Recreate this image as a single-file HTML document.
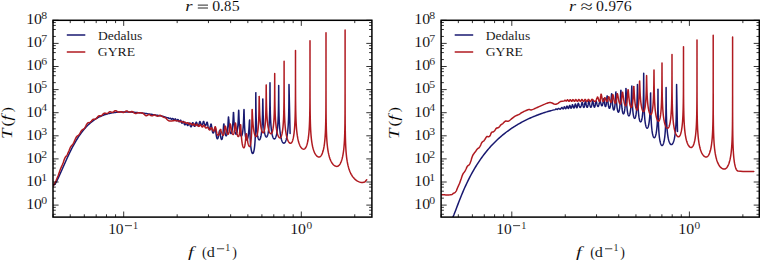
<!DOCTYPE html>
<html><head><meta charset="utf-8"><style>
html,body{margin:0;padding:0;background:#fff;width:760px;height:260px;overflow:hidden}
svg{display:block}
</style></head><body>
<svg width="760" height="260" viewBox="0 0 760 260">
<defs>
<clipPath id="cL"><rect x="53.0" y="20.3" width="318.90" height="196.80"/></clipPath>
<clipPath id="cR"><rect x="441.1" y="20.3" width="318.20" height="196.80"/></clipPath>
</defs>
<rect width="760" height="260" fill="#fff"/>
<g font-family="'Liberation Serif', serif" fill="#000" stroke="#fff" stroke-width="0.16" stroke-opacity="0.7">
<text transform="translate(27.60,208.90) scale(1.053,1)" x="-1.32" y="0" font-size="15.0">10</text>
<text transform="translate(41.15,203.80) scale(1.12,1)" x="0" y="0" font-size="10.5">0</text>
<text transform="translate(27.60,185.80) scale(1.053,1)" x="-1.32" y="0" font-size="15.0">10</text>
<text transform="translate(41.15,180.70) scale(1.12,1)" x="0" y="0" font-size="10.5">1</text>
<text transform="translate(27.60,162.70) scale(1.053,1)" x="-1.32" y="0" font-size="15.0">10</text>
<text transform="translate(41.15,157.60) scale(1.12,1)" x="0" y="0" font-size="10.5">2</text>
<text transform="translate(27.60,139.60) scale(1.053,1)" x="-1.32" y="0" font-size="15.0">10</text>
<text transform="translate(41.15,134.50) scale(1.12,1)" x="0" y="0" font-size="10.5">3</text>
<text transform="translate(27.60,116.50) scale(1.053,1)" x="-1.32" y="0" font-size="15.0">10</text>
<text transform="translate(41.15,111.40) scale(1.12,1)" x="0" y="0" font-size="10.5">4</text>
<text transform="translate(27.60,93.40) scale(1.053,1)" x="-1.32" y="0" font-size="15.0">10</text>
<text transform="translate(41.15,88.30) scale(1.12,1)" x="0" y="0" font-size="10.5">5</text>
<text transform="translate(27.60,70.30) scale(1.053,1)" x="-1.32" y="0" font-size="15.0">10</text>
<text transform="translate(41.15,65.20) scale(1.12,1)" x="0" y="0" font-size="10.5">6</text>
<text transform="translate(27.60,47.20) scale(1.053,1)" x="-1.32" y="0" font-size="15.0">10</text>
<text transform="translate(41.15,42.10) scale(1.12,1)" x="0" y="0" font-size="10.5">7</text>
<text transform="translate(27.60,24.10) scale(1.053,1)" x="-1.32" y="0" font-size="15.0">10</text>
<text transform="translate(41.15,19.00) scale(1.12,1)" x="0" y="0" font-size="10.5">8</text>
<text transform="translate(415.70,208.90) scale(1.053,1)" x="-1.32" y="0" font-size="15.0">10</text>
<text transform="translate(429.25,203.80) scale(1.12,1)" x="0" y="0" font-size="10.5">0</text>
<text transform="translate(415.70,185.80) scale(1.053,1)" x="-1.32" y="0" font-size="15.0">10</text>
<text transform="translate(429.25,180.70) scale(1.12,1)" x="0" y="0" font-size="10.5">1</text>
<text transform="translate(415.70,162.70) scale(1.053,1)" x="-1.32" y="0" font-size="15.0">10</text>
<text transform="translate(429.25,157.60) scale(1.12,1)" x="0" y="0" font-size="10.5">2</text>
<text transform="translate(415.70,139.60) scale(1.053,1)" x="-1.32" y="0" font-size="15.0">10</text>
<text transform="translate(429.25,134.50) scale(1.12,1)" x="0" y="0" font-size="10.5">3</text>
<text transform="translate(415.70,116.50) scale(1.053,1)" x="-1.32" y="0" font-size="15.0">10</text>
<text transform="translate(429.25,111.40) scale(1.12,1)" x="0" y="0" font-size="10.5">4</text>
<text transform="translate(415.70,93.40) scale(1.053,1)" x="-1.32" y="0" font-size="15.0">10</text>
<text transform="translate(429.25,88.30) scale(1.12,1)" x="0" y="0" font-size="10.5">5</text>
<text transform="translate(415.70,70.30) scale(1.053,1)" x="-1.32" y="0" font-size="15.0">10</text>
<text transform="translate(429.25,65.20) scale(1.12,1)" x="0" y="0" font-size="10.5">6</text>
<text transform="translate(415.70,47.20) scale(1.053,1)" x="-1.32" y="0" font-size="15.0">10</text>
<text transform="translate(429.25,42.10) scale(1.12,1)" x="0" y="0" font-size="10.5">7</text>
<text transform="translate(415.70,24.10) scale(1.053,1)" x="-1.32" y="0" font-size="15.0">10</text>
<text transform="translate(429.25,19.00) scale(1.12,1)" x="0" y="0" font-size="10.5">8</text>
<text transform="translate(109.50,233.80) scale(1.030,1)" x="-1.32" y="0" font-size="15.0">10</text>
<rect x="124.90" y="225.27" width="7.10" height="0.85"/>
<text transform="translate(134.00,228.60) scale(0.974,1)" x="-0.92" y="0" font-size="10.5">1</text>
<text transform="translate(291.60,233.90) scale(1.053,1)" x="-1.32" y="0" font-size="15.0">10</text>
<text transform="translate(306.90,228.50) scale(1.079,1)" x="-0.40" y="0" font-size="10.5">0</text>
<text transform="translate(497.60,233.80) scale(1.030,1)" x="-1.32" y="0" font-size="15.0">10</text>
<rect x="513.00" y="225.27" width="7.10" height="0.85"/>
<text transform="translate(522.10,228.60) scale(0.974,1)" x="-0.92" y="0" font-size="10.5">1</text>
<text transform="translate(679.70,233.90) scale(1.053,1)" x="-1.32" y="0" font-size="15.0">10</text>
<text transform="translate(695.00,228.50) scale(1.079,1)" x="-0.40" y="0" font-size="10.5">0</text>
<text transform="translate(188.10,256.50) scale(1.335,1)" x="-0.17" y="0" font-size="15.5" font-style="italic">f</text>
<text transform="translate(202.70,256.50) scale(0.904,1)" x="-0.68" y="0" font-size="15.5">(</text>
<text transform="translate(207.30,256.50) scale(1.043,1)" x="-0.56" y="0" font-size="15.5">d</text>
<rect x="216.90" y="248.38" width="7.30" height="0.85"/>
<text transform="translate(226.20,251.20) scale(0.947,1)" x="-0.92" y="0" font-size="10.5">1</text>
<text transform="translate(232.70,256.50) scale(0.904,1)" x="-0.50" y="0" font-size="15.5">)</text>
<text transform="translate(576.20,256.50) scale(1.335,1)" x="-0.17" y="0" font-size="15.5" font-style="italic">f</text>
<text transform="translate(590.80,256.50) scale(0.904,1)" x="-0.68" y="0" font-size="15.5">(</text>
<text transform="translate(595.40,256.50) scale(1.043,1)" x="-0.56" y="0" font-size="15.5">d</text>
<rect x="605.00" y="248.38" width="7.30" height="0.85"/>
<text transform="translate(614.30,251.20) scale(0.947,1)" x="-0.92" y="0" font-size="10.5">1</text>
<text transform="translate(620.80,256.50) scale(0.904,1)" x="-0.50" y="0" font-size="15.5">)</text>
<text transform="translate(11.60,137.70) rotate(-90) scale(1.220,1)" x="-1.01" y="0" font-size="15.5" font-style="italic">T</text>
<text transform="translate(11.60,125.80) rotate(-90) scale(1.130,1)" x="-0.68" y="0" font-size="15.5">(</text>
<text transform="translate(11.60,120.50) rotate(-90) scale(1.301,1)" x="-0.17" y="0" font-size="15.5" font-style="italic">f</text>
<text transform="translate(11.60,111.70) rotate(-90) scale(1.005,1)" x="-0.50" y="0" font-size="15.5">)</text>
<text transform="translate(399.10,137.70) rotate(-90) scale(1.220,1)" x="-1.01" y="0" font-size="15.5" font-style="italic">T</text>
<text transform="translate(399.10,125.80) rotate(-90) scale(1.130,1)" x="-0.68" y="0" font-size="15.5">(</text>
<text transform="translate(399.10,120.50) rotate(-90) scale(1.301,1)" x="-0.17" y="0" font-size="15.5" font-style="italic">f</text>
<text transform="translate(399.10,111.70) rotate(-90) scale(1.005,1)" x="-0.50" y="0" font-size="15.5">)</text>
<text transform="translate(186.00,10.50) scale(1.211,1)" x="-0.63" y="0" font-size="15.5" font-style="italic">r</text>
<rect x="197.80" y="4.62" width="10.20" height="0.95"/>
<rect x="197.80" y="7.53" width="10.20" height="0.95"/>
<text transform="translate(212.90,10.70) scale(1.020,1)" x="-0.59" y="0" font-size="15.5">0</text>
<text transform="translate(220.90,10.70) scale(1.147,1)" x="-1.02" y="0" font-size="15.5">.</text>
<text transform="translate(224.60,10.70) scale(0.944,1)" x="-0.59" y="0" font-size="15.5">8</text>
<text transform="translate(232.60,10.70) scale(1.025,1)" x="-0.90" y="0" font-size="15.5">5</text>
<text transform="translate(569.80,10.50) scale(1.174,1)" x="-0.63" y="0" font-size="15.5" font-style="italic">r</text>
<text transform="translate(581.10,11.60) scale(1.327,1)" x="-0.47" y="0" font-size="16.8">≈</text>
<text transform="translate(596.70,10.60) scale(1.020,1)" x="-0.59" y="0" font-size="15.5">0</text>
<text transform="translate(605.00,10.60) scale(1.201,1)" x="-1.02" y="0" font-size="15.5">.</text>
<text transform="translate(609.10,10.60) scale(0.968,1)" x="-0.50" y="0" font-size="15.5">9</text>
<text transform="translate(616.90,10.60) scale(1.019,1)" x="-1.02" y="0" font-size="15.5">7</text>
<text transform="translate(624.40,10.60) scale(1.027,1)" x="-0.67" y="0" font-size="15.5">6</text>
<path d="M66.80,35.0H85.30" stroke="#191970" stroke-width="1.5" stroke-opacity="1"/>
<path d="M66.80,52.0H85.30" stroke="#b01a20" stroke-width="1.5" stroke-opacity="1"/>
<text transform="translate(98.30,39.50) scale(1.101,1)" x="-0.35" y="0" font-size="12.3">Dedalus</text>
<text transform="translate(98.30,56.00) scale(1.115,1)" x="-0.50" y="0" font-size="12.3">GYRE</text>
<path d="M454.70,35.0H473.20" stroke="#191970" stroke-width="1.5" stroke-opacity="1"/>
<path d="M454.70,52.0H473.20" stroke="#b01a20" stroke-width="1.5" stroke-opacity="1"/>
<text transform="translate(486.20,39.50) scale(1.101,1)" x="-0.35" y="0" font-size="12.3">Dedalus</text>
<text transform="translate(486.20,56.00) scale(1.115,1)" x="-0.50" y="0" font-size="12.3">GYRE</text>
</g>
<path d="M54.30,184.80 L55.30,183.76 L56.30,181.93 L57.30,179.96 L58.30,177.88 L59.30,175.73 L60.30,173.51 L61.30,171.26 L62.30,168.99 L63.30,166.71 L64.30,164.43 L65.30,162.18 L66.30,159.95 L67.30,157.76 L68.30,155.61 L69.30,153.51 L70.30,151.46 L71.30,149.46 L72.30,147.52 L73.30,145.64 L74.30,143.82 L75.30,142.06 L76.30,140.37 L77.30,138.74 L78.30,137.17 L79.30,135.67 L80.30,134.22 L81.30,132.84 L82.30,131.52 L83.30,130.26 L84.30,129.05 L85.30,127.90 L86.30,126.81 L87.30,125.77 L88.30,124.79 L89.30,123.85 L90.30,122.96 L91.30,122.12 L92.30,121.33 L93.30,120.58 L94.30,119.87 L95.30,119.21 L96.30,118.58 L97.30,118.00 L98.30,117.44 L99.30,116.93 L100.30,116.45 L101.30,116.00 L102.30,115.58 L103.30,115.19 L104.30,114.83 L105.30,114.49 L106.30,114.19 L107.30,113.90 L108.30,113.64 L109.30,113.40 L110.30,113.19 L111.30,112.99 L112.30,112.81 L113.30,112.66 L114.30,112.52 L115.30,112.39 L116.30,112.28 L117.30,112.19 L118.30,112.11 L119.30,112.05 L120.30,111.99 L121.30,111.95 L122.30,111.92 L123.30,111.91 L124.30,111.90 L125.30,111.90 L126.30,111.92 L127.30,111.94 L128.30,111.97 L129.30,112.00 L130.30,112.05 L131.30,112.10 L132.30,112.16 L133.30,112.23 L134.30,112.30 L135.30,112.38 L136.30,112.47 L137.30,112.56 L138.30,112.65 L139.30,112.75 L140.30,112.86 L141.30,112.97 L142.30,113.08 L143.30,113.20 L144.30,113.33 L145.30,113.46 L146.30,113.59 L147.30,113.73 L148.30,113.87 L149.30,114.01 L150.30,114.16 L151.30,114.31 L152.30,114.47 L153.30,114.63 L154.30,114.80 L155.30,114.97 L156.30,115.14 L157.30,115.31 L158.30,115.50 L159.30,115.68 L160.00,115.81 L162.38,116.21 L162.41,116.21 L162.44,116.22 L162.47,116.22 L162.50,116.22 L162.53,116.23 L162.56,116.24 L162.59,116.24 L162.62,116.25 L162.65,116.26 L162.68,116.27 L162.71,116.28 L162.74,116.29 L162.77,116.31 L162.80,116.32 L162.83,116.33 L162.86,116.35 L162.89,116.36 L162.92,116.38 L162.95,116.39 L162.98,116.40 L163.01,116.42 L163.04,116.43 L163.07,116.44 L163.10,116.46 L163.13,116.47 L163.16,116.48 L163.19,116.49 L163.22,116.50 L163.25,116.51 L163.28,116.52 L163.31,116.52 L163.34,116.53 L163.37,116.53 L163.40,116.54 L163.43,116.54 L163.46,116.54 L163.49,116.54 L163.52,116.54 L163.55,116.54 L163.58,116.55 L163.62,116.55 L163.65,116.56 L163.68,116.57 L163.71,116.58 L163.74,116.59 L163.77,116.60 L163.80,116.61 L163.83,116.62 L163.86,116.64 L163.89,116.65 L163.93,116.66 L163.96,116.68 L163.99,116.69 L164.02,116.71 L164.05,116.72 L164.08,116.74 L164.11,116.75 L164.14,116.76 L164.17,116.78 L164.20,116.79 L164.23,116.80 L164.27,116.81 L164.30,116.82 L164.33,116.83 L164.36,116.84 L164.39,116.85 L164.42,116.86 L164.45,116.86 L164.48,116.87 L164.51,116.87 L164.54,116.87 L164.57,116.87 L164.61,116.87 L164.64,116.87 L164.67,116.88 L164.70,116.88 L164.73,116.89 L164.76,116.89 L164.79,116.90 L164.82,116.91 L164.85,116.91 L164.88,116.92 L164.92,116.93 L164.95,116.94 L164.98,116.96 L165.01,116.97 L165.04,116.98 L165.07,116.99 L165.10,117.00 L165.13,117.02 L165.16,117.03 L165.19,117.04 L165.22,117.05 L165.26,117.06 L165.29,117.08 L165.32,117.09 L165.35,117.10 L165.38,117.11 L165.41,117.12 L165.44,117.12 L165.47,117.13 L165.50,117.14 L165.53,117.14 L165.56,117.15 L165.60,117.15 L165.63,117.16 L165.66,117.16 L165.69,117.16 L165.72,117.16 L165.75,117.16 L165.78,117.17 L165.82,117.17 L165.85,117.18 L165.88,117.19 L165.91,117.21 L165.94,117.22 L165.98,117.24 L166.01,117.25 L166.04,117.27 L166.07,117.29 L166.10,117.31 L166.13,117.33 L166.17,117.36 L166.20,117.38 L166.23,117.40 L166.26,117.42 L166.29,117.45 L166.33,117.47 L166.36,117.49 L166.39,117.51 L166.42,117.53 L166.45,117.55 L166.49,117.57 L166.52,117.59 L166.55,117.61 L166.58,117.62 L166.61,117.63 L166.64,117.65 L166.68,117.66 L166.71,117.66 L166.74,117.67 L166.77,117.68 L166.80,117.68 L166.84,117.68 L166.87,117.68 L166.90,117.68 L166.93,117.68 L166.96,117.68 L166.99,117.68 L167.03,117.68 L167.06,117.68 L167.09,117.68 L167.12,117.68 L167.15,117.68 L167.19,117.68 L167.22,117.68 L167.25,117.68 L167.28,117.68 L167.31,117.68 L167.35,117.68 L167.38,117.68 L167.41,117.68 L167.44,117.68 L167.47,117.68 L167.50,117.68 L167.54,117.68 L167.57,117.68 L167.60,117.68 L167.63,117.68 L167.66,117.68 L167.70,117.68 L167.73,117.69 L167.76,117.69 L167.79,117.69 L167.82,117.69 L167.85,117.69 L167.89,117.69 L167.92,117.69 L167.95,117.69 L167.98,117.69 L168.02,117.69 L168.05,117.69 L168.08,117.70 L168.11,117.71 L168.15,117.73 L168.18,117.75 L168.21,117.77 L168.24,117.79 L168.28,117.82 L168.31,117.85 L168.34,117.88 L168.38,117.91 L168.41,117.94 L168.44,117.98 L168.47,118.02 L168.51,118.05 L168.54,118.09 L168.57,118.13 L168.61,118.17 L168.64,118.20 L168.67,118.24 L168.70,118.27 L168.74,118.31 L168.77,118.34 L168.80,118.37 L168.84,118.40 L168.87,118.42 L168.90,118.45 L168.93,118.47 L168.97,118.49 L169.00,118.50 L169.03,118.52 L169.07,118.53 L169.10,118.53 L169.13,118.54 L169.16,118.54 L169.20,118.54 L169.23,118.54 L169.26,118.54 L169.30,118.53 L169.33,118.53 L169.36,118.52 L169.39,118.51 L169.43,118.50 L169.46,118.49 L169.49,118.48 L169.53,118.47 L169.56,118.46 L169.59,118.44 L169.62,118.43 L169.66,118.41 L169.69,118.40 L169.72,118.39 L169.76,118.37 L169.79,118.36 L169.82,118.34 L169.85,118.33 L169.89,118.31 L169.92,118.30 L169.95,118.28 L169.99,118.27 L170.02,118.26 L170.05,118.25 L170.08,118.24 L170.12,118.23 L170.15,118.22 L170.18,118.21 L170.22,118.21 L170.25,118.20 L170.28,118.20 L170.31,118.20 L170.35,118.20 L170.38,118.20 L170.41,118.20 L170.45,118.22 L170.48,118.23 L170.52,118.25 L170.55,118.27 L170.58,118.30 L170.62,118.33 L170.65,118.36 L170.69,118.40 L170.72,118.44 L170.75,118.48 L170.79,118.53 L170.82,118.57 L170.85,118.62 L170.89,118.66 L170.92,118.71 L170.96,118.76 L170.99,118.80 L171.02,118.85 L171.06,118.89 L171.09,118.94 L171.13,118.98 L171.16,119.02 L171.19,119.06 L171.23,119.09 L171.26,119.13 L171.29,119.16 L171.33,119.18 L171.36,119.21 L171.40,119.23 L171.43,119.24 L171.46,119.26 L171.50,119.27 L171.53,119.27 L171.57,119.27 L171.60,119.27 L171.63,119.27 L171.67,119.26 L171.70,119.25 L171.74,119.24 L171.77,119.22 L171.80,119.21 L171.84,119.19 L171.87,119.17 L171.90,119.14 L171.94,119.12 L171.97,119.09 L172.01,119.06 L172.04,119.03 L172.07,119.00 L172.11,118.97 L172.14,118.94 L172.18,118.90 L172.21,118.87 L172.24,118.84 L172.28,118.80 L172.31,118.77 L172.34,118.74 L172.38,118.71 L172.41,118.68 L172.45,118.65 L172.48,118.63 L172.51,118.61 L172.55,118.58 L172.58,118.57 L172.62,118.55 L172.65,118.54 L172.68,118.53 L172.72,118.52 L172.75,118.51 L172.79,118.51 L172.82,118.52 L172.86,118.52 L172.89,118.54 L172.93,118.56 L172.96,118.59 L172.99,118.62 L173.03,118.66 L173.06,118.70 L173.10,118.74 L173.13,118.79 L173.17,118.85 L173.20,118.90 L173.24,118.96 L173.27,119.02 L173.31,119.08 L173.34,119.14 L173.38,119.21 L173.41,119.27 L173.45,119.33 L173.48,119.39 L173.52,119.45 L173.55,119.51 L173.59,119.56 L173.62,119.61 L173.66,119.66 L173.69,119.71 L173.73,119.75 L173.76,119.79 L173.80,119.83 L173.83,119.86 L173.87,119.88 L173.90,119.90 L173.94,119.92 L173.97,119.93 L174.01,119.94 L174.04,119.94 L174.08,119.94 L174.11,119.93 L174.15,119.93 L174.18,119.91 L174.22,119.90 L174.25,119.88 L174.29,119.85 L174.32,119.83 L174.36,119.80 L174.39,119.76 L174.43,119.73 L174.46,119.69 L174.50,119.65 L174.53,119.61 L174.57,119.57 L174.60,119.52 L174.64,119.47 L174.67,119.43 L174.71,119.38 L174.74,119.33 L174.78,119.29 L174.81,119.24 L174.85,119.20 L174.88,119.15 L174.92,119.11 L174.95,119.07 L174.99,119.04 L175.02,119.00 L175.06,118.97 L175.09,118.95 L175.13,118.92 L175.16,118.90 L175.20,118.89 L175.23,118.88 L175.27,118.87 L175.30,118.87 L175.34,118.87 L175.38,118.89 L175.41,118.91 L175.45,118.94 L175.48,118.97 L175.52,119.02 L175.56,119.07 L175.59,119.13 L175.63,119.19 L175.67,119.26 L175.70,119.33 L175.74,119.41 L175.77,119.49 L175.81,119.57 L175.85,119.65 L175.88,119.74 L175.92,119.82 L175.95,119.91 L175.99,119.99 L176.03,120.07 L176.06,120.15 L176.10,120.23 L176.14,120.30 L176.17,120.37 L176.21,120.43 L176.24,120.49 L176.28,120.55 L176.32,120.60 L176.35,120.65 L176.39,120.69 L176.42,120.72 L176.46,120.75 L176.50,120.77 L176.53,120.79 L176.57,120.80 L176.61,120.80 L176.64,120.80 L176.68,120.79 L176.71,120.78 L176.75,120.76 L176.79,120.74 L176.82,120.72 L176.86,120.69 L176.89,120.66 L176.93,120.62 L176.97,120.58 L177.00,120.54 L177.04,120.49 L177.08,120.44 L177.11,120.39 L177.15,120.34 L177.18,120.28 L177.22,120.22 L177.26,120.17 L177.29,120.11 L177.33,120.05 L177.36,119.99 L177.40,119.93 L177.44,119.88 L177.47,119.82 L177.51,119.77 L177.55,119.72 L177.58,119.68 L177.62,119.63 L177.65,119.59 L177.69,119.56 L177.73,119.53 L177.76,119.51 L177.80,119.49 L177.83,119.47 L177.87,119.46 L177.91,119.46 L177.94,119.47 L177.98,119.48 L178.02,119.51 L178.06,119.54 L178.09,119.59 L178.13,119.65 L178.17,119.71 L178.21,119.78 L178.24,119.86 L178.28,119.94 L178.32,120.03 L178.36,120.13 L178.39,120.22 L178.43,120.32 L178.47,120.43 L178.51,120.53 L178.54,120.63 L178.58,120.73 L178.62,120.83 L178.66,120.93 L178.69,121.02 L178.73,121.11 L178.77,121.20 L178.81,121.28 L178.84,121.36 L178.88,121.43 L178.92,121.49 L178.95,121.55 L178.99,121.61 L179.03,121.65 L179.07,121.69 L179.10,121.73 L179.14,121.75 L179.18,121.77 L179.22,121.78 L179.25,121.79 L179.29,121.78 L179.33,121.77 L179.37,121.76 L179.40,121.74 L179.44,121.72 L179.48,121.69 L179.52,121.66 L179.55,121.62 L179.59,121.58 L179.63,121.53 L179.67,121.48 L179.70,121.42 L179.74,121.37 L179.78,121.31 L179.82,121.24 L179.85,121.18 L179.89,121.11 L179.93,121.04 L179.97,120.97 L180.00,120.90 L180.04,120.83 L180.08,120.76 L180.11,120.70 L180.15,120.63 L180.19,120.57 L180.23,120.51 L180.26,120.45 L180.30,120.40 L180.34,120.36 L180.38,120.31 L180.41,120.28 L180.45,120.25 L180.49,120.22 L180.53,120.21 L180.56,120.20 L180.60,120.19 L180.64,120.20 L180.68,120.22 L180.72,120.26 L180.76,120.31 L180.80,120.37 L180.83,120.45 L180.87,120.53 L180.91,120.63 L180.95,120.74 L180.99,120.85 L181.03,120.97 L181.07,121.09 L181.11,121.22 L181.14,121.35 L181.18,121.48 L181.22,121.62 L181.26,121.75 L181.30,121.88 L181.34,122.01 L181.38,122.13 L181.42,122.25 L181.45,122.37 L181.49,122.48 L181.53,122.58 L181.57,122.68 L181.61,122.76 L181.65,122.85 L181.69,122.92 L181.73,122.99 L181.76,123.05 L181.80,123.09 L181.84,123.13 L181.88,123.17 L181.92,123.19 L181.96,123.20 L182.00,123.21 L182.04,123.20 L182.07,123.20 L182.11,123.18 L182.15,123.16 L182.19,123.13 L182.23,123.10 L182.27,123.06 L182.31,123.02 L182.35,122.97 L182.39,122.92 L182.42,122.86 L182.46,122.80 L182.50,122.73 L182.54,122.66 L182.58,122.59 L182.62,122.52 L182.66,122.44 L182.70,122.36 L182.73,122.28 L182.77,122.20 L182.81,122.12 L182.85,122.05 L182.89,121.97 L182.93,121.89 L182.97,121.82 L183.01,121.75 L183.04,121.69 L183.08,121.63 L183.12,121.57 L183.16,121.53 L183.20,121.48 L183.24,121.45 L183.28,121.42 L183.32,121.40 L183.35,121.39 L183.39,121.39 L183.43,121.39 L183.47,121.42 L183.51,121.46 L183.55,121.52 L183.60,121.60 L183.64,121.69 L183.68,121.79 L183.72,121.90 L183.76,122.03 L183.80,122.16 L183.84,122.30 L183.88,122.44 L183.92,122.59 L183.96,122.74 L184.00,122.90 L184.04,123.05 L184.08,123.20 L184.12,123.35 L184.16,123.49 L184.20,123.63 L184.24,123.77 L184.28,123.90 L184.32,124.02 L184.36,124.14 L184.40,124.25 L184.44,124.35 L184.48,124.44 L184.52,124.52 L184.56,124.59 L184.60,124.66 L184.64,124.71 L184.69,124.76 L184.73,124.79 L184.77,124.82 L184.81,124.83 L184.85,124.84 L184.89,124.84 L184.93,124.83 L184.97,124.81 L185.01,124.80 L185.05,124.77 L185.09,124.74 L185.13,124.71 L185.17,124.67 L185.21,124.62 L185.25,124.58 L185.29,124.52 L185.33,124.47 L185.37,124.41 L185.41,124.35 L185.45,124.28 L185.49,124.21 L185.53,124.14 L185.57,124.07 L185.61,124.00 L185.65,123.93 L185.69,123.86 L185.73,123.79 L185.78,123.72 L185.82,123.65 L185.86,123.59 L185.90,123.53 L185.94,123.47 L185.98,123.42 L186.02,123.37 L186.06,123.32 L186.10,123.29 L186.14,123.26 L186.18,123.23 L186.22,123.21 L186.26,123.20 L186.30,123.20 L186.34,123.21 L186.38,123.22 L186.42,123.25 L186.46,123.28 L186.50,123.33 L186.54,123.38 L186.58,123.45 L186.62,123.52 L186.66,123.59 L186.70,123.68 L186.74,123.77 L186.78,123.86 L186.82,123.95 L186.86,124.05 L186.90,124.15 L186.94,124.25 L186.98,124.35 L187.03,124.45 L187.07,124.55 L187.11,124.65 L187.15,124.74 L187.19,124.83 L187.23,124.92 L187.27,125.00 L187.31,125.08 L187.35,125.15 L187.39,125.21 L187.43,125.27 L187.47,125.32 L187.51,125.37 L187.55,125.41 L187.59,125.44 L187.63,125.47 L187.67,125.49 L187.71,125.50 L187.75,125.50 L187.79,125.50 L187.83,125.48 L187.87,125.46 L187.91,125.44 L187.95,125.40 L187.99,125.36 L188.03,125.31 L188.07,125.25 L188.11,125.19 L188.15,125.12 L188.19,125.04 L188.23,124.96 L188.27,124.87 L188.31,124.78 L188.35,124.69 L188.39,124.58 L188.43,124.48 L188.47,124.37 L188.52,124.27 L188.56,124.16 L188.60,124.05 L188.64,123.94 L188.68,123.83 L188.72,123.72 L188.76,123.62 L188.80,123.53 L188.84,123.43 L188.88,123.35 L188.92,123.27 L188.96,123.20 L189.00,123.14 L189.04,123.09 L189.08,123.05 L189.12,123.02 L189.16,123.01 L189.20,123.00 L189.25,123.01 L189.30,123.04 L189.35,123.09 L189.40,123.16 L189.45,123.24 L189.50,123.34 L189.55,123.46 L189.60,123.58 L189.65,123.72 L189.70,123.87 L189.75,124.03 L189.80,124.19 L189.85,124.35 L189.90,124.52 L189.95,124.69 L190.00,124.85 L190.05,125.02 L190.10,125.18 L190.15,125.34 L190.20,125.50 L190.25,125.64 L190.30,125.78 L190.35,125.92 L190.40,126.04 L190.45,126.16 L190.50,126.27 L190.55,126.37 L190.60,126.46 L190.65,126.54 L190.70,126.61 L190.75,126.67 L190.80,126.71 L190.85,126.75 L190.90,126.78 L190.95,126.79 L191.00,126.80 L191.05,126.79 L191.10,126.78 L191.15,126.75 L191.20,126.71 L191.25,126.66 L191.30,126.60 L191.35,126.52 L191.40,126.44 L191.45,126.34 L191.50,126.24 L191.55,126.12 L191.60,126.00 L191.65,125.86 L191.70,125.72 L191.75,125.57 L191.80,125.41 L191.85,125.25 L191.90,125.08 L191.95,124.90 L192.00,124.73 L192.05,124.54 L192.10,124.36 L192.15,124.18 L192.20,124.00 L192.25,123.83 L192.30,123.66 L192.35,123.49 L192.40,123.34 L192.45,123.20 L192.50,123.08 L192.55,122.97 L192.60,122.87 L192.65,122.80 L192.70,122.74 L192.75,122.71 L192.80,122.70 L192.85,122.71 L192.90,122.74 L192.95,122.78 L192.99,122.84 L193.04,122.92 L193.09,123.02 L193.14,123.13 L193.19,123.24 L193.24,123.37 L193.29,123.51 L193.33,123.66 L193.38,123.81 L193.43,123.97 L193.48,124.13 L193.53,124.28 L193.58,124.44 L193.63,124.60 L193.68,124.75 L193.72,124.91 L193.77,125.05 L193.82,125.19 L193.87,125.33 L193.92,125.45 L193.97,125.57 L194.02,125.69 L194.06,125.79 L194.11,125.89 L194.16,125.97 L194.21,126.05 L194.26,126.11 L194.31,126.17 L194.36,126.22 L194.40,126.25 L194.45,126.28 L194.50,126.29 L194.55,126.30 L194.60,126.29 L194.65,126.28 L194.70,126.25 L194.74,126.21 L194.79,126.16 L194.84,126.10 L194.89,126.02 L194.94,125.94 L194.99,125.84 L195.04,125.74 L195.08,125.62 L195.13,125.50 L195.18,125.36 L195.23,125.22 L195.28,125.07 L195.33,124.91 L195.38,124.75 L195.43,124.58 L195.47,124.40 L195.52,124.23 L195.57,124.04 L195.62,123.86 L195.67,123.68 L195.72,123.50 L195.77,123.33 L195.81,123.16 L195.86,122.99 L195.91,122.84 L195.96,122.70 L196.01,122.58 L196.06,122.47 L196.11,122.37 L196.15,122.30 L196.20,122.24 L196.25,122.21 L196.30,122.20 L196.35,122.21 L196.40,122.24 L196.45,122.29 L196.50,122.35 L196.55,122.43 L196.60,122.53 L196.65,122.64 L196.70,122.76 L196.75,122.90 L196.80,123.04 L196.85,123.19 L196.90,123.35 L196.95,123.51 L197.00,123.67 L197.05,123.84 L197.10,124.00 L197.15,124.16 L197.20,124.32 L197.25,124.47 L197.30,124.62 L197.35,124.77 L197.40,124.91 L197.45,125.04 L197.50,125.16 L197.55,125.27 L197.60,125.38 L197.65,125.48 L197.70,125.56 L197.75,125.64 L197.80,125.71 L197.85,125.77 L197.90,125.82 L197.95,125.85 L198.00,125.88 L198.05,125.89 L198.10,125.90 L198.15,125.89 L198.20,125.88 L198.25,125.85 L198.30,125.81 L198.35,125.75 L198.40,125.69 L198.45,125.61 L198.50,125.52 L198.55,125.43 L198.60,125.32 L198.65,125.20 L198.70,125.07 L198.75,124.93 L198.80,124.78 L198.85,124.63 L198.90,124.46 L198.95,124.29 L199.00,124.11 L199.05,123.93 L199.10,123.74 L199.15,123.55 L199.20,123.36 L199.25,123.17 L199.30,122.98 L199.35,122.80 L199.40,122.62 L199.45,122.45 L199.50,122.28 L199.55,122.14 L199.60,122.00 L199.65,121.88 L199.70,121.78 L199.75,121.70 L199.80,121.65 L199.85,121.61 L199.90,121.60 L199.95,121.61 L200.00,121.64 L200.05,121.68 L200.11,121.74 L200.16,121.82 L200.21,121.92 L200.26,122.03 L200.31,122.14 L200.36,122.27 L200.41,122.41 L200.47,122.56 L200.52,122.71 L200.57,122.87 L200.62,123.03 L200.67,123.18 L200.72,123.34 L200.77,123.50 L200.82,123.65 L200.88,123.81 L200.93,123.95 L200.98,124.09 L201.03,124.23 L201.08,124.35 L201.13,124.47 L201.18,124.59 L201.24,124.69 L201.29,124.79 L201.34,124.87 L201.39,124.95 L201.44,125.01 L201.49,125.07 L201.54,125.12 L201.60,125.15 L201.65,125.18 L201.70,125.19 L201.75,125.20 L201.80,125.19 L201.85,125.18 L201.90,125.15 L201.96,125.11 L202.01,125.07 L202.06,125.01 L202.11,124.94 L202.16,124.86 L202.21,124.77 L202.26,124.67 L202.32,124.56 L202.37,124.44 L202.42,124.32 L202.47,124.18 L202.52,124.04 L202.57,123.90 L202.62,123.74 L202.68,123.58 L202.73,123.42 L202.78,123.25 L202.83,123.09 L202.88,122.92 L202.93,122.75 L202.98,122.59 L203.03,122.43 L203.09,122.27 L203.14,122.12 L203.19,121.98 L203.24,121.86 L203.29,121.74 L203.34,121.64 L203.39,121.56 L203.45,121.49 L203.50,121.44 L203.55,121.41 L203.60,121.40 L203.65,121.41 L203.70,121.45 L203.75,121.51 L203.79,121.59 L203.84,121.69 L203.89,121.81 L203.94,121.95 L203.99,122.10 L204.04,122.27 L204.09,122.45 L204.13,122.63 L204.18,122.82 L204.23,123.01 L204.28,123.21 L204.33,123.41 L204.38,123.60 L204.43,123.79 L204.47,123.98 L204.52,124.16 L204.57,124.34 L204.62,124.50 L204.67,124.66 L204.72,124.81 L204.77,124.96 L204.82,125.09 L204.86,125.21 L204.91,125.32 L204.96,125.42 L205.01,125.51 L205.06,125.58 L205.11,125.65 L205.16,125.70 L205.20,125.75 L205.25,125.78 L205.30,125.79 L205.35,125.80 L205.40,125.79 L205.45,125.78 L205.50,125.75 L205.54,125.72 L205.59,125.67 L205.64,125.61 L205.69,125.55 L205.74,125.47 L205.79,125.39 L205.84,125.29 L205.88,125.19 L205.93,125.07 L205.98,124.95 L206.03,124.83 L206.08,124.69 L206.13,124.55 L206.18,124.41 L206.22,124.25 L206.27,124.10 L206.32,123.94 L206.37,123.78 L206.42,123.63 L206.47,123.47 L206.52,123.31 L206.57,123.16 L206.61,123.01 L206.66,122.87 L206.71,122.74 L206.76,122.63 L206.81,122.52 L206.86,122.42 L206.91,122.34 L206.95,122.28 L207.00,122.24 L207.05,122.21 L207.10,122.20 L207.16,122.22 L207.21,122.29 L207.27,122.41 L207.32,122.56 L207.38,122.75 L207.43,122.97 L207.49,123.22 L207.54,123.49 L207.60,123.78 L207.66,124.08 L207.71,124.39 L207.77,124.70 L207.82,125.01 L207.88,125.32 L207.93,125.62 L207.99,125.92 L208.04,126.20 L208.10,126.48 L208.16,126.74 L208.21,127.00 L208.27,127.24 L208.32,127.46 L208.38,127.67 L208.43,127.87 L208.49,128.05 L208.54,128.21 L208.60,128.36 L208.66,128.49 L208.71,128.61 L208.77,128.72 L208.82,128.80 L208.88,128.87 L208.93,128.93 L208.99,128.97 L209.04,128.99 L209.10,129.00 L209.16,128.99 L209.21,128.97 L209.27,128.94 L209.32,128.90 L209.38,128.84 L209.43,128.77 L209.49,128.68 L209.54,128.59 L209.60,128.48 L209.66,128.36 L209.71,128.23 L209.77,128.09 L209.82,127.93 L209.88,127.77 L209.93,127.59 L209.99,127.41 L210.04,127.22 L210.10,127.02 L210.16,126.81 L210.21,126.60 L210.27,126.38 L210.32,126.16 L210.38,125.94 L210.43,125.73 L210.49,125.51 L210.54,125.30 L210.60,125.10 L210.66,124.91 L210.71,124.74 L210.77,124.58 L210.82,124.44 L210.88,124.32 L210.93,124.23 L210.99,124.16 L211.04,124.11 L211.10,124.10 L211.16,124.14 L211.21,124.25 L211.27,124.43 L211.33,124.67 L211.38,124.96 L211.44,125.30 L211.50,125.66 L211.56,126.06 L211.61,126.47 L211.67,126.89 L211.73,127.31 L211.78,127.73 L211.84,128.14 L211.90,128.54 L211.95,128.93 L212.01,129.31 L212.07,129.67 L212.12,130.01 L212.18,130.34 L212.24,130.64 L212.30,130.93 L212.35,131.20 L212.41,131.45 L212.47,131.68 L212.52,131.89 L212.58,132.09 L212.64,132.26 L212.69,132.42 L212.75,132.55 L212.81,132.67 L212.87,132.77 L212.92,132.85 L212.98,132.92 L213.04,132.96 L213.09,132.99 L213.15,133.00 L213.21,132.99 L213.26,132.97 L213.32,132.94 L213.38,132.89 L213.43,132.83 L213.49,132.76 L213.55,132.67 L213.61,132.57 L213.66,132.45 L213.72,132.33 L213.78,132.19 L213.83,132.04 L213.89,131.87 L213.95,131.70 L214.00,131.51 L214.06,131.31 L214.12,131.11 L214.17,130.89 L214.23,130.67 L214.29,130.44 L214.35,130.21 L214.40,129.97 L214.46,129.74 L214.52,129.50 L214.57,129.26 L214.63,129.04 L214.69,128.81 L214.74,128.61 L214.80,128.41 L214.86,128.23 L214.92,128.08 L214.97,127.95 L215.03,127.84 L215.09,127.76 L215.14,127.72 L215.20,127.70 L215.26,127.76 L215.32,127.93 L215.38,128.20 L215.44,128.56 L215.51,128.99 L215.57,129.47 L215.63,129.99 L215.69,130.53 L215.75,131.08 L215.81,131.63 L215.87,132.17 L215.93,132.70 L215.99,133.21 L216.06,133.70 L216.12,134.17 L216.18,134.62 L216.24,135.04 L216.30,135.44 L216.36,135.82 L216.42,136.17 L216.48,136.50 L216.54,136.80 L216.61,137.08 L216.67,137.34 L216.73,137.58 L216.79,137.79 L216.85,137.99 L216.91,138.16 L216.97,138.31 L217.03,138.44 L217.09,138.55 L217.16,138.64 L217.22,138.71 L217.28,138.76 L217.34,138.79 L217.40,138.80 L217.46,138.79 L217.52,138.77 L217.58,138.72 L217.64,138.66 L217.71,138.58 L217.77,138.49 L217.83,138.37 L217.89,138.24 L217.95,138.10 L218.01,137.93 L218.07,137.75 L218.13,137.55 L218.19,137.33 L218.26,137.09 L218.32,136.84 L218.38,136.57 L218.44,136.28 L218.50,135.98 L218.56,135.66 L218.62,135.32 L218.68,134.98 L218.74,134.62 L218.81,134.25 L218.87,133.88 L218.93,133.50 L218.99,133.12 L219.05,132.75 L219.11,132.39 L219.17,132.04 L219.23,131.72 L219.29,131.43 L219.36,131.18 L219.42,130.98 L219.48,130.82 L219.54,130.73 L219.60,130.70 L219.66,130.74 L219.72,130.84 L219.78,131.02 L219.83,131.26 L219.89,131.54 L219.95,131.87 L220.01,132.24 L220.07,132.62 L220.12,133.03 L220.18,133.44 L220.24,133.86 L220.30,134.27 L220.36,134.68 L220.42,135.08 L220.47,135.46 L220.53,135.84 L220.59,136.19 L220.65,136.53 L220.71,136.85 L220.77,137.16 L220.82,137.44 L220.88,137.71 L220.94,137.96 L221.00,138.19 L221.06,138.40 L221.12,138.59 L221.17,138.77 L221.23,138.92 L221.29,139.06 L221.35,139.17 L221.41,139.27 L221.47,139.36 L221.52,139.42 L221.58,139.46 L221.64,139.49 L221.70,139.50 L221.85,139.43 L221.99,139.23 L222.13,138.91 L222.25,138.49 L222.38,137.98 L222.49,137.38 L222.60,136.72 L222.71,135.98 L222.81,135.19 L222.90,134.36 L222.99,133.48 L223.07,132.58 L223.14,131.66 L223.22,130.73 L223.28,129.82 L223.34,128.94 L223.40,128.10 L223.45,127.32 L223.50,126.61 L223.54,125.99 L223.58,125.47 L223.62,125.04 L223.65,124.70 L223.68,124.44 L223.70,124.25 L223.72,124.11 L223.74,124.03 L223.76,123.97 L223.77,123.93 L223.78,123.92 L223.79,123.91 L223.79,123.90 L223.80,123.90 L223.80,123.90 L223.80,123.90 L223.80,123.90 L223.80,123.90 L223.80,123.90 L223.80,123.90 L223.81,123.90 L223.81,123.90 L223.82,123.91 L223.83,123.92 L223.85,123.94 L223.86,123.96 L223.88,124.01 L223.91,124.08 L223.94,124.18 L223.97,124.32 L224.00,124.51 L224.04,124.76 L224.09,125.06 L224.13,125.44 L224.19,125.88 L224.25,126.40 L224.31,126.98 L224.38,127.61 L224.45,128.29 L224.53,129.00 L224.62,129.74 L224.71,130.48 L224.81,131.21 L224.91,131.93 L225.02,132.62 L225.14,133.27 L225.26,133.87 L225.39,134.40 L225.53,134.87 L225.67,135.26 L225.83,135.55 L225.98,135.73 L226.15,135.80 L226.32,135.73 L226.47,135.52 L226.63,135.19 L226.77,134.75 L226.91,134.22 L227.04,133.59 L227.16,132.89 L227.28,132.11 L227.39,131.27 L227.49,130.37 L227.59,129.41 L227.68,128.41 L227.77,127.38 L227.85,126.32 L227.92,125.25 L227.99,124.18 L228.05,123.13 L228.11,122.13 L228.17,121.19 L228.21,120.33 L228.26,119.57 L228.30,118.93 L228.33,118.40 L228.36,117.99 L228.39,117.68 L228.42,117.46 L228.44,117.31 L228.45,117.22 L228.47,117.16 L228.48,117.13 L228.49,117.11 L228.49,117.10 L228.50,117.10 L228.50,117.10 L228.50,117.10 L228.50,117.10 L228.50,117.10 L228.50,117.10 L228.50,117.10 L228.51,117.10 L228.51,117.11 L228.52,117.12 L228.54,117.14 L228.55,117.18 L228.57,117.24 L228.59,117.35 L228.61,117.50 L228.64,117.71 L228.68,118.01 L228.71,118.39 L228.76,118.87 L228.80,119.45 L228.86,120.13 L228.91,120.90 L228.97,121.73 L229.04,122.63 L229.12,123.56 L229.19,124.52 L229.28,125.48 L229.37,126.44 L229.47,127.37 L229.57,128.27 L229.68,129.13 L229.80,129.93 L229.92,130.68 L230.06,131.36 L230.19,131.96 L230.34,132.48 L230.49,132.90 L230.65,133.22 L230.82,133.43 L231.00,133.50 L231.18,133.43 L231.35,133.21 L231.51,132.88 L231.66,132.43 L231.81,131.89 L231.94,131.25 L232.08,130.53 L232.20,129.73 L232.32,128.86 L232.43,127.93 L232.53,126.93 L232.63,125.89 L232.72,124.79 L232.81,123.66 L232.88,122.50 L232.96,121.32 L233.03,120.15 L233.09,119.00 L233.14,117.89 L233.20,116.86 L233.24,115.92 L233.29,115.09 L233.32,114.40 L233.36,113.85 L233.39,113.42 L233.41,113.11 L233.43,112.90 L233.45,112.77 L233.46,112.68 L233.48,112.64 L233.49,112.61 L233.49,112.60 L233.50,112.60 L233.50,112.60 L233.50,112.60 L233.50,112.60 L233.50,112.60 L233.50,112.60 L233.50,112.60 L233.51,112.61 L233.52,112.62 L233.52,112.64 L233.54,112.69 L233.55,112.79 L233.57,112.94 L233.59,113.17 L233.62,113.51 L233.65,113.98 L233.68,114.59 L233.72,115.34 L233.77,116.22 L233.82,117.22 L233.87,118.31 L233.93,119.47 L233.99,120.66 L234.06,121.87 L234.14,123.08 L234.22,124.26 L234.31,125.42 L234.41,126.53 L234.51,127.59 L234.62,128.59 L234.73,129.54 L234.85,130.41 L234.98,131.22 L235.12,131.94 L235.26,132.58 L235.41,133.13 L235.57,133.58 L235.74,133.91 L235.92,134.13 L236.10,134.20 L236.28,134.12 L236.46,133.91 L236.63,133.57 L236.79,133.12 L236.94,132.56 L237.08,131.91 L237.22,131.18 L237.35,130.36 L237.47,129.47 L237.58,128.50 L237.69,127.47 L237.79,126.37 L237.89,125.22 L237.98,124.01 L238.06,122.76 L238.14,121.47 L238.21,120.16 L238.27,118.84 L238.33,117.53 L238.38,116.27 L238.43,115.07 L238.48,113.98 L238.52,113.03 L238.55,112.23 L238.58,111.59 L238.61,111.12 L238.63,110.79 L238.65,110.57 L238.66,110.44 L238.68,110.36 L238.68,110.32 L238.69,110.31 L238.70,110.30 L238.70,110.30 L238.70,110.30 L238.70,110.30 L238.70,110.30 L238.70,110.30 L238.70,110.30 L238.71,110.31 L238.72,110.33 L238.73,110.38 L238.74,110.48 L238.75,110.66 L238.77,110.95 L238.79,111.39 L238.82,112.00 L238.85,112.80 L238.89,113.78 L238.93,114.92 L238.97,116.18 L239.02,117.52 L239.08,118.92 L239.14,120.33 L239.20,121.74 L239.27,123.12 L239.35,124.46 L239.44,125.76 L239.53,127.00 L239.62,128.18 L239.73,129.30 L239.84,130.35 L239.95,131.33 L240.08,132.23 L240.21,133.06 L240.35,133.80 L240.50,134.45 L240.65,135.01 L240.81,135.47 L240.98,135.81 L241.16,136.02 L241.35,136.10 L241.54,136.02 L241.72,135.81 L241.89,135.46 L242.05,135.01 L242.20,134.45 L242.35,133.79 L242.49,133.05 L242.62,132.22 L242.75,131.31 L242.86,130.33 L242.97,129.27 L243.08,128.15 L243.17,126.96 L243.26,125.71 L243.35,124.40 L243.43,123.03 L243.50,121.63 L243.56,120.19 L243.62,118.74 L243.68,117.29 L243.73,115.88 L243.77,114.55 L243.81,113.34 L243.85,112.28 L243.88,111.40 L243.91,110.73 L243.93,110.24 L243.95,109.91 L243.96,109.71 L243.97,109.59 L243.98,109.54 L243.99,109.51 L244.00,109.50 L244.00,109.50 L244.00,109.50 L244.00,109.50 L244.00,109.50 L244.00,109.50 L244.00,109.50 L244.01,109.52 L244.02,109.57 L244.03,109.68 L244.04,109.89 L244.06,110.25 L244.08,110.82 L244.10,111.64 L244.13,112.70 L244.16,113.99 L244.20,115.45 L244.24,117.03 L244.29,118.67 L244.34,120.33 L244.40,121.97 L244.46,123.58 L244.53,125.13 L244.61,126.63 L244.69,128.06 L244.78,129.42 L244.87,130.72 L244.98,131.94 L245.08,133.09 L245.20,134.16 L245.33,135.16 L245.46,136.08 L245.60,136.92 L245.74,137.67 L245.90,138.34 L246.06,138.90 L246.23,139.36 L246.41,139.70 L246.60,139.92 L246.80,140.00 L247.00,139.93 L247.19,139.72 L247.37,139.38 L247.54,138.94 L247.70,138.40 L247.86,137.77 L248.00,137.06 L248.14,136.27 L248.27,135.41 L248.40,134.49 L248.52,133.51 L248.62,132.48 L248.73,131.41 L248.82,130.31 L248.91,129.19 L248.99,128.06 L249.07,126.94 L249.14,125.85 L249.20,124.82 L249.26,123.87 L249.31,123.01 L249.36,122.27 L249.40,121.66 L249.44,121.17 L249.47,120.80 L249.50,120.54 L249.52,120.36 L249.54,120.24 L249.56,120.17 L249.57,120.13 L249.58,120.11 L249.59,120.10 L249.60,120.10 L249.60,120.10 L249.60,120.10 L249.60,120.10 L249.60,120.10 L249.60,120.10 L249.60,120.11 L249.61,120.13 L249.62,120.21 L249.63,120.38 L249.64,120.70 L249.66,121.26 L249.68,122.09 L249.71,123.23 L249.74,124.63 L249.78,126.25 L249.82,127.99 L249.87,129.80 L249.92,131.62 L249.98,133.41 L250.04,135.16 L250.11,136.84 L250.19,138.45 L250.27,139.99 L250.36,141.46 L250.46,142.84 L250.57,144.16 L250.68,145.39 L250.80,146.55 L250.93,147.64 L251.07,148.64 L251.21,149.57 L251.37,150.41 L251.53,151.17 L251.70,151.83 L251.88,152.40 L252.07,152.86 L252.27,153.20 L252.48,153.42 L252.70,153.50 L252.92,153.42 L253.13,153.20 L253.33,152.85 L253.52,152.39 L253.70,151.82 L253.87,151.15 L254.03,150.39 L254.19,149.54 L254.33,148.61 L254.47,147.59 L254.60,146.49 L254.72,145.31 L254.83,144.05 L254.94,142.71 L255.04,141.28 L255.13,139.76 L255.21,138.14 L255.29,136.43 L255.36,134.60 L255.42,132.66 L255.48,130.58 L255.53,128.35 L255.58,125.96 L255.62,123.37 L255.66,120.57 L255.69,117.51 L255.72,114.17 L255.74,110.50 L255.76,106.50 L255.77,102.28 L255.78,98.18 L255.79,94.98 L255.80,93.29 L255.80,92.77 L255.80,92.70 L255.80,92.70 L255.80,92.70 L255.80,92.71 L255.81,92.77 L255.81,93.01 L255.82,93.63 L255.83,94.86 L255.85,96.78 L255.87,99.24 L255.90,101.98 L255.93,104.78 L255.96,107.51 L256.00,110.12 L256.05,112.59 L256.10,114.91 L256.16,117.09 L256.23,119.14 L256.30,121.06 L256.38,122.87 L256.46,124.58 L256.56,126.18 L256.66,127.70 L256.77,129.12 L256.89,130.46 L257.02,131.72 L257.16,132.90 L257.30,133.99 L257.46,135.01 L257.62,135.94 L257.79,136.79 L257.98,137.55 L258.17,138.22 L258.38,138.79 L258.59,139.26 L258.82,139.60 L259.05,139.82 L259.30,139.90 L259.55,139.82 L259.78,139.60 L260.01,139.26 L260.22,138.79 L260.43,138.22 L260.62,137.56 L260.81,136.80 L260.98,135.95 L261.14,135.02 L261.30,134.00 L261.44,132.91 L261.58,131.73 L261.71,130.48 L261.83,129.15 L261.94,127.73 L262.04,126.23 L262.14,124.63 L262.22,122.95 L262.30,121.17 L262.37,119.29 L262.44,117.30 L262.50,115.21 L262.55,113.02 L262.60,110.74 L262.64,108.43 L262.67,106.15 L262.70,104.01 L262.73,102.17 L262.75,100.74 L262.77,99.79 L262.78,99.26 L262.79,99.02 L262.79,98.93 L262.80,98.90 L262.80,98.90 L262.80,98.90 L262.80,98.90 L262.80,98.90 L262.81,98.92 L262.81,98.97 L262.82,99.13 L262.83,99.48 L262.85,100.12 L262.87,101.14 L262.90,102.56 L262.93,104.31 L262.97,106.29 L263.01,108.37 L263.05,110.49 L263.11,112.57 L263.17,114.59 L263.24,116.52 L263.31,118.37 L263.39,120.12 L263.48,121.79 L263.58,123.37 L263.69,124.86 L263.80,126.27 L263.92,127.60 L264.05,128.85 L264.19,130.02 L264.34,131.11 L264.50,132.12 L264.67,133.05 L264.85,133.90 L265.04,134.66 L265.24,135.33 L265.45,135.89 L265.67,136.36 L265.90,136.70 L266.15,136.92 L266.40,137.00 L266.65,136.92 L266.90,136.70 L267.13,136.35 L267.35,135.89 L267.56,135.32 L267.76,134.65 L267.95,133.89 L268.13,133.04 L268.30,132.11 L268.46,131.09 L268.61,129.99 L268.75,128.81 L268.88,127.55 L269.00,126.21 L269.11,124.78 L269.22,123.26 L269.32,121.65 L269.41,119.94 L269.49,118.12 L269.56,116.18 L269.63,114.11 L269.69,111.89 L269.75,109.52 L269.79,106.96 L269.83,104.20 L269.87,101.23 L269.90,98.04 L269.93,94.65 L269.95,91.18 L269.97,87.91 L269.98,85.29 L269.99,83.69 L269.99,83.01 L270.00,82.83 L270.00,82.80 L270.00,82.80 L270.00,82.80 L270.00,82.84 L270.01,83.08 L270.01,83.98 L270.03,85.98 L270.04,89.04 L270.06,92.63 L270.09,96.29 L270.12,99.79 L270.16,103.04 L270.20,106.05 L270.25,108.82 L270.31,111.39 L270.37,113.78 L270.45,115.99 L270.53,118.07 L270.62,120.01 L270.72,121.83 L270.83,123.55 L270.94,125.16 L271.07,126.68 L271.21,128.11 L271.36,129.45 L271.52,130.71 L271.69,131.89 L271.87,132.99 L272.06,134.01 L272.26,134.94 L272.48,135.79 L272.71,136.55 L272.95,137.22 L273.20,137.79 L273.47,138.25 L273.75,138.60 L274.04,138.82 L274.35,138.90 L274.66,138.82 L274.95,138.60 L275.23,138.25 L275.50,137.79 L275.75,137.22 L275.99,136.55 L276.22,135.79 L276.44,134.94 L276.64,134.01 L276.83,132.99 L277.01,131.89 L277.18,130.71 L277.34,129.45 L277.49,128.11 L277.63,126.68 L277.76,125.16 L277.87,123.55 L277.98,121.84 L278.08,120.02 L278.17,118.08 L278.25,116.01 L278.33,113.80 L278.39,111.43 L278.45,108.87 L278.50,106.13 L278.54,103.17 L278.58,100.00 L278.61,96.66 L278.64,93.27 L278.66,90.13 L278.67,87.67 L278.69,86.20 L278.69,85.59 L278.70,85.42 L278.70,85.40 L278.70,85.40 L278.70,85.40 L278.70,85.45 L278.71,85.77 L278.72,86.91 L278.73,89.31 L278.75,92.76 L278.77,96.61 L278.80,100.42 L278.84,103.99 L278.88,107.29 L278.94,110.31 L279.00,113.10 L279.06,115.68 L279.14,118.06 L279.23,120.29 L279.33,122.36 L279.43,124.31 L279.55,126.13 L279.68,127.85 L279.82,129.46 L279.97,130.98 L280.13,132.41 L280.31,133.75 L280.49,135.01 L280.70,136.19 L280.91,137.29 L281.14,138.31 L281.38,139.24 L281.64,140.09 L281.91,140.85 L282.19,141.52 L282.49,142.09 L282.81,142.55 L283.14,142.90 L283.49,143.12 L283.85,143.20 L284.21,143.12 L284.56,142.90 L284.89,142.55 L285.21,142.09 L285.51,141.52 L285.79,140.85 L286.06,140.09 L286.32,139.24 L286.56,138.31 L286.79,137.29 L287.00,136.19 L287.21,135.01 L287.39,133.75 L287.57,132.41 L287.73,130.98 L287.88,129.46 L288.02,127.85 L288.15,126.13 L288.27,124.31 L288.37,122.36 L288.47,120.28 L288.56,118.06 L288.64,115.67 L288.70,113.09 L288.76,110.30 L288.82,107.26 L288.86,103.95 L288.90,100.34 L288.93,96.47 L288.95,92.50 L288.97,88.85 L288.98,86.21 L288.99,84.93 L289.00,84.55 L289.00,84.50 L289.00,84.50 L290.10,133.60" stroke="#191970" stroke-width="1.5" fill="none" stroke-linejoin="round" stroke-linecap="round" clip-path="url(#cL)"/>
<path d="M52.00,187.50 L52.05,187.42 L52.11,187.34 L52.18,187.24 L52.26,187.13 L52.35,187.01 L52.45,186.86 L52.57,186.69 L52.69,186.49 L52.84,186.26 L53.00,186.00 L53.18,185.70 L53.39,185.36 L53.62,184.99 L53.87,184.59 L54.12,184.16 L54.39,183.72 L54.65,183.27 L54.91,182.81 L55.16,182.35 L55.40,181.90 L55.63,181.44 L55.86,180.97 L56.08,180.49 L56.31,180.00 L56.53,179.51 L56.75,179.01 L56.97,178.50 L57.18,178.00 L57.39,177.50 L57.60,177.00 L57.80,176.50 L58.01,175.99 L58.21,175.47 L58.41,174.93 L58.60,174.39 L58.79,173.86 L58.98,173.32 L59.16,172.81 L59.33,172.30 L59.50,171.83 L59.66,171.38 L59.80,170.96 L59.93,170.58 L60.05,170.21 L60.17,169.84 L60.30,169.49 L60.43,169.13 L60.57,168.76 L60.73,168.40 L60.90,168.04 L61.10,167.60 L61.31,167.13 L61.54,166.62 L61.77,166.09 L62.02,165.54 L62.27,164.98 L62.51,164.40 L62.75,163.83 L62.98,163.26 L63.20,162.70 L63.41,162.15 L63.61,161.52 L63.81,160.85 L64.01,160.26 L64.20,159.72 L64.39,159.22 L64.57,158.77 L64.75,158.34 L64.93,157.95 L65.10,157.60 L65.26,157.30 L65.42,157.04 L65.57,156.82 L65.71,156.63 L65.85,156.46 L65.99,156.31 L66.13,156.16 L66.28,156.03 L66.44,155.96 L66.60,155.75 L66.77,155.48 L66.94,155.19 L67.11,154.87 L67.28,154.53 L67.46,154.17 L67.64,153.78 L67.84,153.36 L68.04,152.92 L68.26,152.44 L68.50,151.93 L68.75,151.37 L69.02,150.76 L69.30,149.95 L69.60,149.19 L69.90,148.49 L70.21,147.83 L70.53,147.22 L70.85,146.67 L71.17,146.18 L71.50,145.75 L71.83,145.39 L72.17,145.12 L72.52,144.64 L72.87,144.09 L73.23,143.49 L73.59,142.85 L73.95,142.16 L74.30,141.44 L74.66,140.69 L75.00,139.76 L75.33,138.98 L75.65,138.32 L75.96,137.74 L76.27,137.23 L76.58,136.79 L76.90,136.41 L77.22,136.11 L77.56,135.92 L77.92,135.71 L78.30,135.33 L78.70,134.89 L79.13,134.40 L79.56,133.83 L80.01,133.19 L80.47,132.32 L80.95,131.44 L81.43,130.73 L81.91,130.15 L82.41,129.69 L82.90,129.38 L83.40,129.23 L83.92,128.76 L84.44,128.15 L84.97,127.43 L85.51,126.59 L86.05,125.53 L86.60,124.45 L87.14,123.64 L87.67,123.05 L88.20,122.70 L88.72,122.62 L89.24,122.59 L89.76,122.36 L90.28,122.07 L90.80,121.70 L91.32,121.25 L91.84,120.52 L92.36,119.94 L92.88,119.52 L93.40,119.25 L93.93,119.13 L94.46,119.29 L94.99,119.19 L95.52,118.95 L96.05,118.61 L96.58,118.18 L97.11,117.62 L97.64,116.80 L98.17,116.26 L98.70,115.90 L99.22,115.73 L99.74,115.73 L100.26,115.91 L100.78,115.80 L101.30,115.60 L101.82,115.31 L102.34,114.93 L102.86,114.33 L103.38,113.72 L103.90,113.33 L104.42,113.13 L104.92,113.10 L105.42,113.26 L105.92,113.55 L106.42,113.58 L106.94,113.51 L107.47,113.35 L108.02,113.08 L108.59,112.49 L109.20,112.01 L109.85,111.76 L110.56,111.77 L111.30,112.22 L112.07,112.33 L112.84,112.20 L113.62,111.87 L114.37,111.14 L115.10,110.73 L115.78,110.68 L116.40,110.91 L116.96,111.45 L117.48,111.72 L117.95,111.92 L118.39,112.07 L118.82,112.17 L119.23,112.20 L119.65,112.04 L120.08,111.83 L120.52,111.73 L121.00,111.70 L121.50,111.77 L121.99,111.94 L122.50,112.34 L123.01,112.44 L123.53,112.42 L124.05,112.30 L124.59,112.09 L125.15,111.75 L125.71,111.17 L126.30,110.93 L126.92,110.94 L127.57,111.24 L128.25,111.88 L128.94,112.17 L129.64,112.28 L130.34,112.23 L131.03,111.81 L131.69,111.57 L132.32,111.60 L132.90,111.85 L133.45,112.31 L133.97,112.87 L134.47,113.17 L134.95,113.39 L135.41,113.51 L135.85,113.56 L136.28,113.51 L136.70,113.19 L137.10,113.03 L137.50,112.93 L137.88,112.86 L138.23,112.81 L138.57,112.78 L138.88,112.78 L139.19,112.89 L139.50,112.91 L139.81,112.86 L140.12,112.81 L140.45,112.79 L140.80,112.81 L141.16,112.88 L141.52,112.98 L141.88,113.08 L142.25,112.99 L142.63,113.09 L143.01,113.29 L143.41,113.57 L143.82,113.92 L144.25,114.34 L144.70,114.85 L145.15,115.34 L145.60,115.55 L146.04,115.66 L146.49,115.67 L146.97,115.58 L147.47,115.37 L148.02,114.85 L148.62,114.60 L149.27,114.59 L150.00,114.91 L150.84,115.60 L151.81,115.84 L152.88,115.69 L154.00,114.97 L155.14,115.03 L156.28,115.90 L157.37,116.21 L158.37,116.11 L159.26,115.51 L160.00,115.31 L160.58,115.39 L161.03,115.59 L161.38,115.83 L161.66,116.15 L161.88,116.29 L162.06,116.39 L162.25,116.49 L162.45,116.61 L162.69,116.75 L163.00,116.92 L163.36,117.10 L163.75,117.28 L164.16,117.43 L164.58,117.39 L165.00,117.52 L165.42,117.79 L165.84,118.15 L166.25,118.56 L166.64,118.98 L167.00,119.38 L167.33,119.77 L167.63,120.03 L167.91,120.24 L168.18,120.42 L168.44,120.58 L168.70,120.71 L168.98,120.81 L169.29,120.89 L169.62,120.95 L170.00,121.00 L170.44,121.03 L170.95,121.02 L171.51,120.98 L172.10,120.92 L172.69,120.84 L173.26,120.76 L173.80,120.68 L174.29,120.60 L174.69,120.54 L175.00,120.50 L178.29,121.13 L178.32,121.13 L178.35,121.13 L178.39,121.13 L178.42,121.13 L178.45,121.13 L178.48,121.12 L178.51,121.12 L178.54,121.12 L178.57,121.12 L178.60,121.12 L178.63,121.11 L178.66,121.11 L178.69,121.11 L178.72,121.10 L178.75,121.10 L178.79,121.10 L178.82,121.09 L178.85,121.09 L178.88,121.09 L178.91,121.08 L178.94,121.08 L178.97,121.08 L179.00,121.07 L179.03,121.07 L179.06,121.07 L179.09,121.07 L179.12,121.06 L179.15,121.06 L179.19,121.06 L179.22,121.06 L179.25,121.06 L179.28,121.06 L179.31,121.05 L179.34,121.05 L179.37,121.05 L179.40,121.05 L179.44,121.05 L179.49,121.06 L179.53,121.07 L179.57,121.07 L179.61,121.09 L179.65,121.10 L179.70,121.12 L179.74,121.14 L179.78,121.16 L179.82,121.18 L179.87,121.21 L179.91,121.23 L179.95,121.26 L179.99,121.29 L180.03,121.32 L180.08,121.35 L180.12,121.38 L180.16,121.41 L180.20,121.44 L180.25,121.46 L180.29,121.49 L180.33,121.52 L180.37,121.55 L180.41,121.57 L180.46,121.60 L180.50,121.62 L180.54,121.64 L180.58,121.66 L180.63,121.68 L180.67,121.70 L180.71,121.71 L180.75,121.72 L180.79,121.73 L180.84,121.73 L180.88,121.74 L180.92,121.74 L180.95,121.74 L180.98,121.74 L181.02,121.74 L181.05,121.73 L181.08,121.73 L181.11,121.73 L181.14,121.72 L181.18,121.72 L181.21,121.71 L181.24,121.70 L181.27,121.69 L181.30,121.69 L181.33,121.68 L181.37,121.67 L181.40,121.66 L181.43,121.65 L181.46,121.64 L181.49,121.63 L181.53,121.62 L181.56,121.62 L181.59,121.61 L181.62,121.60 L181.65,121.59 L181.68,121.58 L181.72,121.57 L181.75,121.57 L181.78,121.56 L181.81,121.55 L181.84,121.55 L181.88,121.54 L181.91,121.54 L181.94,121.53 L181.97,121.53 L182.00,121.53 L182.03,121.53 L182.07,121.53 L182.11,121.53 L182.15,121.53 L182.20,121.54 L182.24,121.56 L182.29,121.58 L182.33,121.60 L182.37,121.62 L182.42,121.65 L182.46,121.68 L182.50,121.71 L182.55,121.75 L182.59,121.79 L182.64,121.83 L182.68,121.87 L182.72,121.91 L182.77,121.95 L182.81,122.00 L182.85,122.04 L182.90,122.08 L182.94,122.12 L182.98,122.17 L183.03,122.21 L183.07,122.24 L183.12,122.28 L183.16,122.32 L183.20,122.35 L183.25,122.38 L183.29,122.41 L183.33,122.43 L183.38,122.45 L183.42,122.47 L183.47,122.49 L183.51,122.50 L183.55,122.51 L183.60,122.51 L183.64,122.51 L183.67,122.51 L183.71,122.51 L183.74,122.51 L183.77,122.50 L183.81,122.49 L183.84,122.48 L183.87,122.47 L183.90,122.46 L183.94,122.45 L183.97,122.44 L184.00,122.42 L184.04,122.40 L184.07,122.39 L184.10,122.37 L184.14,122.35 L184.17,122.33 L184.20,122.31 L184.23,122.29 L184.27,122.27 L184.30,122.25 L184.33,122.24 L184.37,122.22 L184.40,122.20 L184.43,122.18 L184.47,122.16 L184.50,122.15 L184.53,122.13 L184.56,122.12 L184.60,122.11 L184.63,122.10 L184.66,122.09 L184.70,122.08 L184.73,122.07 L184.76,122.07 L184.80,122.07 L184.83,122.07 L184.87,122.07 L184.92,122.08 L184.96,122.09 L185.01,122.11 L185.05,122.13 L185.10,122.16 L185.15,122.19 L185.19,122.23 L185.24,122.27 L185.28,122.31 L185.33,122.36 L185.37,122.41 L185.42,122.46 L185.46,122.51 L185.51,122.57 L185.55,122.62 L185.60,122.68 L185.64,122.73 L185.69,122.79 L185.73,122.84 L185.78,122.90 L185.83,122.95 L185.87,123.00 L185.92,123.04 L185.96,123.09 L186.01,123.13 L186.05,123.17 L186.10,123.20 L186.14,123.23 L186.19,123.26 L186.23,123.28 L186.28,123.30 L186.32,123.32 L186.37,123.33 L186.42,123.34 L186.46,123.34 L186.49,123.34 L186.53,123.33 L186.56,123.33 L186.60,123.32 L186.63,123.31 L186.67,123.30 L186.70,123.28 L186.73,123.27 L186.77,123.25 L186.80,123.23 L186.84,123.21 L186.87,123.18 L186.91,123.16 L186.94,123.13 L186.97,123.11 L187.01,123.08 L187.04,123.05 L187.08,123.02 L187.11,123.00 L187.14,122.97 L187.18,122.94 L187.21,122.91 L187.25,122.89 L187.28,122.86 L187.32,122.84 L187.35,122.81 L187.38,122.79 L187.42,122.77 L187.45,122.75 L187.49,122.74 L187.52,122.72 L187.56,122.71 L187.59,122.70 L187.62,122.70 L187.66,122.69 L187.69,122.69 L187.74,122.70 L187.79,122.71 L187.83,122.72 L187.88,122.74 L187.93,122.77 L187.97,122.81 L188.02,122.85 L188.07,122.89 L188.12,122.94 L188.16,122.99 L188.21,123.05 L188.26,123.11 L188.30,123.17 L188.35,123.24 L188.40,123.30 L188.45,123.37 L188.49,123.43 L188.54,123.50 L188.59,123.57 L188.63,123.63 L188.68,123.69 L188.73,123.75 L188.77,123.81 L188.82,123.87 L188.87,123.92 L188.92,123.97 L188.96,124.01 L189.01,124.06 L189.06,124.09 L189.10,124.12 L189.15,124.15 L189.20,124.18 L189.25,124.19 L189.29,124.21 L189.34,124.21 L189.39,124.22 L189.42,124.21 L189.46,124.21 L189.49,124.20 L189.53,124.19 L189.56,124.18 L189.60,124.16 L189.64,124.14 L189.67,124.12 L189.71,124.09 L189.74,124.06 L189.78,124.03 L189.81,124.00 L189.85,123.97 L189.88,123.93 L189.92,123.89 L189.96,123.86 L189.99,123.82 L190.03,123.78 L190.06,123.74 L190.10,123.70 L190.13,123.66 L190.17,123.62 L190.20,123.58 L190.24,123.55 L190.28,123.51 L190.31,123.48 L190.35,123.45 L190.38,123.42 L190.42,123.39 L190.45,123.37 L190.49,123.35 L190.52,123.34 L190.56,123.32 L190.59,123.31 L190.63,123.31 L190.67,123.31 L190.72,123.31 L190.76,123.32 L190.81,123.34 L190.86,123.36 L190.91,123.40 L190.96,123.43 L191.01,123.48 L191.06,123.53 L191.11,123.58 L191.16,123.64 L191.20,123.70 L191.25,123.77 L191.30,123.84 L191.35,123.91 L191.40,123.98 L191.45,124.05 L191.50,124.13 L191.55,124.20 L191.60,124.27 L191.65,124.34 L191.69,124.41 L191.74,124.48 L191.79,124.54 L191.84,124.60 L191.89,124.66 L191.94,124.71 L191.99,124.76 L192.04,124.81 L192.09,124.85 L192.14,124.88 L192.18,124.91 L192.23,124.94 L192.28,124.96 L192.33,124.97 L192.38,124.98 L192.43,124.98 L192.47,124.98 L192.50,124.97 L192.54,124.96 L192.58,124.95 L192.61,124.93 L192.65,124.91 L192.69,124.88 L192.72,124.86 L192.76,124.82 L192.80,124.79 L192.84,124.75 L192.87,124.71 L192.91,124.66 L192.95,124.62 L192.98,124.57 L193.02,124.52 L193.06,124.47 L193.09,124.42 L193.13,124.37 L193.17,124.32 L193.21,124.27 L193.24,124.22 L193.28,124.17 L193.32,124.12 L193.35,124.07 L193.39,124.03 L193.43,123.99 L193.46,123.95 L193.50,123.92 L193.54,123.89 L193.57,123.86 L193.61,123.84 L193.65,123.82 L193.69,123.81 L193.72,123.80 L193.76,123.80 L193.81,123.81 L193.86,123.82 L193.91,123.84 L193.96,123.87 L194.01,123.91 L194.07,123.95 L194.12,124.00 L194.17,124.06 L194.22,124.12 L194.27,124.19 L194.32,124.26 L194.37,124.34 L194.42,124.42 L194.47,124.50 L194.52,124.58 L194.58,124.67 L194.63,124.75 L194.68,124.83 L194.73,124.92 L194.78,125.00 L194.83,125.08 L194.88,125.15 L194.93,125.22 L194.98,125.29 L195.04,125.36 L195.09,125.42 L195.14,125.47 L195.19,125.52 L195.24,125.57 L195.29,125.61 L195.34,125.64 L195.39,125.67 L195.44,125.69 L195.49,125.71 L195.55,125.72 L195.60,125.72 L195.64,125.72 L195.67,125.71 L195.71,125.70 L195.75,125.68 L195.79,125.66 L195.83,125.63 L195.87,125.60 L195.90,125.56 L195.94,125.52 L195.98,125.48 L196.02,125.43 L196.06,125.38 L196.10,125.33 L196.14,125.27 L196.17,125.21 L196.21,125.15 L196.25,125.09 L196.29,125.02 L196.33,124.96 L196.37,124.89 L196.40,124.83 L196.44,124.76 L196.48,124.70 L196.52,124.64 L196.56,124.58 L196.60,124.53 L196.64,124.48 L196.67,124.43 L196.71,124.39 L196.75,124.35 L196.79,124.32 L196.83,124.29 L196.87,124.27 L196.91,124.25 L196.94,124.24 L196.98,124.24 L197.04,124.24 L197.09,124.26 L197.14,124.28 L197.20,124.31 L197.25,124.36 L197.30,124.41 L197.36,124.46 L197.41,124.53 L197.46,124.60 L197.51,124.68 L197.57,124.76 L197.62,124.85 L197.67,124.93 L197.73,125.03 L197.78,125.12 L197.83,125.21 L197.89,125.31 L197.94,125.40 L197.99,125.49 L198.05,125.58 L198.10,125.67 L198.15,125.75 L198.21,125.83 L198.26,125.91 L198.31,125.98 L198.37,126.05 L198.42,126.11 L198.47,126.16 L198.53,126.21 L198.58,126.26 L198.63,126.29 L198.69,126.32 L198.74,126.35 L198.79,126.37 L198.85,126.38 L198.90,126.38 L198.94,126.38 L198.98,126.37 L199.02,126.35 L199.06,126.33 L199.10,126.31 L199.14,126.28 L199.18,126.24 L199.22,126.20 L199.26,126.15 L199.30,126.10 L199.34,126.04 L199.38,125.98 L199.42,125.92 L199.46,125.85 L199.50,125.78 L199.54,125.71 L199.58,125.64 L199.62,125.56 L199.66,125.48 L199.70,125.41 L199.74,125.33 L199.78,125.25 L199.82,125.18 L199.86,125.11 L199.90,125.04 L199.94,124.97 L199.98,124.91 L200.02,124.85 L200.06,124.80 L200.10,124.75 L200.14,124.71 L200.18,124.68 L200.23,124.65 L200.27,124.63 L200.31,124.62 L200.35,124.62 L200.40,124.62 L200.46,124.64 L200.51,124.67 L200.57,124.70 L200.62,124.75 L200.68,124.81 L200.74,124.87 L200.79,124.95 L200.85,125.03 L200.90,125.11 L200.96,125.21 L201.01,125.30 L201.07,125.40 L201.13,125.51 L201.18,125.61 L201.24,125.71 L201.29,125.82 L201.35,125.92 L201.40,126.02 L201.46,126.12 L201.52,126.22 L201.57,126.31 L201.63,126.40 L201.68,126.48 L201.74,126.56 L201.79,126.64 L201.85,126.70 L201.90,126.76 L201.96,126.82 L202.02,126.87 L202.07,126.91 L202.13,126.94 L202.18,126.97 L202.24,126.98 L202.29,127.00 L202.35,127.00 L202.39,127.00 L202.43,126.99 L202.48,126.97 L202.52,126.95 L202.56,126.93 L202.60,126.89 L202.64,126.86 L202.69,126.81 L202.73,126.77 L202.77,126.71 L202.81,126.66 L202.85,126.60 L202.90,126.53 L202.94,126.46 L202.98,126.39 L203.02,126.32 L203.06,126.24 L203.11,126.16 L203.15,126.09 L203.19,126.01 L203.23,125.93 L203.27,125.85 L203.32,125.77 L203.36,125.70 L203.40,125.63 L203.44,125.56 L203.48,125.50 L203.53,125.44 L203.57,125.39 L203.61,125.34 L203.65,125.30 L203.69,125.26 L203.74,125.24 L203.78,125.22 L203.82,125.20 L203.86,125.20 L203.92,125.21 L203.98,125.23 L204.04,125.26 L204.10,125.31 L204.15,125.36 L204.21,125.43 L204.27,125.51 L204.33,125.60 L204.39,125.70 L204.45,125.80 L204.50,125.91 L204.56,126.03 L204.62,126.14 L204.68,126.27 L204.74,126.39 L204.80,126.51 L204.85,126.63 L204.91,126.76 L204.97,126.87 L205.03,126.99 L205.09,127.10 L205.15,127.21 L205.20,127.31 L205.26,127.41 L205.32,127.50 L205.38,127.58 L205.44,127.66 L205.50,127.73 L205.55,127.79 L205.61,127.85 L205.67,127.89 L205.73,127.93 L205.79,127.96 L205.85,127.98 L205.90,128.00 L205.96,128.00 L206.01,128.00 L206.05,127.99 L206.09,127.99 L206.14,127.98 L206.18,127.96 L206.23,127.95 L206.27,127.93 L206.31,127.91 L206.36,127.89 L206.40,127.86 L206.45,127.84 L206.49,127.81 L206.53,127.78 L206.58,127.75 L206.62,127.72 L206.67,127.68 L206.71,127.65 L206.75,127.61 L206.80,127.58 L206.84,127.54 L206.89,127.51 L206.93,127.47 L206.98,127.44 L207.02,127.41 L207.06,127.38 L207.11,127.35 L207.15,127.32 L207.20,127.30 L207.24,127.28 L207.28,127.26 L207.33,127.24 L207.37,127.23 L207.42,127.21 L207.46,127.21 L207.50,127.20 L207.55,127.20 L207.61,127.21 L207.67,127.23 L207.73,127.26 L207.79,127.31 L207.85,127.36 L207.91,127.43 L207.98,127.51 L208.04,127.60 L208.10,127.70 L208.16,127.80 L208.22,127.91 L208.28,128.03 L208.34,128.14 L208.40,128.27 L208.47,128.39 L208.53,128.51 L208.59,128.63 L208.65,128.76 L208.71,128.87 L208.77,128.99 L208.83,129.10 L208.90,129.21 L208.96,129.31 L209.02,129.41 L209.08,129.50 L209.14,129.58 L209.20,129.66 L209.26,129.73 L209.32,129.79 L209.39,129.85 L209.45,129.89 L209.51,129.93 L209.57,129.96 L209.63,129.98 L209.69,130.00 L209.75,130.00 L209.80,130.00 L209.85,129.99 L209.89,129.97 L209.94,129.94 L209.98,129.91 L210.03,129.87 L210.08,129.82 L210.12,129.77 L210.17,129.71 L210.22,129.65 L210.26,129.58 L210.31,129.50 L210.35,129.42 L210.40,129.33 L210.45,129.24 L210.49,129.15 L210.54,129.05 L210.58,128.95 L210.63,128.85 L210.68,128.75 L210.72,128.65 L210.77,128.55 L210.82,128.45 L210.86,128.36 L210.91,128.27 L210.95,128.18 L211.00,128.09 L211.05,128.02 L211.09,127.95 L211.14,127.88 L211.19,127.83 L211.23,127.78 L211.28,127.75 L211.32,127.72 L211.37,127.71 L211.42,127.70 L211.48,127.71 L211.54,127.73 L211.60,127.77 L211.66,127.83 L211.72,127.90 L211.78,127.98 L211.84,128.08 L211.90,128.19 L211.96,128.31 L212.02,128.43 L212.08,128.56 L212.14,128.70 L212.20,128.84 L212.26,128.99 L212.32,129.13 L212.38,129.28 L212.44,129.42 L212.50,129.56 L212.55,129.70 L212.61,129.84 L212.67,129.97 L212.73,130.09 L212.79,130.21 L212.85,130.32 L212.91,130.43 L212.97,130.52 L213.03,130.61 L213.09,130.69 L213.15,130.76 L213.21,130.83 L213.27,130.88 L213.33,130.92 L213.39,130.96 L213.45,130.98 L213.51,131.00 L213.57,131.00 L213.62,130.99 L213.66,130.98 L213.71,130.95 L213.75,130.91 L213.80,130.85 L213.84,130.79 L213.89,130.71 L213.93,130.62 L213.98,130.53 L214.03,130.42 L214.07,130.30 L214.12,130.17 L214.16,130.03 L214.21,129.88 L214.25,129.73 L214.30,129.56 L214.34,129.39 L214.39,129.21 L214.43,129.03 L214.48,128.84 L214.52,128.65 L214.57,128.46 L214.61,128.27 L214.66,128.08 L214.70,127.90 L214.75,127.72 L214.79,127.55 L214.84,127.38 L214.88,127.24 L214.93,127.10 L214.97,126.98 L215.02,126.88 L215.06,126.80 L215.11,126.75 L215.15,126.71 L215.20,126.70 L215.28,126.73 L215.37,126.84 L215.45,127.01 L215.54,127.23 L215.62,127.51 L215.70,127.83 L215.79,128.18 L215.87,128.55 L215.96,128.95 L216.04,129.35 L216.12,129.75 L216.21,130.16 L216.29,130.55 L216.37,130.94 L216.46,131.32 L216.54,131.69 L216.63,132.04 L216.71,132.37 L216.79,132.69 L216.88,132.99 L216.96,133.27 L217.05,133.53 L217.13,133.78 L217.21,134.01 L217.30,134.21 L217.38,134.40 L217.47,134.57 L217.55,134.73 L217.63,134.86 L217.72,134.98 L217.80,135.08 L217.89,135.16 L217.97,135.22 L218.05,135.26 L218.14,135.29 L218.22,135.30 L218.28,135.29 L218.35,135.27 L218.41,135.23 L218.47,135.18 L218.54,135.12 L218.60,135.04 L218.66,134.94 L218.73,134.84 L218.79,134.71 L218.85,134.58 L218.92,134.43 L218.98,134.26 L219.04,134.09 L219.11,133.90 L219.17,133.69 L219.23,133.48 L219.30,133.25 L219.36,133.02 L219.42,132.78 L219.49,132.52 L219.55,132.26 L219.61,132.00 L219.68,131.73 L219.74,131.47 L219.80,131.20 L219.87,130.94 L219.93,130.69 L219.99,130.45 L220.06,130.23 L220.12,130.02 L220.18,129.84 L220.25,129.69 L220.31,129.56 L220.37,129.47 L220.44,129.42 L220.50,129.40 L220.57,129.42 L220.65,129.47 L220.72,129.56 L220.80,129.69 L220.87,129.84 L220.95,130.02 L221.02,130.23 L221.10,130.45 L221.17,130.69 L221.24,130.94 L221.32,131.20 L221.39,131.47 L221.47,131.73 L221.54,132.00 L221.62,132.26 L221.69,132.52 L221.77,132.78 L221.84,133.02 L221.91,133.25 L221.99,133.48 L222.06,133.69 L222.14,133.90 L222.21,134.09 L222.29,134.26 L222.36,134.43 L222.43,134.58 L222.51,134.71 L222.58,134.84 L222.66,134.94 L222.73,135.04 L222.81,135.12 L222.88,135.18 L222.96,135.23 L223.03,135.27 L223.10,135.29 L223.18,135.30 L223.24,135.29 L223.29,135.26 L223.35,135.22 L223.40,135.15 L223.46,135.07 L223.52,134.97 L223.57,134.85 L223.63,134.71 L223.68,134.55 L223.74,134.37 L223.80,134.18 L223.85,133.96 L223.91,133.72 L223.96,133.47 L224.02,133.20 L224.08,132.90 L224.13,132.59 L224.19,132.25 L224.25,131.90 L224.30,131.53 L224.36,131.15 L224.41,130.75 L224.47,130.33 L224.53,129.90 L224.58,129.47 L224.64,129.03 L224.69,128.60 L224.75,128.17 L224.81,127.75 L224.86,127.37 L224.92,127.01 L224.98,126.70 L225.03,126.45 L225.09,126.26 L225.14,126.14 L225.20,126.10 L225.28,126.13 L225.36,126.23 L225.44,126.38 L225.52,126.59 L225.60,126.85 L225.67,127.14 L225.75,127.47 L225.83,127.82 L225.91,128.19 L225.99,128.57 L226.07,128.95 L226.15,129.33 L226.23,129.71 L226.31,130.08 L226.39,130.45 L226.47,130.80 L226.55,131.13 L226.62,131.45 L226.70,131.76 L226.78,132.05 L226.86,132.32 L226.94,132.58 L227.02,132.82 L227.10,133.04 L227.18,133.24 L227.26,133.42 L227.34,133.59 L227.42,133.74 L227.50,133.87 L227.57,133.99 L227.65,134.08 L227.73,134.16 L227.81,134.22 L227.89,134.27 L227.97,134.29 L228.05,134.30 L228.11,134.29 L228.17,134.26 L228.23,134.21 L228.29,134.15 L228.35,134.06 L228.41,133.95 L228.47,133.82 L228.53,133.68 L228.59,133.51 L228.65,133.32 L228.71,133.11 L228.77,132.88 L228.83,132.63 L228.89,132.36 L228.95,132.06 L229.01,131.75 L229.07,131.41 L229.12,131.05 L229.18,130.66 L229.24,130.26 L229.30,129.83 L229.36,129.39 L229.42,128.92 L229.48,128.44 L229.54,127.95 L229.60,127.44 L229.66,126.94 L229.72,126.43 L229.78,125.94 L229.84,125.47 L229.90,125.04 L229.96,124.66 L230.02,124.34 L230.08,124.10 L230.14,123.95 L230.20,123.90 L230.28,123.95 L230.36,124.11 L230.45,124.36 L230.53,124.68 L230.61,125.08 L230.69,125.53 L230.78,126.01 L230.86,126.51 L230.94,127.03 L231.02,127.55 L231.11,128.06 L231.19,128.57 L231.27,129.06 L231.35,129.53 L231.44,129.98 L231.52,130.42 L231.60,130.83 L231.68,131.22 L231.76,131.58 L231.85,131.92 L231.93,132.24 L232.01,132.54 L232.09,132.82 L232.18,133.07 L232.26,133.30 L232.34,133.51 L232.42,133.70 L232.51,133.87 L232.59,134.02 L232.67,134.15 L232.75,134.26 L232.83,134.34 L232.92,134.41 L233.00,134.46 L233.08,134.49 L233.16,134.50 L233.23,134.49 L233.29,134.46 L233.35,134.41 L233.41,134.34 L233.47,134.25 L233.54,134.14 L233.60,134.01 L233.66,133.85 L233.72,133.68 L233.79,133.48 L233.85,133.27 L233.91,133.03 L233.97,132.76 L234.03,132.48 L234.10,132.17 L234.16,131.84 L234.22,131.48 L234.28,131.10 L234.34,130.69 L234.41,130.26 L234.47,129.80 L234.53,129.32 L234.59,128.82 L234.65,128.30 L234.72,127.75 L234.78,127.20 L234.84,126.63 L234.90,126.06 L234.97,125.50 L235.03,124.96 L235.09,124.46 L235.15,124.01 L235.21,123.63 L235.28,123.34 L235.34,123.16 L235.40,123.10 L235.40,123.10 L235.40,123.10 L235.40,123.10 L235.41,123.10 L235.42,123.10 L235.43,123.11 L235.44,123.12 L235.46,123.15 L235.48,123.19 L235.51,123.25 L235.54,123.34 L235.57,123.48 L235.61,123.66 L235.65,123.91 L235.70,124.22 L235.76,124.62 L235.82,125.09 L235.89,125.64 L235.96,126.27 L236.04,126.96 L236.13,127.70 L236.22,128.49 L236.32,129.30 L236.43,130.12 L236.55,130.93 L236.67,131.74 L236.80,132.51 L236.94,133.25 L237.09,133.94 L237.25,134.57 L237.41,135.14 L237.58,135.63 L237.76,136.03 L237.95,136.34 L238.15,136.53 L238.36,136.60 L238.52,136.53 L238.67,136.35 L238.82,136.06 L238.95,135.67 L239.08,135.20 L239.21,134.67 L239.33,134.07 L239.44,133.42 L239.54,132.73 L239.64,132.01 L239.73,131.28 L239.82,130.54 L239.90,129.80 L239.98,129.09 L240.05,128.41 L240.11,127.78 L240.18,127.20 L240.23,126.68 L240.28,126.24 L240.33,125.86 L240.37,125.56 L240.41,125.31 L240.44,125.12 L240.47,124.98 L240.50,124.88 L240.52,124.81 L240.54,124.76 L240.56,124.74 L240.57,124.72 L240.58,124.71 L240.59,124.70 L240.59,124.70 L240.60,124.70 L240.60,124.70 L240.60,124.70 L240.60,124.70 L240.60,124.70 L240.60,124.70 L240.61,124.70 L240.61,124.71 L240.62,124.72 L240.63,124.75 L240.65,124.82 L240.67,124.94 L240.69,125.13 L240.72,125.42 L240.75,125.85 L240.79,126.42 L240.83,127.15 L240.88,128.03 L240.93,129.05 L240.99,130.18 L241.06,131.38 L241.14,132.64 L241.22,133.92 L241.30,135.20 L241.40,136.46 L241.50,137.69 L241.61,138.88 L241.73,140.02 L241.86,141.11 L241.99,142.13 L242.14,143.09 L242.29,143.98 L242.45,144.79 L242.62,145.52 L242.80,146.17 L242.99,146.72 L243.19,147.17 L243.40,147.51 L243.62,147.72 L243.85,147.80 L244.02,147.73 L244.19,147.53 L244.35,147.23 L244.50,146.82 L244.64,146.32 L244.77,145.75 L244.90,145.10 L245.02,144.40 L245.14,143.64 L245.25,142.85 L245.35,142.02 L245.45,141.18 L245.54,140.33 L245.62,139.48 L245.70,138.66 L245.77,137.88 L245.83,137.14 L245.90,136.47 L245.95,135.88 L246.00,135.37 L246.05,134.94 L246.09,134.59 L246.13,134.32 L246.16,134.12 L246.19,133.97 L246.21,133.87 L246.23,133.80 L246.25,133.75 L246.27,133.73 L246.28,133.71 L246.29,133.70 L246.29,133.70 L246.30,133.70 L246.30,133.70 L246.30,133.70 L246.30,133.70 L246.30,133.70 L246.30,133.70 L246.31,133.70 L246.31,133.70 L246.32,133.70 L246.33,133.71 L246.35,133.72 L246.37,133.74 L246.39,133.78 L246.42,133.83 L246.45,133.91 L246.49,134.03 L246.53,134.20 L246.58,134.42 L246.64,134.70 L246.70,135.05 L246.77,135.48 L246.85,135.99 L246.93,136.56 L247.02,137.20 L247.11,137.90 L247.22,138.64 L247.33,139.41 L247.45,140.19 L247.58,140.98 L247.72,141.75 L247.86,142.50 L248.02,143.22 L248.18,143.89 L248.36,144.51 L248.54,145.07 L248.73,145.55 L248.94,145.94 L249.15,146.24 L249.37,146.43 L249.61,146.50 L249.78,146.42 L249.95,146.20 L250.11,145.86 L250.26,145.39 L250.41,144.83 L250.55,144.16 L250.68,143.40 L250.80,142.56 L250.92,141.63 L251.03,140.62 L251.13,139.53 L251.23,138.36 L251.32,137.11 L251.41,135.78 L251.49,134.38 L251.56,132.89 L251.63,131.32 L251.69,129.67 L251.75,127.92 L251.80,126.10 L251.84,124.19 L251.89,122.21 L251.92,120.19 L251.96,118.16 L251.99,116.18 L252.01,114.35 L252.03,112.76 L252.05,111.50 L252.06,110.62 L252.08,110.08 L252.09,109.79 L252.09,109.66 L252.10,109.61 L252.10,109.60 L252.10,109.60 L252.10,109.60 L252.10,109.60 L252.10,109.60 L252.11,109.60 L252.11,109.61 L252.12,109.64 L252.14,109.70 L252.16,109.82 L252.18,110.04 L252.21,110.39 L252.24,110.90 L252.29,111.61 L252.33,112.53 L252.39,113.63 L252.45,114.88 L252.52,116.25 L252.59,117.68 L252.68,119.15 L252.77,120.62 L252.87,122.08 L252.98,123.49 L253.10,124.86 L253.22,126.18 L253.36,127.44 L253.51,128.63 L253.67,129.76 L253.84,130.82 L254.02,131.80 L254.21,132.71 L254.41,133.54 L254.62,134.29 L254.84,134.95 L255.08,135.51 L255.33,135.96 L255.59,136.31 L255.86,136.52 L256.15,136.60 L256.36,136.52 L256.57,136.30 L256.77,135.96 L256.95,135.49 L257.13,134.92 L257.30,134.26 L257.46,133.50 L257.61,132.65 L257.75,131.72 L257.89,130.70 L258.02,129.61 L258.14,128.44 L258.25,127.19 L258.35,125.85 L258.45,124.44 L258.54,122.94 L258.62,121.35 L258.70,119.67 L258.77,117.89 L258.83,116.02 L258.89,114.04 L258.94,111.97 L258.98,109.80 L259.02,107.57 L259.06,105.32 L259.09,103.11 L259.12,101.08 L259.14,99.35 L259.16,98.05 L259.17,97.19 L259.18,96.72 L259.19,96.50 L259.20,96.42 L259.20,96.40 L259.20,96.40 L259.20,96.40 L259.20,96.40 L259.20,96.40 L259.21,96.41 L259.21,96.46 L259.22,96.58 L259.24,96.84 L259.26,97.35 L259.28,98.18 L259.31,99.36 L259.34,100.88 L259.38,102.66 L259.43,104.59 L259.48,106.58 L259.54,108.58 L259.61,110.54 L259.68,112.43 L259.77,114.25 L259.86,115.99 L259.96,117.64 L260.07,119.20 L260.18,120.69 L260.31,122.09 L260.44,123.42 L260.59,124.66 L260.75,125.83 L260.91,126.92 L261.09,127.93 L261.28,128.86 L261.47,129.70 L261.68,130.46 L261.90,131.13 L262.14,131.69 L262.38,132.16 L262.64,132.50 L262.91,132.72 L263.19,132.80 L263.40,132.72 L263.61,132.50 L263.80,132.16 L263.98,131.69 L264.16,131.12 L264.33,130.45 L264.48,129.69 L264.63,128.84 L264.78,127.91 L264.91,126.89 L265.03,125.80 L265.15,124.62 L265.26,123.36 L265.36,122.02 L265.46,120.59 L265.55,119.08 L265.63,117.47 L265.70,115.77 L265.77,113.95 L265.83,112.03 L265.89,109.98 L265.94,107.79 L265.99,105.46 L266.03,102.98 L266.06,100.35 L266.09,97.58 L266.12,94.72 L266.14,91.90 L266.16,89.33 L266.17,87.28 L266.18,85.93 L266.19,85.24 L266.20,84.98 L266.20,84.91 L266.20,84.90 L266.20,84.90 L266.20,84.90 L266.20,84.91 L266.21,84.99 L266.22,85.30 L266.23,86.09 L266.25,87.61 L266.27,89.86 L266.30,92.59 L266.33,95.53 L266.37,98.46 L266.42,101.27 L266.48,103.93 L266.54,106.43 L266.62,108.77 L266.70,110.96 L266.79,113.02 L266.89,114.94 L267.00,116.76 L267.12,118.47 L267.25,120.08 L267.39,121.59 L267.55,123.02 L267.71,124.36 L267.89,125.62 L268.08,126.80 L268.28,127.89 L268.49,128.91 L268.72,129.84 L268.96,130.69 L269.22,131.45 L269.48,132.12 L269.77,132.69 L270.06,133.16 L270.38,133.50 L270.70,133.72 L271.05,133.80 L271.30,133.72 L271.55,133.50 L271.79,133.15 L272.01,132.69 L272.22,132.12 L272.42,131.45 L272.62,130.69 L272.80,129.84 L272.97,128.91 L273.13,127.89 L273.28,126.79 L273.43,125.61 L273.56,124.35 L273.68,123.01 L273.80,121.58 L273.91,120.06 L274.01,118.44 L274.10,116.73 L274.18,114.90 L274.26,112.96 L274.32,110.88 L274.39,108.65 L274.44,106.26 L274.49,103.68 L274.53,100.88 L274.57,97.82 L274.60,94.48 L274.63,90.83 L274.65,86.86 L274.67,82.69 L274.68,78.70 L274.69,75.63 L274.69,74.04 L274.70,73.57 L274.70,73.50 L274.70,73.50 L274.70,73.50 L274.70,73.63 L274.71,74.51 L274.72,77.11 L274.73,81.32 L274.75,86.05 L274.78,90.59 L274.81,94.74 L274.85,98.48 L274.89,101.86 L274.95,104.94 L275.01,107.75 L275.08,110.34 L275.16,112.74 L275.25,114.97 L275.35,117.05 L275.46,119.00 L275.58,120.83 L275.72,122.54 L275.86,124.16 L276.02,125.68 L276.19,127.11 L276.37,128.45 L276.57,129.71 L276.78,130.89 L277.00,131.99 L277.24,133.01 L277.49,133.94 L277.75,134.79 L278.04,135.55 L278.33,136.22 L278.64,136.79 L278.97,137.25 L279.32,137.60 L279.68,137.82 L280.06,137.90 L280.34,137.82 L280.62,137.60 L280.88,137.25 L281.12,136.79 L281.36,136.22 L281.58,135.55 L281.80,134.79 L282.00,133.94 L282.19,133.01 L282.37,131.99 L282.53,130.89 L282.69,129.71 L282.84,128.45 L282.98,127.11 L283.10,125.68 L283.22,124.16 L283.33,122.54 L283.43,120.82 L283.53,119.00 L283.61,117.05 L283.69,114.97 L283.75,112.73 L283.81,110.33 L283.87,107.73 L283.91,104.90 L283.96,101.80 L283.99,98.38 L284.02,94.55 L284.04,90.23 L284.06,85.28 L284.08,79.55 L284.09,72.98 L284.09,66.30 L284.10,62.17 L284.10,61.33 L284.10,61.30 L284.10,61.36 L284.10,63.18 L284.11,69.81 L284.12,77.79 L284.14,84.75 L284.16,90.60 L284.19,95.59 L284.23,99.93 L284.28,103.77 L284.33,107.20 L284.40,110.30 L284.47,113.13 L284.56,115.73 L284.66,118.13 L284.77,120.36 L284.89,122.45 L285.02,124.40 L285.17,126.22 L285.33,127.94 L285.51,129.55 L285.70,131.07 L285.91,132.51 L286.13,133.85 L286.36,135.11 L286.62,136.29 L286.89,137.39 L287.18,138.41 L287.48,139.34 L287.80,140.19 L288.14,140.95 L288.50,141.62 L288.88,142.19 L289.28,142.65 L289.70,143.00 L290.14,143.22 L290.60,143.30 L290.94,143.22 L291.27,143.00 L291.59,142.65 L291.89,142.19 L292.18,141.62 L292.45,140.95 L292.71,140.19 L292.95,139.34 L293.18,138.41 L293.40,137.39 L293.60,136.29 L293.79,135.11 L293.97,133.85 L294.14,132.51 L294.29,131.07 L294.44,129.55 L294.57,127.94 L294.69,126.22 L294.80,124.40 L294.90,122.45 L295.00,120.36 L295.08,118.13 L295.15,115.73 L295.22,113.13 L295.28,110.30 L295.32,107.19 L295.37,103.76 L295.40,99.92 L295.43,95.57 L295.45,90.55 L295.47,84.63 L295.48,77.41 L295.49,68.32 L295.50,57.31 L295.50,50.83 L295.50,50.50 L295.50,51.30 L295.50,61.76 L295.51,73.99 L295.53,83.26 L295.55,90.51 L295.58,96.45 L295.62,101.47 L295.67,105.82 L295.72,109.66 L295.80,113.09 L295.88,116.20 L295.98,119.03 L296.08,121.63 L296.21,124.03 L296.35,126.26 L296.50,128.35 L296.67,130.30 L296.86,132.12 L297.07,133.84 L297.29,135.45 L297.54,136.97 L297.80,138.41 L298.08,139.75 L298.38,141.01 L298.70,142.19 L299.05,143.29 L299.41,144.31 L299.80,145.24 L300.21,146.09 L300.64,146.85 L301.10,147.52 L301.58,148.09 L302.09,148.55 L302.62,148.90 L303.18,149.12 L303.76,149.20 L304.21,149.12 L304.63,148.90 L305.03,148.55 L305.41,148.09 L305.77,147.52 L306.12,146.85 L306.45,146.09 L306.76,145.24 L307.05,144.31 L307.32,143.29 L307.58,142.19 L307.83,141.01 L308.05,139.75 L308.27,138.41 L308.46,136.97 L308.65,135.45 L308.82,133.84 L308.97,132.12 L309.11,130.30 L309.24,128.35 L309.36,126.26 L309.46,124.03 L309.56,121.63 L309.64,119.03 L309.71,116.20 L309.78,113.09 L309.83,109.66 L309.88,105.82 L309.91,101.47 L309.94,96.44 L309.96,90.50 L309.98,83.23 L309.99,73.88 L310.00,60.88 L310.00,43.91 L310.00,40.80 L310.00,48.15 L310.00,68.50 L310.01,81.65 L310.03,91.03 L310.05,98.30 L310.09,104.24 L310.13,109.27 L310.18,113.62 L310.25,117.46 L310.33,120.89 L310.42,124.00 L310.52,126.83 L310.65,129.43 L310.78,131.83 L310.94,134.06 L311.11,136.15 L311.30,138.10 L311.50,139.92 L311.73,141.64 L311.98,143.25 L312.25,144.77 L312.53,146.21 L312.85,147.55 L313.18,148.81 L313.53,149.99 L313.91,151.09 L314.32,152.11 L314.74,153.04 L315.20,153.89 L315.68,154.65 L316.18,155.32 L316.71,155.89 L317.27,156.35 L317.86,156.70 L318.48,156.92 L319.12,157.00 L319.61,156.92 L320.07,156.70 L320.51,156.35 L320.93,155.89 L321.34,155.32 L321.72,154.65 L322.08,153.89 L322.42,153.04 L322.74,152.11 L323.05,151.09 L323.33,149.99 L323.60,148.81 L323.85,147.55 L324.09,146.21 L324.31,144.77 L324.51,143.25 L324.69,141.64 L324.87,139.92 L325.02,138.10 L325.16,136.15 L325.29,134.06 L325.41,131.83 L325.51,129.43 L325.60,126.83 L325.68,124.00 L325.75,120.89 L325.81,117.46 L325.86,113.62 L325.90,109.27 L325.93,104.24 L325.96,98.30 L325.98,91.02 L325.99,81.65 L326.00,68.44 L326.00,46.56 L326.00,32.80 L326.00,55.40 L326.01,77.83 L326.02,91.04 L326.04,100.42 L326.06,107.70 L326.10,113.64 L326.15,118.67 L326.22,123.02 L326.30,126.86 L326.39,130.29 L326.50,133.40 L326.63,136.23 L326.77,138.83 L326.93,141.23 L327.12,143.46 L327.32,145.55 L327.55,147.50 L327.80,149.32 L328.07,151.04 L328.36,152.65 L328.68,154.17 L329.03,155.61 L329.40,156.95 L329.79,158.21 L330.22,159.39 L330.67,160.49 L331.15,161.51 L331.66,162.44 L332.21,163.29 L332.78,164.05 L333.38,164.72 L334.02,165.29 L334.68,165.75 L335.38,166.10 L336.12,166.32 L336.89,166.40 L337.47,166.32 L338.02,166.10 L338.55,165.75 L339.05,165.29 L339.53,164.72 L339.99,164.05 L340.42,163.29 L340.83,162.44 L341.21,161.51 L341.58,160.49 L341.92,159.39 L342.24,158.21 L342.54,156.95 L342.82,155.61 L343.08,154.17 L343.32,152.65 L343.54,151.04 L343.75,149.32 L343.93,147.50 L344.10,145.55 L344.26,143.46 L344.40,141.23 L344.52,138.83 L344.63,136.23 L344.72,133.40 L344.81,130.29 L344.88,126.86 L344.94,123.02 L344.98,118.67 L345.02,113.64 L345.05,107.70 L345.07,100.42 L345.09,91.04 L345.10,77.83 L345.10,55.34 L345.10,30.10 L345.10,71.33 L345.11,93.92 L345.13,107.14 L345.16,116.52 L345.20,123.80 L345.27,129.74 L345.35,134.77 L345.45,139.12 L345.58,142.96 L345.73,146.39 L345.91,149.50 L346.11,152.33 L346.35,154.93 L346.61,157.33 L346.91,159.56 L347.24,161.65 L347.60,163.60 L348.00,165.42 L348.44,167.14 L348.92,168.75 L349.43,170.27 L349.99,171.71 L350.59,173.05 L351.23,174.31 L351.92,175.49 L352.65,176.59 L353.43,177.61 L354.26,178.54 L355.13,179.39 L356.06,180.15 L357.03,180.82 L358.06,181.39 L359.14,181.85 L360.27,182.20 L361.46,182.42 L362.70,182.50 L364.80,182.00 L366.70,179.80" stroke="#b01a20" stroke-width="1.5" fill="none" stroke-linejoin="round" stroke-linecap="round" clip-path="url(#cL)"/>
<path d="M451.80,220.00 L452.80,217.37 L453.80,215.02 L454.80,212.50 L455.80,209.90 L456.80,207.26 L457.80,204.63 L458.80,202.03 L459.80,199.47 L460.80,196.97 L461.80,194.52 L462.80,192.13 L463.80,189.80 L464.80,187.54 L465.80,185.34 L466.80,183.20 L467.80,181.12 L468.80,179.11 L469.80,177.14 L470.80,175.24 L471.80,173.39 L472.80,171.59 L473.80,169.84 L474.80,168.14 L475.80,166.49 L476.80,164.88 L477.80,163.32 L478.80,161.80 L479.80,160.32 L480.80,158.88 L481.80,157.47 L482.80,156.11 L483.80,154.78 L484.80,153.48 L485.80,152.22 L486.80,150.99 L487.80,149.79 L488.80,148.62 L489.80,147.48 L490.80,146.37 L491.80,145.28 L492.80,144.22 L493.80,143.19 L494.80,142.18 L495.80,141.20 L496.80,140.23 L497.80,139.30 L498.80,138.38 L499.80,137.48 L500.80,136.61 L501.80,135.76 L502.80,134.92 L503.80,134.11 L504.80,133.31 L505.80,132.53 L506.80,131.77 L507.80,131.03 L508.80,130.30 L509.80,129.59 L510.80,128.89 L511.80,128.21 L512.80,127.55 L513.80,126.90 L514.80,126.26 L515.80,125.64 L516.80,125.03 L517.80,124.44 L518.80,123.86 L519.80,123.29 L520.80,122.73 L521.80,122.19 L522.80,121.65 L523.80,121.13 L524.80,120.62 L525.80,120.13 L526.80,119.64 L527.80,119.16 L528.80,118.69 L529.80,118.24 L530.80,117.79 L531.80,117.35 L532.80,116.93 L533.80,116.51 L534.80,116.10 L535.80,115.70 L536.80,115.31 L537.80,114.93 L538.80,114.55 L539.80,114.19 L540.80,113.83 L541.80,113.48 L542.80,113.14 L543.80,112.81 L544.80,112.48 L545.80,112.16 L546.80,111.85 L547.80,111.55 L548.80,111.25 L549.80,110.96 L550.80,110.67 L551.80,110.40 L551.90,110.37 L554.94,109.64 L554.97,109.64 L555.00,109.64 L555.03,109.63 L555.06,109.62 L555.09,109.61 L555.13,109.60 L555.16,109.59 L555.19,109.57 L555.22,109.55 L555.25,109.53 L555.29,109.51 L555.32,109.49 L555.35,109.47 L555.38,109.44 L555.41,109.42 L555.45,109.39 L555.48,109.36 L555.51,109.33 L555.54,109.31 L555.57,109.28 L555.60,109.25 L555.64,109.23 L555.67,109.20 L555.70,109.18 L555.73,109.15 L555.76,109.13 L555.80,109.11 L555.83,109.09 L555.86,109.07 L555.89,109.06 L555.92,109.04 L555.95,109.03 L555.99,109.02 L556.02,109.02 L556.05,109.01 L556.08,109.01 L556.12,109.01 L556.15,109.02 L556.18,109.02 L556.21,109.03 L556.25,109.03 L556.28,109.04 L556.31,109.05 L556.34,109.06 L556.38,109.08 L556.41,109.09 L556.44,109.11 L556.48,109.12 L556.51,109.14 L556.54,109.16 L556.57,109.17 L556.61,109.19 L556.64,109.21 L556.67,109.23 L556.71,109.25 L556.74,109.27 L556.77,109.28 L556.80,109.30 L556.84,109.32 L556.87,109.33 L556.90,109.35 L556.94,109.36 L556.97,109.38 L557.00,109.39 L557.03,109.40 L557.07,109.41 L557.10,109.42 L557.13,109.43 L557.17,109.43 L557.20,109.44 L557.23,109.44 L557.26,109.44 L557.30,109.44 L557.33,109.43 L557.36,109.42 L557.40,109.41 L557.43,109.39 L557.46,109.37 L557.49,109.35 L557.53,109.33 L557.56,109.30 L557.59,109.27 L557.63,109.23 L557.66,109.19 L557.69,109.16 L557.72,109.12 L557.76,109.07 L557.79,109.03 L557.82,108.99 L557.86,108.94 L557.89,108.90 L557.92,108.85 L557.95,108.81 L557.99,108.76 L558.02,108.72 L558.05,108.68 L558.09,108.64 L558.12,108.60 L558.15,108.56 L558.18,108.53 L558.22,108.50 L558.25,108.48 L558.28,108.45 L558.32,108.44 L558.35,108.42 L558.38,108.41 L558.41,108.40 L558.45,108.40 L558.49,108.40 L558.54,108.41 L558.59,108.42 L558.64,108.43 L558.69,108.44 L558.73,108.46 L558.78,108.48 L558.83,108.50 L558.88,108.52 L558.92,108.55 L558.97,108.58 L559.02,108.61 L559.07,108.64 L559.11,108.67 L559.16,108.70 L559.21,108.74 L559.26,108.77 L559.31,108.81 L559.35,108.84 L559.40,108.87 L559.45,108.91 L559.50,108.94 L559.54,108.97 L559.59,109.00 L559.64,109.03 L559.69,109.05 L559.74,109.08 L559.78,109.10 L559.83,109.12 L559.88,109.14 L559.93,109.15 L559.97,109.16 L560.02,109.17 L560.07,109.18 L560.12,109.18 L560.17,109.19 L560.21,109.18 L560.26,109.17 L560.31,109.16 L560.36,109.14 L560.40,109.12 L560.45,109.08 L560.50,109.05 L560.55,109.01 L560.60,108.96 L560.64,108.91 L560.69,108.86 L560.74,108.80 L560.79,108.74 L560.83,108.68 L560.88,108.61 L560.93,108.54 L560.98,108.47 L561.03,108.40 L561.07,108.32 L561.12,108.25 L561.17,108.17 L561.22,108.10 L561.26,108.03 L561.31,107.96 L561.36,107.89 L561.41,107.83 L561.46,107.77 L561.50,107.71 L561.55,107.66 L561.60,107.62 L561.65,107.58 L561.69,107.55 L561.74,107.52 L561.79,107.51 L561.84,107.49 L561.89,107.49 L561.92,107.49 L561.96,107.50 L561.99,107.52 L562.03,107.54 L562.06,107.57 L562.09,107.60 L562.13,107.63 L562.16,107.68 L562.20,107.72 L562.23,107.77 L562.27,107.82 L562.30,107.88 L562.34,107.94 L562.37,108.00 L562.41,108.06 L562.44,108.12 L562.48,108.18 L562.51,108.24 L562.55,108.31 L562.58,108.37 L562.62,108.43 L562.65,108.48 L562.69,108.54 L562.72,108.59 L562.76,108.64 L562.79,108.68 L562.83,108.73 L562.86,108.77 L562.90,108.80 L562.93,108.83 L562.97,108.86 L563.00,108.88 L563.04,108.90 L563.07,108.91 L563.11,108.91 L563.14,108.92 L563.18,108.91 L563.21,108.90 L563.25,108.89 L563.28,108.86 L563.32,108.83 L563.35,108.80 L563.39,108.75 L563.42,108.70 L563.46,108.65 L563.49,108.59 L563.53,108.52 L563.56,108.45 L563.60,108.38 L563.63,108.30 L563.67,108.22 L563.70,108.13 L563.74,108.04 L563.77,107.95 L563.81,107.86 L563.84,107.77 L563.88,107.68 L563.91,107.58 L563.95,107.49 L563.98,107.41 L564.02,107.32 L564.05,107.24 L564.09,107.17 L564.12,107.10 L564.16,107.03 L564.19,106.98 L564.23,106.93 L564.26,106.89 L564.30,106.85 L564.33,106.83 L564.37,106.82 L564.40,106.81 L564.44,106.82 L564.48,106.83 L564.51,106.85 L564.55,106.88 L564.58,106.91 L564.62,106.96 L564.66,107.01 L564.69,107.06 L564.73,107.12 L564.77,107.19 L564.80,107.26 L564.84,107.34 L564.87,107.41 L564.91,107.49 L564.95,107.57 L564.98,107.65 L565.02,107.74 L565.05,107.82 L565.09,107.90 L565.13,107.98 L565.16,108.06 L565.20,108.13 L565.24,108.20 L565.27,108.27 L565.31,108.33 L565.34,108.39 L565.38,108.44 L565.42,108.49 L565.45,108.54 L565.49,108.58 L565.52,108.61 L565.56,108.64 L565.60,108.66 L565.63,108.67 L565.67,108.68 L565.71,108.69 L565.74,108.68 L565.78,108.67 L565.81,108.65 L565.85,108.62 L565.89,108.59 L565.92,108.54 L565.96,108.49 L565.99,108.43 L566.03,108.37 L566.07,108.30 L566.10,108.22 L566.14,108.13 L566.18,108.04 L566.21,107.95 L566.25,107.85 L566.28,107.75 L566.32,107.64 L566.36,107.53 L566.39,107.42 L566.43,107.30 L566.46,107.19 L566.50,107.08 L566.54,106.97 L566.57,106.86 L566.61,106.75 L566.65,106.65 L566.68,106.56 L566.72,106.47 L566.75,106.39 L566.79,106.32 L566.83,106.26 L566.86,106.20 L566.90,106.16 L566.93,106.13 L566.97,106.11 L567.01,106.11 L567.04,106.11 L567.08,106.13 L567.12,106.16 L567.16,106.19 L567.19,106.24 L567.23,106.30 L567.27,106.36 L567.31,106.43 L567.34,106.51 L567.38,106.60 L567.42,106.69 L567.46,106.78 L567.49,106.88 L567.53,106.98 L567.57,107.08 L567.61,107.18 L567.64,107.29 L567.68,107.39 L567.72,107.49 L567.76,107.58 L567.79,107.68 L567.83,107.77 L567.87,107.86 L567.91,107.94 L567.94,108.02 L567.98,108.09 L568.02,108.16 L568.05,108.22 L568.09,108.27 L568.13,108.32 L568.17,108.36 L568.20,108.39 L568.24,108.41 L568.28,108.43 L568.32,108.44 L568.35,108.45 L568.39,108.44 L568.43,108.43 L568.47,108.41 L568.50,108.37 L568.54,108.33 L568.58,108.28 L568.62,108.22 L568.65,108.16 L568.69,108.08 L568.73,108.00 L568.77,107.91 L568.80,107.81 L568.84,107.71 L568.88,107.59 L568.92,107.48 L568.95,107.36 L568.99,107.23 L569.03,107.10 L569.07,106.97 L569.10,106.83 L569.14,106.70 L569.18,106.56 L569.21,106.43 L569.25,106.30 L569.29,106.17 L569.33,106.05 L569.36,105.93 L569.40,105.83 L569.44,105.73 L569.48,105.64 L569.51,105.56 L569.55,105.50 L569.59,105.45 L569.63,105.41 L569.66,105.39 L569.70,105.38 L569.74,105.39 L569.78,105.41 L569.82,105.44 L569.86,105.49 L569.90,105.55 L569.93,105.62 L569.97,105.70 L570.01,105.79 L570.05,105.88 L570.09,105.99 L570.13,106.10 L570.17,106.22 L570.21,106.34 L570.24,106.46 L570.28,106.58 L570.32,106.71 L570.36,106.83 L570.40,106.95 L570.44,107.08 L570.48,107.19 L570.52,107.31 L570.55,107.41 L570.59,107.52 L570.63,107.62 L570.67,107.71 L570.71,107.79 L570.75,107.87 L570.79,107.94 L570.83,108.00 L570.86,108.06 L570.90,108.10 L570.94,108.14 L570.98,108.17 L571.02,108.19 L571.06,108.21 L571.10,108.21 L571.14,108.21 L571.17,108.19 L571.21,108.17 L571.25,108.13 L571.29,108.09 L571.33,108.03 L571.37,107.96 L571.41,107.89 L571.45,107.81 L571.49,107.71 L571.52,107.61 L571.56,107.50 L571.60,107.38 L571.64,107.26 L571.68,107.13 L571.72,106.99 L571.76,106.85 L571.80,106.70 L571.83,106.55 L571.87,106.40 L571.91,106.24 L571.95,106.09 L571.99,105.93 L572.03,105.78 L572.07,105.63 L572.11,105.49 L572.14,105.36 L572.18,105.23 L572.22,105.11 L572.26,105.01 L572.30,104.92 L572.34,104.84 L572.38,104.78 L572.42,104.74 L572.45,104.71 L572.49,104.70 L572.53,104.71 L572.57,104.73 L572.61,104.77 L572.65,104.83 L572.69,104.90 L572.73,104.98 L572.77,105.08 L572.82,105.19 L572.86,105.30 L572.90,105.43 L572.94,105.56 L572.98,105.70 L573.02,105.84 L573.06,105.98 L573.10,106.13 L573.14,106.27 L573.18,106.41 L573.22,106.56 L573.26,106.69 L573.30,106.83 L573.34,106.96 L573.38,107.08 L573.42,107.20 L573.46,107.31 L573.50,107.41 L573.54,107.51 L573.58,107.60 L573.62,107.68 L573.66,107.75 L573.70,107.81 L573.74,107.86 L573.78,107.91 L573.82,107.94 L573.86,107.97 L573.90,107.98 L573.94,107.98 L573.98,107.98 L574.02,107.96 L574.06,107.93 L574.10,107.90 L574.14,107.85 L574.18,107.78 L574.22,107.71 L574.26,107.63 L574.30,107.54 L574.34,107.44 L574.38,107.32 L574.42,107.20 L574.46,107.07 L574.50,106.93 L574.55,106.79 L574.59,106.63 L574.63,106.47 L574.67,106.31 L574.71,106.14 L574.75,105.96 L574.79,105.79 L574.83,105.61 L574.87,105.43 L574.91,105.26 L574.95,105.09 L574.99,104.93 L575.03,104.77 L575.07,104.62 L575.11,104.49 L575.15,104.37 L575.19,104.26 L575.23,104.17 L575.27,104.10 L575.31,104.05 L575.35,104.02 L575.39,104.01 L575.43,104.02 L575.47,104.05 L575.51,104.09 L575.55,104.16 L575.59,104.24 L575.63,104.34 L575.67,104.45 L575.71,104.58 L575.75,104.72 L575.79,104.86 L575.83,105.01 L575.87,105.17 L575.91,105.34 L575.95,105.50 L575.99,105.67 L576.03,105.83 L576.08,105.99 L576.12,106.16 L576.16,106.31 L576.20,106.46 L576.24,106.61 L576.28,106.75 L576.32,106.88 L576.36,107.00 L576.40,107.12 L576.44,107.23 L576.48,107.33 L576.52,107.41 L576.56,107.49 L576.60,107.56 L576.64,107.62 L576.68,107.67 L576.72,107.70 L576.76,107.73 L576.80,107.75 L576.84,107.75 L576.88,107.75 L576.92,107.73 L576.96,107.70 L577.00,107.66 L577.04,107.60 L577.08,107.54 L577.12,107.46 L577.16,107.37 L577.20,107.27 L577.24,107.16 L577.28,107.03 L577.32,106.90 L577.36,106.76 L577.41,106.61 L577.45,106.45 L577.49,106.28 L577.53,106.10 L577.57,105.92 L577.61,105.73 L577.65,105.54 L577.69,105.34 L577.73,105.14 L577.77,104.94 L577.81,104.75 L577.85,104.56 L577.89,104.37 L577.93,104.19 L577.97,104.02 L578.01,103.87 L578.05,103.73 L578.09,103.61 L578.13,103.50 L578.17,103.42 L578.21,103.36 L578.25,103.32 L578.29,103.31 L578.35,103.32 L578.40,103.36 L578.45,103.41 L578.51,103.49 L578.56,103.58 L578.62,103.70 L578.67,103.83 L578.73,103.97 L578.78,104.13 L578.83,104.29 L578.89,104.47 L578.94,104.65 L579.00,104.83 L579.05,105.01 L579.10,105.20 L579.16,105.39 L579.21,105.57 L579.27,105.75 L579.32,105.92 L579.38,106.09 L579.43,106.25 L579.48,106.40 L579.54,106.55 L579.59,106.68 L579.65,106.81 L579.70,106.92 L579.75,107.03 L579.81,107.13 L579.86,107.21 L579.92,107.29 L579.97,107.35 L580.03,107.40 L580.08,107.44 L580.13,107.47 L580.19,107.49 L580.24,107.50 L580.30,107.49 L580.35,107.47 L580.40,107.44 L580.46,107.39 L580.51,107.33 L580.57,107.26 L580.62,107.17 L580.68,107.08 L580.73,106.97 L580.78,106.84 L580.84,106.71 L580.89,106.56 L580.95,106.41 L581.00,106.24 L581.06,106.06 L581.11,105.87 L581.16,105.68 L581.22,105.47 L581.27,105.26 L581.33,105.04 L581.38,104.82 L581.43,104.59 L581.49,104.37 L581.54,104.14 L581.60,103.92 L581.65,103.71 L581.71,103.50 L581.76,103.31 L581.81,103.12 L581.87,102.96 L581.92,102.81 L581.98,102.69 L582.03,102.59 L582.08,102.52 L582.14,102.48 L582.19,102.46 L582.24,102.48 L582.28,102.52 L582.33,102.59 L582.38,102.69 L582.42,102.81 L582.47,102.95 L582.52,103.11 L582.56,103.29 L582.61,103.48 L582.65,103.69 L582.70,103.90 L582.75,104.12 L582.79,104.34 L582.84,104.56 L582.88,104.78 L582.93,105.00 L582.98,105.22 L583.02,105.43 L583.07,105.63 L583.11,105.82 L583.16,106.01 L583.21,106.19 L583.25,106.35 L583.30,106.51 L583.34,106.65 L583.39,106.79 L583.44,106.91 L583.48,107.02 L583.53,107.11 L583.57,107.20 L583.62,107.27 L583.67,107.33 L583.71,107.37 L583.76,107.40 L583.80,107.42 L583.85,107.43 L583.90,107.42 L583.94,107.40 L583.99,107.37 L584.03,107.32 L584.08,107.25 L584.13,107.18 L584.17,107.08 L584.22,106.98 L584.26,106.86 L584.31,106.73 L584.36,106.58 L584.40,106.42 L584.45,106.25 L584.49,106.07 L584.54,105.88 L584.59,105.67 L584.63,105.45 L584.68,105.23 L584.72,104.99 L584.77,104.75 L584.82,104.50 L584.86,104.25 L584.91,104.00 L584.95,103.74 L585.00,103.49 L585.05,103.25 L585.09,103.01 L585.14,102.78 L585.18,102.57 L585.23,102.38 L585.28,102.21 L585.32,102.07 L585.37,101.95 L585.41,101.87 L585.46,101.82 L585.51,101.80 L585.55,101.82 L585.60,101.87 L585.65,101.95 L585.69,102.06 L585.74,102.21 L585.79,102.37 L585.84,102.56 L585.88,102.77 L585.93,102.99 L585.98,103.23 L586.03,103.47 L586.07,103.72 L586.12,103.97 L586.17,104.22 L586.21,104.47 L586.26,104.71 L586.31,104.95 L586.36,105.18 L586.40,105.41 L586.45,105.62 L586.50,105.83 L586.54,106.02 L586.59,106.20 L586.64,106.37 L586.69,106.53 L586.73,106.67 L586.78,106.80 L586.83,106.92 L586.88,107.03 L586.92,107.12 L586.97,107.19 L587.02,107.26 L587.06,107.31 L587.11,107.34 L587.16,107.36 L587.21,107.37 L587.25,107.36 L587.30,107.34 L587.35,107.30 L587.39,107.25 L587.44,107.18 L587.49,107.10 L587.54,107.00 L587.58,106.89 L587.63,106.76 L587.68,106.62 L587.73,106.46 L587.77,106.29 L587.82,106.11 L587.87,105.91 L587.91,105.70 L587.96,105.48 L588.01,105.24 L588.06,104.99 L588.10,104.74 L588.15,104.47 L588.20,104.20 L588.24,103.92 L588.29,103.63 L588.34,103.35 L588.39,103.07 L588.43,102.79 L588.48,102.52 L588.53,102.26 L588.58,102.02 L588.62,101.80 L588.67,101.60 L588.72,101.43 L588.76,101.30 L588.81,101.20 L588.86,101.14 L588.91,101.12 L588.96,101.14 L589.01,101.20 L589.07,101.30 L589.12,101.43 L589.18,101.59 L589.23,101.79 L589.29,102.01 L589.34,102.24 L589.39,102.50 L589.45,102.77 L589.50,103.04 L589.56,103.32 L589.61,103.60 L589.66,103.88 L589.72,104.16 L589.77,104.43 L589.83,104.69 L589.88,104.94 L589.94,105.19 L589.99,105.42 L590.04,105.64 L590.10,105.85 L590.15,106.05 L590.21,106.23 L590.26,106.40 L590.32,106.56 L590.37,106.70 L590.42,106.82 L590.48,106.94 L590.53,107.03 L590.59,107.12 L590.64,107.18 L590.70,107.24 L590.75,107.27 L590.80,107.30 L590.86,107.30 L590.91,107.29 L590.97,107.27 L591.02,107.23 L591.07,107.18 L591.13,107.11 L591.18,107.02 L591.24,106.92 L591.29,106.81 L591.35,106.67 L591.40,106.53 L591.45,106.37 L591.51,106.19 L591.56,106.00 L591.62,105.79 L591.67,105.57 L591.73,105.34 L591.78,105.09 L591.83,104.83 L591.89,104.56 L591.94,104.28 L592.00,104.00 L592.05,103.70 L592.11,103.40 L592.16,103.10 L592.21,102.80 L592.27,102.50 L592.32,102.22 L592.38,101.94 L592.43,101.68 L592.48,101.44 L592.54,101.23 L592.59,101.04 L592.65,100.90 L592.70,100.79 L592.76,100.72 L592.81,100.70 L592.86,100.72 L592.90,100.79 L592.95,100.89 L592.99,101.03 L593.04,101.21 L593.08,101.42 L593.13,101.66 L593.18,101.91 L593.22,102.18 L593.27,102.46 L593.31,102.76 L593.36,103.05 L593.40,103.35 L593.45,103.64 L593.50,103.93 L593.54,104.22 L593.59,104.49 L593.63,104.76 L593.68,105.01 L593.72,105.26 L593.77,105.49 L593.82,105.70 L593.86,105.91 L593.91,106.10 L593.95,106.27 L594.00,106.43 L594.04,106.58 L594.09,106.71 L594.14,106.82 L594.18,106.92 L594.23,107.01 L594.27,107.08 L594.32,107.13 L594.36,107.17 L594.41,107.19 L594.46,107.20 L594.50,107.19 L594.55,107.17 L594.59,107.13 L594.64,107.08 L594.68,107.02 L594.73,106.94 L594.77,106.84 L594.82,106.73 L594.87,106.61 L594.91,106.47 L594.96,106.32 L595.00,106.15 L595.05,105.97 L595.09,105.78 L595.14,105.58 L595.19,105.36 L595.23,105.13 L595.28,104.89 L595.32,104.64 L595.37,104.39 L595.41,104.12 L595.46,103.86 L595.51,103.59 L595.55,103.31 L595.60,103.04 L595.64,102.78 L595.69,102.52 L595.73,102.28 L595.78,102.05 L595.83,101.84 L595.87,101.65 L595.92,101.50 L595.96,101.37 L596.01,101.28 L596.05,101.22 L596.10,101.20 L596.15,101.22 L596.21,101.26 L596.26,101.34 L596.32,101.45 L596.37,101.58 L596.43,101.73 L596.48,101.91 L596.53,102.11 L596.59,102.31 L596.64,102.54 L596.70,102.76 L596.75,103.00 L596.81,103.24 L596.86,103.47 L596.92,103.71 L596.97,103.94 L597.02,104.17 L597.08,104.39 L597.13,104.61 L597.19,104.81 L597.24,105.01 L597.30,105.20 L597.35,105.37 L597.40,105.54 L597.46,105.69 L597.51,105.83 L597.57,105.95 L597.62,106.07 L597.68,106.17 L597.73,106.26 L597.79,106.33 L597.84,106.39 L597.89,106.44 L597.95,106.47 L598.00,106.49 L598.06,106.50 L598.11,106.49 L598.17,106.47 L598.22,106.43 L598.27,106.38 L598.33,106.31 L598.38,106.23 L598.44,106.13 L598.49,106.02 L598.55,105.89 L598.60,105.75 L598.65,105.59 L598.71,105.42 L598.76,105.23 L598.82,105.03 L598.87,104.82 L598.93,104.60 L598.98,104.36 L599.04,104.11 L599.09,103.85 L599.14,103.58 L599.20,103.31 L599.25,103.03 L599.31,102.74 L599.36,102.45 L599.42,102.17 L599.47,101.89 L599.52,101.62 L599.58,101.36 L599.63,101.11 L599.69,100.89 L599.74,100.69 L599.80,100.52 L599.85,100.38 L599.90,100.28 L599.96,100.22 L600.01,100.20 L600.07,100.22 L600.12,100.27 L600.17,100.35 L600.22,100.47 L600.28,100.61 L600.33,100.78 L600.38,100.97 L600.44,101.18 L600.49,101.40 L600.54,101.64 L600.59,101.88 L600.65,102.13 L600.70,102.38 L600.75,102.64 L600.80,102.89 L600.86,103.13 L600.91,103.37 L600.96,103.61 L601.01,103.83 L601.07,104.05 L601.12,104.25 L601.17,104.45 L601.23,104.63 L601.28,104.80 L601.33,104.96 L601.38,105.10 L601.44,105.23 L601.49,105.35 L601.54,105.46 L601.59,105.55 L601.65,105.62 L601.70,105.69 L601.75,105.74 L601.81,105.77 L601.86,105.79 L601.91,105.80 L601.96,105.79 L602.02,105.77 L602.07,105.73 L602.12,105.67 L602.17,105.60 L602.23,105.51 L602.28,105.41 L602.33,105.29 L602.39,105.15 L602.44,105.00 L602.49,104.83 L602.54,104.65 L602.60,104.45 L602.65,104.23 L602.70,104.00 L602.75,103.76 L602.81,103.50 L602.86,103.23 L602.91,102.95 L602.97,102.65 L603.02,102.35 L603.07,102.04 L603.12,101.72 L603.18,101.40 L603.23,101.08 L603.28,100.76 L603.33,100.45 L603.39,100.15 L603.44,99.87 L603.49,99.61 L603.55,99.38 L603.60,99.18 L603.65,99.02 L603.70,98.90 L603.76,98.82 L603.81,98.80 L603.86,98.83 L603.90,98.92 L603.95,99.06 L604.00,99.25 L604.04,99.49 L604.09,99.76 L604.14,100.06 L604.19,100.39 L604.23,100.74 L604.28,101.09 L604.33,101.45 L604.37,101.81 L604.42,102.17 L604.47,102.53 L604.52,102.87 L604.56,103.21 L604.61,103.53 L604.66,103.84 L604.70,104.14 L604.75,104.42 L604.80,104.68 L604.85,104.93 L604.89,105.16 L604.94,105.37 L604.99,105.57 L605.03,105.75 L605.08,105.91 L605.13,106.05 L605.17,106.18 L605.22,106.29 L605.27,106.39 L605.32,106.46 L605.36,106.52 L605.41,106.57 L605.46,106.59 L605.50,106.60 L605.55,106.59 L605.60,106.56 L605.65,106.51 L605.69,106.44 L605.74,106.35 L605.79,106.25 L605.83,106.12 L605.88,105.97 L605.93,105.80 L605.98,105.61 L606.02,105.40 L606.07,105.16 L606.12,104.91 L606.16,104.63 L606.21,104.33 L606.26,104.01 L606.31,103.67 L606.35,103.30 L606.40,102.91 L606.45,102.50 L606.49,102.06 L606.54,101.60 L606.59,101.13 L606.63,100.63 L606.68,100.12 L606.73,99.60 L606.78,99.08 L606.82,98.56 L606.87,98.04 L606.92,97.56 L606.96,97.10 L607.01,96.70 L607.06,96.36 L607.11,96.11 L607.15,95.95 L607.20,95.90 L607.20,95.90 L607.20,95.90 L607.20,95.90 L607.21,95.90 L607.21,95.90 L607.22,95.91 L607.23,95.92 L607.25,95.94 L607.26,95.97 L607.28,96.02 L607.30,96.10 L607.33,96.21 L607.36,96.36 L607.39,96.57 L607.43,96.83 L607.47,97.17 L607.52,97.57 L607.57,98.05 L607.63,98.60 L607.69,99.21 L607.75,99.88 L607.83,100.59 L607.90,101.33 L607.98,102.10 L608.07,102.86 L608.17,103.62 L608.26,104.36 L608.37,105.06 L608.48,105.72 L608.60,106.33 L608.73,106.88 L608.86,107.36 L608.99,107.75 L609.14,108.04 L609.29,108.23 L609.45,108.30 L609.61,108.23 L609.76,108.03 L609.91,107.72 L610.04,107.31 L610.17,106.81 L610.30,106.22 L610.42,105.57 L610.53,104.86 L610.64,104.09 L610.73,103.28 L610.83,102.44 L610.92,101.57 L611.00,100.70 L611.07,99.82 L611.15,98.97 L611.21,98.15 L611.27,97.38 L611.33,96.68 L611.38,96.05 L611.43,95.50 L611.47,95.04 L611.51,94.67 L611.54,94.38 L611.57,94.16 L611.60,93.99 L611.62,93.88 L611.64,93.81 L611.65,93.76 L611.67,93.73 L611.68,93.71 L611.69,93.70 L611.69,93.70 L611.70,93.70 L611.70,93.70 L611.70,93.70 L611.70,93.70 L611.70,93.70 L611.70,93.70 L611.70,93.70 L611.71,93.70 L611.71,93.71 L611.72,93.72 L611.73,93.74 L611.74,93.78 L611.76,93.84 L611.78,93.94 L611.80,94.09 L611.82,94.30 L611.85,94.59 L611.88,94.97 L611.92,95.45 L611.96,96.02 L612.00,96.69 L612.05,97.45 L612.10,98.28 L612.16,99.17 L612.22,100.10 L612.28,101.05 L612.36,102.00 L612.43,102.95 L612.51,103.88 L612.60,104.78 L612.69,105.63 L612.79,106.44 L612.90,107.18 L613.01,107.86 L613.12,108.46 L613.25,108.98 L613.37,109.41 L613.51,109.73 L613.65,109.93 L613.80,110.00 L613.95,109.93 L614.09,109.72 L614.23,109.39 L614.35,108.96 L614.48,108.43 L614.59,107.81 L614.70,107.11 L614.81,106.35 L614.91,105.51 L615.00,104.62 L615.09,103.68 L615.17,102.70 L615.24,101.69 L615.32,100.66 L615.38,99.62 L615.44,98.59 L615.50,97.59 L615.55,96.63 L615.60,95.74 L615.64,94.94 L615.68,94.24 L615.72,93.65 L615.75,93.17 L615.78,92.80 L615.80,92.52 L615.82,92.32 L615.84,92.19 L615.86,92.10 L615.87,92.05 L615.88,92.02 L615.89,92.01 L615.89,92.00 L615.90,92.00 L615.90,92.00 L615.90,92.00 L615.90,92.00 L615.90,92.00 L615.90,92.00 L615.90,92.00 L615.91,92.00 L615.91,92.01 L615.92,92.03 L615.94,92.07 L615.95,92.15 L615.97,92.27 L615.99,92.46 L616.01,92.74 L616.04,93.12 L616.08,93.63 L616.11,94.26 L616.16,95.03 L616.20,95.91 L616.26,96.89 L616.31,97.94 L616.37,99.05 L616.44,100.18 L616.52,101.33 L616.59,102.46 L616.68,103.57 L616.77,104.65 L616.87,105.68 L616.97,106.67 L617.08,107.59 L617.20,108.46 L617.32,109.25 L617.46,109.96 L617.59,110.60 L617.74,111.14 L617.89,111.58 L618.05,111.91 L618.22,112.13 L618.40,112.20 L618.58,112.13 L618.75,111.91 L618.91,111.58 L619.06,111.13 L619.21,110.58 L619.34,109.94 L619.48,109.21 L619.60,108.41 L619.72,107.53 L619.83,106.58 L619.93,105.57 L620.03,104.50 L620.12,103.39 L620.21,102.23 L620.28,101.03 L620.36,99.81 L620.43,98.59 L620.49,97.38 L620.54,96.20 L620.60,95.09 L620.64,94.06 L620.69,93.15 L620.72,92.38 L620.76,91.74 L620.79,91.26 L620.81,90.90 L620.83,90.65 L620.85,90.49 L620.86,90.40 L620.88,90.34 L620.89,90.32 L620.89,90.31 L620.90,90.30 L620.90,90.30 L620.90,90.30 L620.90,90.30 L620.90,90.30 L620.90,90.30 L620.90,90.30 L620.91,90.31 L620.92,90.32 L620.92,90.36 L620.94,90.43 L620.95,90.56 L620.97,90.76 L620.99,91.08 L621.02,91.54 L621.05,92.15 L621.08,92.92 L621.12,93.85 L621.16,94.91 L621.21,96.08 L621.26,97.32 L621.32,98.61 L621.38,99.92 L621.45,101.22 L621.53,102.50 L621.61,103.74 L621.70,104.94 L621.79,106.09 L621.89,107.18 L621.99,108.21 L622.11,109.18 L622.23,110.07 L622.35,110.88 L622.49,111.62 L622.63,112.27 L622.78,112.82 L622.93,113.27 L623.10,113.61 L623.27,113.82 L623.45,113.90 L623.63,113.82 L623.80,113.61 L623.97,113.27 L624.12,112.81 L624.27,112.26 L624.41,111.60 L624.55,110.86 L624.67,110.04 L624.79,109.14 L624.91,108.16 L625.01,107.11 L625.11,106.00 L625.20,104.83 L625.29,103.59 L625.37,102.31 L625.45,100.98 L625.52,99.62 L625.58,98.23 L625.64,96.84 L625.69,95.48 L625.74,94.17 L625.78,92.96 L625.82,91.87 L625.85,90.94 L625.88,90.18 L625.91,89.61 L625.93,89.21 L625.95,88.94 L625.96,88.77 L625.98,88.68 L625.98,88.63 L625.99,88.61 L626.00,88.60 L626.00,88.60 L626.00,88.60 L626.00,88.60 L626.00,88.60 L626.00,88.60 L626.00,88.60 L626.01,88.61 L626.02,88.64 L626.03,88.71 L626.04,88.83 L626.06,89.06 L626.08,89.42 L626.10,89.96 L626.13,90.70 L626.17,91.64 L626.21,92.77 L626.25,94.05 L626.30,95.45 L626.35,96.90 L626.41,98.39 L626.48,99.88 L626.55,101.34 L626.63,102.77 L626.71,104.14 L626.81,105.46 L626.90,106.73 L627.01,107.92 L627.12,109.05 L627.24,110.11 L627.37,111.10 L627.51,112.01 L627.65,112.84 L627.81,113.59 L627.97,114.25 L628.14,114.81 L628.31,115.26 L628.50,115.61 L628.70,115.82 L628.90,115.90 L629.10,115.82 L629.30,115.61 L629.49,115.26 L629.66,114.80 L629.83,114.24 L629.99,113.58 L630.15,112.83 L630.29,111.99 L630.43,111.07 L630.56,110.07 L630.68,109.00 L630.79,107.85 L630.90,106.64 L630.99,105.35 L631.09,103.99 L631.17,102.57 L631.25,101.09 L631.32,99.55 L631.39,97.97 L631.45,96.35 L631.50,94.73 L631.55,93.14 L631.59,91.63 L631.63,90.24 L631.67,89.03 L631.70,88.04 L631.72,87.29 L631.74,86.78 L631.76,86.45 L631.77,86.26 L631.78,86.16 L631.79,86.12 L631.80,86.10 L631.80,86.10 L631.80,86.10 L631.80,86.10 L631.80,86.10 L631.80,86.10 L631.80,86.11 L631.81,86.13 L631.82,86.19 L631.83,86.33 L631.84,86.61 L631.86,87.08 L631.88,87.81 L631.90,88.81 L631.93,90.09 L631.96,91.58 L632.00,93.22 L632.04,94.95 L632.09,96.70 L632.15,98.45 L632.21,100.16 L632.27,101.82 L632.34,103.41 L632.42,104.94 L632.50,106.39 L632.59,107.77 L632.69,109.08 L632.79,110.31 L632.90,111.46 L633.02,112.55 L633.15,113.55 L633.28,114.47 L633.42,115.31 L633.57,116.07 L633.73,116.73 L633.90,117.30 L634.07,117.76 L634.26,118.10 L634.45,118.32 L634.65,118.40 L634.85,118.32 L635.04,118.10 L635.23,117.76 L635.40,117.30 L635.57,116.73 L635.73,116.07 L635.88,115.31 L636.02,114.47 L636.15,113.54 L636.28,112.53 L636.40,111.45 L636.51,110.29 L636.61,109.05 L636.71,107.74 L636.80,106.34 L636.88,104.88 L636.96,103.34 L637.03,101.72 L637.09,100.03 L637.15,98.27 L637.21,96.46 L637.26,94.62 L637.30,92.78 L637.34,91.00 L637.37,89.34 L637.40,87.89 L637.42,86.70 L637.44,85.83 L637.46,85.24 L637.47,84.90 L637.48,84.72 L637.49,84.64 L637.50,84.61 L637.50,84.60 L637.50,84.60 L637.50,84.60 L637.50,84.60 L637.50,84.60 L637.50,84.61 L637.51,84.66 L637.52,84.80 L637.53,85.11 L637.54,85.69 L637.56,86.61 L637.58,87.92 L637.61,89.56 L637.64,91.44 L637.68,93.46 L637.72,95.52 L637.77,97.56 L637.82,99.55 L637.88,101.47 L637.94,103.30 L638.01,105.05 L638.09,106.71 L638.17,108.28 L638.26,109.77 L638.36,111.18 L638.47,112.51 L638.58,113.75 L638.70,114.92 L638.83,116.01 L638.97,117.03 L639.11,117.95 L639.27,118.80 L639.43,119.56 L639.60,120.23 L639.78,120.79 L639.97,121.26 L640.17,121.60 L640.38,121.82 L640.60,121.90 L640.82,121.82 L641.03,121.60 L641.23,121.26 L641.42,120.79 L641.60,120.22 L641.77,119.55 L641.93,118.79 L642.09,117.94 L642.23,117.01 L642.37,115.99 L642.50,114.90 L642.62,113.72 L642.73,112.46 L642.84,111.12 L642.94,109.69 L643.03,108.18 L643.11,106.57 L643.19,104.86 L643.26,103.05 L643.32,101.12 L643.38,99.07 L643.43,96.88 L643.48,94.54 L643.52,92.05 L643.56,89.39 L643.59,86.59 L643.62,83.68 L643.64,80.78 L643.66,78.09 L643.67,75.91 L643.68,74.44 L643.69,73.68 L643.70,73.39 L643.70,73.31 L643.70,73.30 L643.70,73.30 L643.70,73.30 L643.70,73.33 L643.71,73.54 L643.71,74.29 L643.72,76.03 L643.73,78.81 L643.75,82.20 L643.77,85.75 L643.79,89.18 L643.82,92.40 L643.86,95.38 L643.90,98.15 L643.94,100.71 L644.00,103.08 L644.05,105.30 L644.12,107.37 L644.19,109.31 L644.27,111.14 L644.35,112.85 L644.45,114.46 L644.55,115.98 L644.66,117.41 L644.78,118.75 L644.90,120.01 L645.04,121.19 L645.18,122.29 L645.33,123.31 L645.49,124.24 L645.67,125.09 L645.85,125.85 L646.04,126.52 L646.24,127.09 L646.45,127.55 L646.67,127.90 L646.91,128.12 L647.15,128.20 L647.39,128.12 L647.63,127.90 L647.85,127.56 L648.06,127.10 L648.26,126.53 L648.45,125.86 L648.63,125.11 L648.81,124.26 L648.97,123.33 L649.12,122.32 L649.26,121.24 L649.40,120.07 L649.52,118.83 L649.64,117.51 L649.75,116.11 L649.85,114.63 L649.95,113.08 L650.03,111.44 L650.11,109.72 L650.18,107.93 L650.25,106.07 L650.30,104.17 L650.36,102.24 L650.40,100.33 L650.44,98.53 L650.48,96.90 L650.51,95.54 L650.53,94.50 L650.55,93.79 L650.57,93.37 L650.58,93.15 L650.59,93.05 L650.59,93.01 L650.60,93.00 L650.60,93.00 L650.60,93.00 L650.60,93.00 L650.60,93.01 L650.61,93.05 L650.61,93.21 L650.62,93.64 L650.64,94.53 L650.65,96.01 L650.67,98.04 L650.70,100.44 L650.73,103.01 L650.77,105.59 L650.81,108.11 L650.86,110.52 L650.92,112.80 L650.98,114.95 L651.05,116.98 L651.13,118.89 L651.21,120.69 L651.30,122.39 L651.40,123.99 L651.51,125.51 L651.63,126.93 L651.75,128.27 L651.89,129.52 L652.03,130.70 L652.19,131.80 L652.35,132.81 L652.52,133.75 L652.71,134.59 L652.90,135.35 L653.11,136.02 L653.32,136.59 L653.55,137.06 L653.79,137.40 L654.04,137.62 L654.30,137.70 L654.56,137.62 L654.81,137.40 L655.05,137.06 L655.28,136.59 L655.49,136.02 L655.70,135.35 L655.89,134.59 L656.08,133.74 L656.25,132.81 L656.41,131.79 L656.57,130.70 L656.71,129.52 L656.85,128.26 L656.97,126.92 L657.09,125.49 L657.20,123.98 L657.30,122.37 L657.39,120.66 L657.47,118.85 L657.55,116.92 L657.62,114.87 L657.68,112.68 L657.74,110.34 L657.79,107.85 L657.83,105.20 L657.87,102.40 L657.90,99.50 L657.93,96.61 L657.95,93.94 L657.96,91.77 L657.98,90.32 L657.99,89.57 L657.99,89.29 L658.00,89.21 L658.00,89.20 L658.00,89.20 L658.00,89.20 L658.00,89.24 L658.01,89.49 L658.01,90.41 L658.02,92.46 L658.04,95.56 L658.06,99.19 L658.08,102.87 L658.11,106.38 L658.14,109.64 L658.19,112.65 L658.23,115.42 L658.29,117.99 L658.35,120.37 L658.42,122.59 L658.49,124.67 L658.58,126.61 L658.67,128.43 L658.77,130.15 L658.88,131.76 L659.00,133.28 L659.13,134.71 L659.26,136.05 L659.41,137.31 L659.57,138.49 L659.74,139.59 L659.92,140.61 L660.11,141.54 L660.31,142.39 L660.52,143.15 L660.75,143.82 L660.98,144.39 L661.23,144.85 L661.49,145.20 L661.76,145.42 L662.05,145.50 L662.34,145.42 L662.61,145.20 L662.87,144.85 L663.12,144.39 L663.35,143.82 L663.58,143.15 L663.79,142.39 L663.99,141.54 L664.18,140.61 L664.36,139.59 L664.53,138.49 L664.69,137.31 L664.84,136.05 L664.97,134.71 L665.10,133.28 L665.22,131.76 L665.33,130.15 L665.43,128.43 L665.52,126.61 L665.61,124.66 L665.68,122.59 L665.75,120.36 L665.81,117.98 L665.87,115.40 L665.91,112.61 L665.96,109.58 L665.99,106.29 L666.02,102.71 L666.04,98.90 L666.06,95.03 L666.08,91.56 L666.09,89.13 L666.09,87.98 L666.10,87.65 L666.10,87.60 L666.10,87.60 L666.10,87.60 L666.10,87.64 L666.11,87.93 L666.12,88.94 L666.13,91.15 L666.15,94.42 L666.17,98.16 L666.21,101.90 L666.24,105.43 L666.29,108.71 L666.34,111.73 L666.40,114.51 L666.47,117.08 L666.55,119.47 L666.64,121.69 L666.74,123.77 L666.85,125.71 L666.97,127.53 L667.10,129.25 L667.24,130.86 L667.39,132.38 L667.56,133.81 L667.74,135.15 L667.93,136.41 L668.13,137.59 L668.35,138.69 L668.58,139.71 L668.83,140.64 L669.09,141.49 L669.37,142.25 L669.66,142.92 L669.97,143.49 L670.29,143.95 L670.62,144.30 L670.98,144.52 L671.35,144.60 L671.72,144.52 L672.08,144.30 L672.41,143.95 L672.73,143.49 L673.04,142.92 L673.33,142.25 L673.61,141.49 L673.87,140.64 L674.12,139.71 L674.35,138.69 L674.57,137.59 L674.77,136.41 L674.96,135.15 L675.14,133.81 L675.31,132.38 L675.46,130.86 L675.60,129.24 L675.73,127.53 L675.85,125.70 L675.96,123.76 L676.06,121.68 L676.15,119.45 L676.23,117.06 L676.30,114.48 L676.36,111.68 L676.41,108.63 L676.46,105.29 L676.49,101.64 L676.53,97.68 L676.55,93.54 L676.57,89.58 L676.58,86.57 L676.59,85.03 L676.60,84.57 L676.60,84.50 L676.60,84.50 L677.50,131.60" stroke="#191970" stroke-width="1.5" fill="none" stroke-linejoin="round" stroke-linecap="round" clip-path="url(#cR)"/>
<path d="M441.10,194.80 L441.70,194.81 L442.50,194.82 L443.47,194.84 L444.55,194.86 L445.69,194.88 L446.84,194.89 L447.96,194.89 L448.99,194.88 L449.89,194.85 L450.60,194.80 L451.14,194.73 L451.57,194.64 L451.91,194.53 L452.18,194.40 L452.38,194.25 L452.55,194.10 L452.70,193.94 L452.84,193.77 L453.00,193.62 L453.20,193.46 L453.41,193.33 L453.59,193.23 L453.76,193.16 L453.92,193.10 L454.07,193.04 L454.23,192.99 L454.40,192.94 L454.58,192.85 L454.77,192.69 L455.00,192.46 L455.25,192.19 L455.52,191.88 L455.81,191.51 L456.10,191.08 L456.41,190.57 L456.73,189.95 L457.05,189.09 L457.37,188.31 L457.69,187.54 L458.00,186.80 L458.31,186.11 L458.60,185.43 L458.90,184.76 L459.20,184.21 L459.50,183.50 L459.81,182.66 L460.13,181.76 L460.47,180.81 L460.82,179.81 L461.20,178.76 L461.61,177.53 L462.05,176.11 L462.52,174.90 L463.01,173.88 L463.51,173.06 L464.00,172.57 L464.49,171.92 L464.95,171.14 L465.39,170.34 L465.80,169.53 L466.17,168.75 L466.53,167.85 L466.87,167.12 L467.19,166.56 L467.49,166.14 L467.79,165.81 L468.08,165.55 L468.36,165.35 L468.63,165.19 L468.90,165.10 L469.16,164.78 L469.40,164.42 L469.62,164.02 L469.84,163.58 L470.05,163.11 L470.26,162.61 L470.48,162.06 L470.70,161.46 L470.94,160.79 L471.20,160.00 L471.48,159.00 L471.77,158.09 L472.07,157.19 L472.38,156.34 L472.70,155.57 L473.02,154.89 L473.34,154.33 L473.67,154.00 L473.99,153.52 L474.30,153.06 L474.61,152.64 L474.91,152.27 L475.21,151.91 L475.51,151.56 L475.81,151.19 L476.11,150.62 L476.42,150.12 L476.74,149.69 L477.06,149.29 L477.40,148.92 L477.75,148.58 L478.10,148.32 L478.46,148.24 L478.83,147.91 L479.21,147.47 L479.59,146.94 L479.98,146.33 L480.38,145.63 L480.78,144.81 L481.20,143.77 L481.63,142.96 L482.08,142.27 L482.54,141.73 L483.02,141.37 L483.49,141.17 L483.97,140.67 L484.45,140.09 L484.91,139.44 L485.36,138.74 L485.80,137.83 L486.23,137.16 L486.65,136.72 L487.07,136.49 L487.49,136.44 L487.89,136.59 L488.29,136.80 L488.67,136.78 L489.03,136.66 L489.38,136.46 L489.70,136.16 L489.98,135.80 L490.21,135.41 L490.41,134.94 L490.59,134.43 L490.76,133.99 L490.93,133.57 L491.13,133.16 L491.37,132.75 L491.65,132.38 L492.00,132.07 L492.42,131.88 L492.91,131.96 L493.44,131.72 L494.01,131.32 L494.61,130.73 L495.21,129.88 L495.80,128.87 L496.37,128.25 L496.91,127.92 L497.40,127.83 L497.84,127.92 L498.26,127.74 L498.64,127.50 L499.02,127.19 L499.38,126.82 L499.73,126.39 L500.08,125.82 L500.44,125.29 L500.81,124.89 L501.20,124.56 L501.61,124.28 L502.03,124.02 L502.47,123.83 L502.90,123.46 L503.34,123.02 L503.78,122.57 L504.21,122.13 L504.62,121.74 L505.02,121.43 L505.40,121.20 L505.74,121.06 L506.04,121.02 L506.32,121.04 L506.58,121.11 L506.83,121.20 L507.10,121.29 L507.38,121.34 L507.71,121.35 L508.07,121.28 L508.50,121.10 L509.00,120.81 L509.55,120.43 L510.16,119.98 L510.80,119.47 L511.46,118.93 L512.12,118.38 L512.79,117.85 L513.43,117.34 L514.04,116.88 L514.60,116.50 L515.13,116.18 L515.64,115.90 L516.14,115.66 L516.62,115.44 L517.09,115.24 L517.54,115.05 L517.98,114.87 L518.40,114.69 L518.81,114.50 L519.20,114.30 L519.56,114.10 L519.87,113.90 L520.14,113.71 L520.40,113.52 L520.65,113.33 L520.91,113.14 L521.19,112.95 L521.51,112.74 L521.87,112.53 L522.30,112.30 L522.81,112.05 L523.39,111.76 L524.03,111.45 L524.70,111.13 L525.39,110.81 L526.09,110.50 L526.76,110.22 L527.40,109.97 L527.99,109.76 L528.50,109.60 L528.93,109.52 L529.27,109.50 L529.57,109.54 L529.82,109.62 L530.06,109.71 L530.30,109.80 L530.57,109.88 L530.88,109.91 L531.25,109.89 L531.70,109.80 L532.24,109.63 L532.85,109.41 L533.51,109.15 L534.21,108.84 L534.94,108.52 L535.69,108.18 L536.43,107.84 L537.15,107.50 L537.85,107.19 L538.50,106.90 L539.11,106.63 L539.71,106.36 L540.29,106.10 L540.85,105.84 L541.41,105.59 L541.97,105.34 L542.52,105.09 L543.07,104.86 L543.63,104.62 L544.20,104.40 L544.78,104.17 L545.37,103.92 L545.96,103.67 L546.56,103.42 L547.16,103.19 L547.75,102.97 L548.33,102.79 L548.90,102.64 L549.46,102.54 L550.00,102.50 L550.53,102.53 L551.05,102.65 L551.57,102.82 L552.08,103.04 L552.58,103.28 L553.06,103.52 L553.53,103.75 L553.98,103.96 L554.40,104.11 L554.80,104.20 L555.17,104.23 L555.50,104.23 L555.82,104.21 L556.11,104.16 L556.38,104.08 L556.65,103.99 L556.90,103.88 L557.16,103.76 L557.43,103.63 L557.70,103.50 L557.99,103.34 L558.30,103.15 L558.61,102.93 L558.92,102.70 L559.23,102.46 L559.52,102.22 L559.79,101.99 L560.04,101.79 L560.24,101.62 L560.40,101.50 L563.85,101.08 L563.88,101.08 L563.91,101.08 L563.94,101.07 L563.97,101.06 L564.00,101.05 L564.03,101.03 L564.06,101.01 L564.09,100.99 L564.12,100.97 L564.15,100.94 L564.18,100.91 L564.21,100.88 L564.24,100.85 L564.27,100.82 L564.30,100.78 L564.33,100.75 L564.36,100.71 L564.39,100.68 L564.42,100.64 L564.45,100.60 L564.48,100.57 L564.51,100.53 L564.54,100.50 L564.57,100.46 L564.60,100.43 L564.63,100.40 L564.66,100.37 L564.69,100.34 L564.72,100.32 L564.75,100.30 L564.78,100.28 L564.81,100.27 L564.83,100.26 L564.86,100.25 L564.89,100.24 L564.92,100.24 L564.97,100.24 L565.01,100.25 L565.05,100.26 L565.09,100.27 L565.13,100.28 L565.17,100.30 L565.21,100.32 L565.25,100.34 L565.29,100.37 L565.33,100.40 L565.37,100.43 L565.41,100.46 L565.45,100.50 L565.50,100.53 L565.54,100.57 L565.58,100.60 L565.62,100.64 L565.66,100.68 L565.70,100.71 L565.74,100.75 L565.78,100.78 L565.82,100.82 L565.86,100.85 L565.90,100.88 L565.94,100.91 L565.99,100.94 L566.03,100.97 L566.07,100.99 L566.11,101.01 L566.15,101.03 L566.19,101.05 L566.23,101.06 L566.27,101.07 L566.31,101.08 L566.35,101.08 L566.39,101.08 L566.42,101.08 L566.45,101.07 L566.49,101.06 L566.52,101.05 L566.55,101.03 L566.58,101.00 L566.61,100.97 L566.64,100.94 L566.67,100.91 L566.70,100.87 L566.73,100.82 L566.76,100.78 L566.79,100.73 L566.82,100.68 L566.85,100.62 L566.89,100.57 L566.92,100.51 L566.95,100.46 L566.98,100.40 L567.01,100.34 L567.04,100.28 L567.07,100.23 L567.10,100.17 L567.13,100.12 L567.16,100.07 L567.19,100.02 L567.22,99.97 L567.25,99.93 L567.29,99.89 L567.32,99.86 L567.35,99.83 L567.38,99.80 L567.41,99.78 L567.44,99.77 L567.47,99.76 L567.50,99.76 L567.54,99.76 L567.59,99.77 L567.63,99.79 L567.67,99.81 L567.71,99.84 L567.75,99.88 L567.80,99.92 L567.84,99.96 L567.88,100.01 L567.92,100.06 L567.97,100.12 L568.01,100.18 L568.05,100.24 L568.09,100.31 L568.13,100.38 L568.18,100.44 L568.22,100.51 L568.26,100.58 L568.30,100.64 L568.35,100.71 L568.39,100.77 L568.43,100.83 L568.47,100.89 L568.51,100.95 L568.56,101.00 L568.60,101.05 L568.64,101.10 L568.68,101.14 L568.73,101.18 L568.77,101.21 L568.81,101.24 L568.85,101.26 L568.89,101.28 L568.94,101.29 L568.98,101.30 L569.02,101.30 L569.05,101.30 L569.08,101.29 L569.12,101.28 L569.15,101.26 L569.18,101.23 L569.21,101.20 L569.24,101.17 L569.28,101.13 L569.31,101.08 L569.34,101.04 L569.37,100.98 L569.40,100.93 L569.43,100.87 L569.47,100.81 L569.50,100.74 L569.53,100.67 L569.56,100.60 L569.59,100.53 L569.63,100.46 L569.66,100.39 L569.69,100.32 L569.72,100.25 L569.75,100.18 L569.78,100.11 L569.82,100.05 L569.85,99.98 L569.88,99.93 L569.91,99.87 L569.94,99.82 L569.98,99.78 L570.01,99.74 L570.04,99.71 L570.07,99.69 L570.10,99.67 L570.13,99.66 L570.17,99.66 L570.21,99.66 L570.25,99.67 L570.30,99.69 L570.34,99.71 L570.39,99.75 L570.43,99.78 L570.47,99.83 L570.52,99.88 L570.56,99.93 L570.60,99.99 L570.65,100.05 L570.69,100.12 L570.74,100.19 L570.78,100.26 L570.82,100.33 L570.87,100.40 L570.91,100.47 L570.95,100.55 L571.00,100.62 L571.04,100.69 L571.08,100.76 L571.13,100.82 L571.17,100.89 L571.22,100.95 L571.26,101.00 L571.30,101.06 L571.35,101.10 L571.39,101.15 L571.43,101.19 L571.48,101.22 L571.52,101.25 L571.57,101.28 L571.61,101.30 L571.65,101.31 L571.70,101.32 L571.74,101.32 L571.77,101.32 L571.81,101.31 L571.84,101.30 L571.87,101.28 L571.91,101.25 L571.94,101.22 L571.97,101.19 L572.00,101.15 L572.04,101.10 L572.07,101.05 L572.10,101.00 L572.14,100.94 L572.17,100.88 L572.20,100.81 L572.24,100.74 L572.27,100.67 L572.30,100.60 L572.33,100.53 L572.37,100.45 L572.40,100.38 L572.43,100.30 L572.47,100.23 L572.50,100.16 L572.53,100.09 L572.57,100.02 L572.60,99.96 L572.63,99.90 L572.66,99.84 L572.70,99.79 L572.73,99.74 L572.76,99.71 L572.80,99.67 L572.83,99.65 L572.86,99.63 L572.90,99.62 L572.93,99.61 L572.97,99.62 L573.02,99.63 L573.06,99.65 L573.11,99.67 L573.15,99.71 L573.20,99.75 L573.25,99.79 L573.29,99.84 L573.34,99.90 L573.38,99.96 L573.43,100.03 L573.47,100.09 L573.52,100.17 L573.56,100.24 L573.61,100.31 L573.65,100.39 L573.70,100.46 L573.74,100.54 L573.79,100.61 L573.83,100.69 L573.88,100.76 L573.93,100.83 L573.97,100.89 L574.02,100.96 L574.06,101.01 L574.11,101.07 L574.15,101.12 L574.20,101.17 L574.24,101.21 L574.29,101.24 L574.33,101.27 L574.38,101.30 L574.42,101.32 L574.47,101.33 L574.52,101.34 L574.56,101.35 L574.59,101.34 L574.63,101.33 L574.66,101.32 L574.70,101.30 L574.73,101.27 L574.77,101.24 L574.80,101.20 L574.83,101.16 L574.87,101.12 L574.90,101.06 L574.94,101.01 L574.97,100.95 L575.01,100.88 L575.04,100.82 L575.07,100.74 L575.11,100.67 L575.14,100.60 L575.18,100.52 L575.21,100.44 L575.24,100.37 L575.28,100.29 L575.31,100.21 L575.35,100.14 L575.38,100.06 L575.42,99.99 L575.45,99.93 L575.48,99.86 L575.52,99.81 L575.55,99.75 L575.59,99.71 L575.62,99.66 L575.66,99.63 L575.69,99.60 L575.72,99.58 L575.76,99.57 L575.79,99.57 L575.84,99.57 L575.89,99.59 L575.93,99.60 L575.98,99.63 L576.03,99.67 L576.07,99.71 L576.12,99.76 L576.17,99.81 L576.22,99.87 L576.26,99.93 L576.31,100.00 L576.36,100.07 L576.40,100.14 L576.45,100.22 L576.50,100.30 L576.55,100.38 L576.59,100.46 L576.64,100.53 L576.69,100.61 L576.73,100.69 L576.78,100.76 L576.83,100.83 L576.87,100.90 L576.92,100.97 L576.97,101.03 L577.02,101.08 L577.06,101.14 L577.11,101.18 L577.16,101.23 L577.20,101.26 L577.25,101.30 L577.30,101.32 L577.35,101.34 L577.39,101.36 L577.44,101.37 L577.49,101.37 L577.52,101.37 L577.56,101.36 L577.59,101.34 L577.63,101.32 L577.66,101.30 L577.70,101.26 L577.74,101.22 L577.77,101.18 L577.81,101.13 L577.84,101.08 L577.88,101.02 L577.91,100.96 L577.95,100.89 L577.98,100.82 L578.02,100.75 L578.06,100.67 L578.09,100.59 L578.13,100.51 L578.16,100.43 L578.20,100.35 L578.23,100.27 L578.27,100.19 L578.30,100.11 L578.34,100.04 L578.38,99.96 L578.41,99.90 L578.45,99.83 L578.48,99.77 L578.52,99.71 L578.55,99.67 L578.59,99.62 L578.62,99.59 L578.66,99.56 L578.69,99.54 L578.73,99.53 L578.77,99.52 L578.82,99.53 L578.86,99.54 L578.91,99.56 L578.96,99.59 L579.01,99.62 L579.06,99.67 L579.11,99.72 L579.16,99.77 L579.21,99.83 L579.26,99.90 L579.30,99.97 L579.35,100.05 L579.40,100.12 L579.45,100.20 L579.50,100.28 L579.55,100.37 L579.60,100.45 L579.65,100.53 L579.70,100.61 L579.75,100.69 L579.79,100.77 L579.84,100.84 L579.89,100.91 L579.94,100.98 L579.99,101.04 L580.04,101.10 L580.09,101.15 L580.14,101.20 L580.19,101.25 L580.24,101.29 L580.28,101.32 L580.33,101.35 L580.38,101.37 L580.43,101.38 L580.48,101.39 L580.53,101.40 L580.57,101.39 L580.60,101.38 L580.64,101.37 L580.68,101.35 L580.71,101.32 L580.75,101.28 L580.79,101.24 L580.82,101.20 L580.86,101.15 L580.90,101.09 L580.94,101.03 L580.97,100.97 L581.01,100.90 L581.05,100.83 L581.08,100.75 L581.12,100.67 L581.16,100.59 L581.19,100.51 L581.23,100.42 L581.27,100.34 L581.31,100.26 L581.34,100.17 L581.38,100.09 L581.42,100.01 L581.45,99.94 L581.49,99.86 L581.53,99.80 L581.56,99.73 L581.60,99.67 L581.64,99.62 L581.67,99.58 L581.71,99.54 L581.75,99.51 L581.79,99.49 L581.82,99.48 L581.86,99.47 L581.91,99.48 L581.96,99.49 L582.01,99.51 L582.06,99.54 L582.11,99.58 L582.17,99.63 L582.22,99.68 L582.27,99.74 L582.32,99.80 L582.37,99.87 L582.42,99.94 L582.47,100.02 L582.52,100.10 L582.57,100.18 L582.62,100.27 L582.68,100.35 L582.73,100.44 L582.78,100.52 L582.83,100.61 L582.88,100.69 L582.93,100.77 L582.98,100.85 L583.03,100.92 L583.08,100.99 L583.14,101.05 L583.19,101.12 L583.24,101.17 L583.29,101.22 L583.34,101.27 L583.39,101.31 L583.44,101.34 L583.49,101.37 L583.54,101.39 L583.59,101.41 L583.65,101.42 L583.70,101.42 L583.74,101.42 L583.77,101.41 L583.81,101.39 L583.85,101.37 L583.89,101.34 L583.93,101.31 L583.97,101.27 L584.00,101.22 L584.04,101.17 L584.08,101.11 L584.12,101.05 L584.16,100.98 L584.20,100.91 L584.24,100.83 L584.27,100.75 L584.31,100.67 L584.35,100.59 L584.39,100.50 L584.43,100.42 L584.47,100.33 L584.50,100.24 L584.54,100.15 L584.58,100.07 L584.62,99.99 L584.66,99.91 L584.70,99.83 L584.74,99.76 L584.77,99.69 L584.81,99.63 L584.85,99.58 L584.89,99.53 L584.93,99.49 L584.97,99.46 L585.01,99.44 L585.04,99.43 L585.08,99.42 L585.14,99.43 L585.19,99.44 L585.24,99.46 L585.30,99.50 L585.35,99.53 L585.40,99.58 L585.46,99.64 L585.51,99.70 L585.56,99.76 L585.61,99.84 L585.67,99.91 L585.72,99.99 L585.77,100.08 L585.83,100.17 L585.88,100.25 L585.93,100.34 L585.99,100.43 L586.04,100.52 L586.09,100.61 L586.15,100.69 L586.20,100.77 L586.25,100.85 L586.31,100.93 L586.36,101.00 L586.41,101.07 L586.47,101.13 L586.52,101.19 L586.57,101.24 L586.63,101.29 L586.68,101.33 L586.73,101.37 L586.79,101.40 L586.84,101.42 L586.89,101.44 L586.95,101.45 L587.00,101.45 L587.04,101.45 L587.08,101.44 L587.12,101.42 L587.16,101.40 L587.20,101.37 L587.24,101.33 L587.28,101.29 L587.32,101.24 L587.36,101.19 L587.40,101.13 L587.44,101.06 L587.48,100.99 L587.52,100.92 L587.56,100.84 L587.60,100.76 L587.64,100.67 L587.68,100.59 L587.72,100.50 L587.76,100.41 L587.80,100.31 L587.84,100.22 L587.88,100.13 L587.92,100.05 L587.96,99.96 L588.00,99.88 L588.04,99.80 L588.08,99.72 L588.12,99.65 L588.16,99.59 L588.20,99.53 L588.24,99.49 L588.28,99.45 L588.33,99.41 L588.37,99.39 L588.41,99.38 L588.45,99.37 L588.50,99.38 L588.56,99.39 L588.61,99.41 L588.67,99.45 L588.72,99.49 L588.78,99.54 L588.84,99.59 L588.89,99.66 L588.95,99.73 L589.00,99.80 L589.06,99.88 L589.11,99.97 L589.17,100.06 L589.23,100.15 L589.28,100.24 L589.34,100.33 L589.39,100.42 L589.45,100.51 L589.50,100.60 L589.56,100.69 L589.62,100.78 L589.67,100.86 L589.73,100.94 L589.78,101.01 L589.84,101.08 L589.89,101.15 L589.95,101.21 L590.00,101.27 L590.06,101.31 L590.12,101.36 L590.17,101.39 L590.23,101.42 L590.28,101.45 L590.34,101.47 L590.39,101.48 L590.45,101.48 L590.49,101.48 L590.53,101.46 L590.58,101.45 L590.62,101.42 L590.66,101.39 L590.70,101.35 L590.74,101.31 L590.79,101.26 L590.83,101.20 L590.87,101.14 L590.91,101.08 L590.95,101.00 L591.00,100.93 L591.04,100.85 L591.08,100.76 L591.12,100.67 L591.16,100.58 L591.21,100.49 L591.25,100.40 L591.29,100.30 L591.33,100.21 L591.37,100.11 L591.42,100.02 L591.46,99.93 L591.50,99.84 L591.54,99.76 L591.58,99.68 L591.63,99.61 L591.67,99.55 L591.71,99.49 L591.75,99.44 L591.79,99.39 L591.84,99.36 L591.88,99.34 L591.92,99.32 L591.96,99.32 L592.05,99.32 L592.14,99.34 L592.23,99.36 L592.32,99.39 L592.41,99.44 L592.50,99.49 L592.59,99.55 L592.68,99.61 L592.77,99.69 L592.86,99.77 L592.94,99.85 L593.03,99.94 L593.12,100.03 L593.21,100.12 L593.30,100.22 L593.39,100.31 L593.48,100.41 L593.57,100.50 L593.66,100.60 L593.75,100.69 L593.84,100.78 L593.93,100.86 L594.02,100.94 L594.10,101.02 L594.19,101.09 L594.28,101.16 L594.37,101.22 L594.46,101.28 L594.55,101.33 L594.64,101.38 L594.73,101.41 L594.82,101.44 L594.91,101.47 L595.00,101.49 L595.09,101.50 L595.18,101.50 L595.24,101.49 L595.31,101.48 L595.38,101.45 L595.45,101.40 L595.51,101.35 L595.58,101.28 L595.65,101.20 L595.71,101.11 L595.78,101.01 L595.85,100.90 L595.92,100.78 L595.98,100.64 L596.05,100.50 L596.12,100.34 L596.19,100.18 L596.25,100.01 L596.32,99.83 L596.39,99.65 L596.46,99.45 L596.52,99.26 L596.59,99.06 L596.66,98.86 L596.72,98.66 L596.79,98.46 L596.86,98.27 L596.93,98.08 L596.99,97.90 L597.06,97.73 L597.13,97.57 L597.20,97.43 L597.26,97.30 L597.33,97.20 L597.40,97.11 L597.47,97.05 L597.53,97.01 L597.60,97.00 L597.66,97.01 L597.71,97.05 L597.77,97.11 L597.82,97.20 L597.88,97.30 L597.93,97.43 L597.99,97.57 L598.04,97.73 L598.10,97.90 L598.15,98.08 L598.21,98.27 L598.26,98.46 L598.32,98.66 L598.38,98.86 L598.43,99.06 L598.49,99.26 L598.54,99.45 L598.60,99.65 L598.65,99.83 L598.71,100.01 L598.76,100.18 L598.82,100.34 L598.87,100.50 L598.93,100.64 L598.99,100.78 L599.04,100.90 L599.10,101.01 L599.15,101.11 L599.21,101.20 L599.26,101.28 L599.32,101.35 L599.37,101.40 L599.43,101.45 L599.48,101.48 L599.54,101.49 L599.60,101.50 L599.64,101.49 L599.68,101.47 L599.72,101.43 L599.76,101.37 L599.80,101.29 L599.85,101.20 L599.89,101.10 L599.93,100.97 L599.97,100.83 L600.01,100.68 L600.05,100.51 L600.10,100.32 L600.14,100.11 L600.18,99.89 L600.22,99.66 L600.26,99.40 L600.31,99.14 L600.35,98.86 L600.39,98.56 L600.43,98.26 L600.47,97.94 L600.51,97.62 L600.56,97.29 L600.60,96.95 L600.64,96.61 L600.68,96.28 L600.72,95.95 L600.77,95.64 L600.81,95.34 L600.85,95.06 L600.89,94.82 L600.93,94.60 L600.97,94.43 L601.02,94.30 L601.06,94.23 L601.10,94.20 L601.16,94.23 L601.22,94.30 L601.28,94.43 L601.33,94.60 L601.39,94.82 L601.45,95.06 L601.51,95.34 L601.57,95.64 L601.63,95.95 L601.69,96.28 L601.74,96.61 L601.80,96.95 L601.86,97.29 L601.92,97.62 L601.98,97.94 L602.04,98.26 L602.10,98.56 L602.15,98.86 L602.21,99.14 L602.27,99.40 L602.33,99.66 L602.39,99.89 L602.45,100.11 L602.51,100.32 L602.56,100.51 L602.62,100.68 L602.68,100.83 L602.74,100.97 L602.80,101.10 L602.86,101.20 L602.92,101.29 L602.97,101.37 L603.03,101.43 L603.09,101.47 L603.15,101.49 L603.21,101.50 L603.25,101.49 L603.30,101.48 L603.34,101.45 L603.39,101.41 L603.43,101.37 L603.47,101.31 L603.52,101.24 L603.56,101.16 L603.61,101.07 L603.65,100.97 L603.70,100.86 L603.74,100.74 L603.78,100.62 L603.83,100.48 L603.87,100.34 L603.92,100.20 L603.96,100.04 L604.00,99.88 L604.05,99.72 L604.09,99.55 L604.14,99.39 L604.18,99.22 L604.23,99.05 L604.27,98.89 L604.31,98.73 L604.36,98.57 L604.40,98.42 L604.45,98.28 L604.49,98.16 L604.53,98.04 L604.58,97.94 L604.62,97.86 L604.67,97.79 L604.71,97.74 L604.76,97.71 L604.80,97.70 L604.86,97.71 L604.92,97.74 L604.99,97.79 L605.05,97.86 L605.11,97.94 L605.17,98.04 L605.23,98.16 L605.29,98.28 L605.36,98.42 L605.42,98.57 L605.48,98.73 L605.54,98.89 L605.60,99.05 L605.66,99.22 L605.73,99.39 L605.79,99.55 L605.85,99.72 L605.91,99.88 L605.97,100.04 L606.03,100.20 L606.10,100.34 L606.16,100.48 L606.22,100.62 L606.28,100.74 L606.34,100.86 L606.41,100.97 L606.47,101.07 L606.53,101.16 L606.59,101.24 L606.65,101.31 L606.71,101.37 L606.78,101.41 L606.84,101.45 L606.90,101.48 L606.96,101.49 L607.02,101.50 L607.07,101.49 L607.12,101.47 L607.16,101.44 L607.21,101.40 L607.26,101.34 L607.30,101.27 L607.35,101.19 L607.40,101.09 L607.44,100.99 L607.49,100.87 L607.54,100.74 L607.58,100.60 L607.63,100.45 L607.68,100.29 L607.72,100.11 L607.77,99.93 L607.81,99.74 L607.86,99.55 L607.91,99.35 L607.95,99.14 L608.00,98.93 L608.05,98.71 L608.09,98.50 L608.14,98.28 L608.19,98.08 L608.23,97.87 L608.28,97.68 L608.33,97.49 L608.37,97.32 L608.42,97.17 L608.47,97.03 L608.51,96.91 L608.56,96.82 L608.61,96.75 L608.65,96.71 L608.70,96.70 L608.76,96.72 L608.83,96.77 L608.89,96.85 L608.96,96.97 L609.02,97.11 L609.09,97.28 L609.15,97.47 L609.22,97.68 L609.28,97.90 L609.35,98.14 L609.41,98.38 L609.48,98.63 L609.54,98.88 L609.61,99.14 L609.67,99.39 L609.74,99.63 L609.80,99.87 L609.87,100.11 L609.93,100.33 L610.00,100.55 L610.06,100.75 L610.13,100.95 L610.19,101.13 L610.26,101.30 L610.32,101.46 L610.39,101.60 L610.45,101.73 L610.52,101.85 L610.58,101.96 L610.65,102.05 L610.71,102.12 L610.78,102.19 L610.84,102.24 L610.91,102.27 L610.97,102.29 L611.04,102.30 L611.09,102.29 L611.13,102.27 L611.18,102.22 L611.23,102.17 L611.28,102.09 L611.33,102.00 L611.38,101.89 L611.43,101.76 L611.48,101.62 L611.53,101.46 L611.58,101.28 L611.62,101.09 L611.67,100.88 L611.72,100.65 L611.77,100.41 L611.82,100.15 L611.87,99.88 L611.92,99.59 L611.97,99.28 L612.02,98.97 L612.07,98.64 L612.11,98.30 L612.16,97.96 L612.21,97.61 L612.26,97.26 L612.31,96.91 L612.36,96.56 L612.41,96.23 L612.46,95.91 L612.51,95.62 L612.56,95.36 L612.60,95.13 L612.65,94.95 L612.70,94.81 L612.75,94.73 L612.80,94.70 L612.87,94.73 L612.94,94.84 L613.01,95.00 L613.08,95.22 L613.16,95.49 L613.23,95.81 L613.30,96.15 L613.37,96.52 L613.44,96.91 L613.51,97.30 L613.58,97.70 L613.65,98.10 L613.73,98.49 L613.80,98.88 L613.87,99.25 L613.94,99.61 L614.01,99.96 L614.08,100.29 L614.15,100.61 L614.23,100.90 L614.30,101.18 L614.37,101.44 L614.44,101.69 L614.51,101.91 L614.58,102.12 L614.65,102.31 L614.72,102.48 L614.79,102.63 L614.87,102.76 L614.94,102.88 L615.01,102.98 L615.08,103.06 L615.15,103.12 L615.22,103.16 L615.29,103.19 L615.37,103.20 L615.42,103.19 L615.47,103.16 L615.53,103.12 L615.58,103.05 L615.63,102.97 L615.69,102.86 L615.74,102.74 L615.79,102.60 L615.85,102.44 L615.90,102.26 L615.96,102.06 L616.01,101.84 L616.06,101.60 L616.12,101.34 L616.17,101.06 L616.23,100.76 L616.28,100.44 L616.33,100.10 L616.39,99.74 L616.44,99.36 L616.49,98.96 L616.55,98.55 L616.60,98.12 L616.65,97.68 L616.71,97.23 L616.76,96.78 L616.82,96.32 L616.87,95.88 L616.92,95.45 L616.98,95.04 L617.03,94.66 L617.08,94.34 L617.14,94.07 L617.19,93.87 L617.25,93.74 L617.30,93.70 L617.38,93.75 L617.46,93.90 L617.55,94.13 L617.63,94.44 L617.71,94.82 L617.79,95.24 L617.88,95.71 L617.96,96.19 L618.04,96.69 L618.12,97.19 L618.21,97.69 L618.29,98.18 L618.37,98.65 L618.45,99.11 L618.53,99.56 L618.62,99.98 L618.70,100.38 L618.78,100.76 L618.86,101.12 L618.95,101.46 L619.03,101.77 L619.11,102.07 L619.19,102.34 L619.28,102.59 L619.36,102.82 L619.44,103.02 L619.52,103.21 L619.61,103.38 L619.69,103.53 L619.77,103.65 L619.85,103.76 L619.93,103.85 L620.02,103.91 L620.10,103.96 L620.18,103.99 L620.26,104.00 L620.42,103.93 L620.57,103.75 L620.72,103.46 L620.85,103.07 L620.98,102.61 L621.11,102.07 L621.23,101.48 L621.34,100.83 L621.44,100.14 L621.54,99.43 L621.63,98.70 L621.72,97.96 L621.80,97.24 L621.88,96.53 L621.95,95.86 L622.01,95.23 L622.08,94.66 L622.13,94.15 L622.18,93.71 L622.23,93.34 L622.27,93.04 L622.31,92.80 L622.34,92.62 L622.37,92.48 L622.40,92.38 L622.42,92.31 L622.44,92.26 L622.46,92.23 L622.47,92.22 L622.48,92.21 L622.49,92.20 L622.49,92.20 L622.50,92.20 L622.50,92.20 L622.50,92.20 L622.50,92.20 L622.50,92.20 L622.50,92.20 L622.50,92.20 L622.51,92.20 L622.52,92.20 L622.53,92.21 L622.55,92.22 L622.56,92.25 L622.59,92.29 L622.61,92.35 L622.65,92.44 L622.68,92.58 L622.73,92.76 L622.77,93.01 L622.83,93.32 L622.89,93.72 L622.95,94.19 L623.03,94.74 L623.11,95.37 L623.19,96.06 L623.29,96.80 L623.39,97.59 L623.50,98.40 L623.61,99.22 L623.74,100.03 L623.87,100.84 L624.01,101.61 L624.16,102.35 L624.32,103.04 L624.49,103.67 L624.66,104.24 L624.85,104.73 L625.05,105.13 L625.25,105.44 L625.47,105.63 L625.69,105.70 L625.86,105.63 L626.02,105.43 L626.18,105.11 L626.33,104.69 L626.47,104.17 L626.60,103.57 L626.73,102.90 L626.85,102.16 L626.96,101.36 L627.07,100.51 L627.17,99.62 L627.26,98.70 L627.35,97.77 L627.43,96.82 L627.51,95.89 L627.58,94.98 L627.64,94.11 L627.70,93.30 L627.76,92.57 L627.81,91.92 L627.85,91.37 L627.89,90.91 L627.93,90.55 L627.96,90.28 L627.99,90.07 L628.01,89.93 L628.03,89.83 L628.05,89.77 L628.07,89.74 L628.08,89.72 L628.09,89.71 L628.09,89.70 L628.10,89.70 L628.10,89.70 L628.10,89.70 L628.10,89.70 L628.10,89.70 L628.10,89.70 L628.11,89.70 L628.11,89.70 L628.12,89.71 L628.13,89.72 L628.15,89.75 L628.17,89.80 L628.19,89.88 L628.22,90.01 L628.25,90.19 L628.29,90.46 L628.33,90.82 L628.38,91.28 L628.43,91.85 L628.49,92.52 L628.56,93.30 L628.64,94.17 L628.72,95.10 L628.80,96.08 L628.90,97.09 L629.00,98.12 L629.11,99.14 L629.23,100.14 L629.36,101.11 L629.49,102.05 L629.64,102.93 L629.79,103.76 L629.95,104.53 L630.12,105.22 L630.30,105.83 L630.49,106.36 L630.69,106.80 L630.90,107.12 L631.12,107.33 L631.35,107.40 L631.52,107.33 L631.69,107.11 L631.85,106.78 L632.00,106.33 L632.14,105.79 L632.27,105.15 L632.40,104.43 L632.52,103.63 L632.64,102.76 L632.75,101.83 L632.85,100.83 L632.95,99.79 L633.04,98.69 L633.12,97.56 L633.20,96.40 L633.27,95.22 L633.33,94.05 L633.40,92.90 L633.45,91.79 L633.50,90.76 L633.55,89.82 L633.59,88.99 L633.63,88.30 L633.66,87.75 L633.69,87.32 L633.71,87.01 L633.73,86.80 L633.75,86.67 L633.77,86.58 L633.78,86.54 L633.79,86.51 L633.79,86.50 L633.80,86.50 L633.80,86.50 L633.80,86.50 L633.80,86.50 L633.80,86.50 L633.80,86.50 L633.81,86.50 L633.81,86.51 L633.82,86.52 L633.83,86.56 L633.85,86.63 L633.87,86.75 L633.89,86.96 L633.92,87.27 L633.95,87.72 L633.99,88.32 L634.03,89.08 L634.08,90.00 L634.14,91.06 L634.20,92.22 L634.27,93.45 L634.35,94.74 L634.43,96.04 L634.52,97.33 L634.61,98.61 L634.72,99.85 L634.83,101.05 L634.95,102.20 L635.08,103.29 L635.22,104.32 L635.36,105.28 L635.52,106.17 L635.68,106.98 L635.86,107.72 L636.04,108.37 L636.23,108.92 L636.44,109.37 L636.65,109.71 L636.87,109.92 L637.11,110.00 L637.28,109.92 L637.45,109.71 L637.61,109.36 L637.76,108.90 L637.91,108.34 L638.05,107.68 L638.18,106.93 L638.30,106.09 L638.42,105.18 L638.53,104.18 L638.63,103.12 L638.73,101.97 L638.82,100.76 L638.91,99.48 L638.99,98.13 L639.06,96.73 L639.13,95.26 L639.19,93.74 L639.25,92.19 L639.30,90.61 L639.34,89.04 L639.39,87.51 L639.42,86.07 L639.46,84.76 L639.49,83.64 L639.51,82.73 L639.53,82.06 L639.55,81.60 L639.56,81.31 L639.58,81.14 L639.59,81.05 L639.59,81.02 L639.60,81.00 L639.60,81.00 L639.60,81.00 L639.60,81.00 L639.60,81.00 L639.60,81.00 L639.61,81.00 L639.61,81.02 L639.62,81.07 L639.64,81.18 L639.66,81.39 L639.68,81.75 L639.71,82.32 L639.74,83.14 L639.78,84.20 L639.83,85.49 L639.88,86.95 L639.94,88.53 L640.01,90.17 L640.08,91.83 L640.17,93.47 L640.26,95.08 L640.36,96.63 L640.47,98.13 L640.58,99.56 L640.71,100.92 L640.84,102.22 L640.99,103.44 L641.15,104.59 L641.31,105.66 L641.49,106.66 L641.68,107.58 L641.87,108.42 L642.08,109.17 L642.30,109.84 L642.54,110.40 L642.78,110.86 L643.04,111.20 L643.31,111.42 L643.59,111.50 L643.80,111.42 L644.01,111.20 L644.20,110.86 L644.38,110.40 L644.56,109.83 L644.73,109.16 L644.88,108.40 L645.03,107.56 L645.18,106.63 L645.31,105.62 L645.43,104.53 L645.55,103.37 L645.66,102.12 L645.76,100.80 L645.86,99.40 L645.95,97.92 L646.03,96.35 L646.10,94.71 L646.17,92.98 L646.23,91.17 L646.29,89.29 L646.34,87.35 L646.39,85.38 L646.43,83.43 L646.46,81.55 L646.49,79.83 L646.52,78.38 L646.54,77.26 L646.56,76.48 L646.57,76.01 L646.58,75.76 L646.59,75.65 L646.60,75.61 L646.60,75.60 L646.60,75.60 L646.60,75.60 L646.60,75.60 L646.60,75.60 L646.61,75.62 L646.61,75.68 L646.62,75.86 L646.64,76.25 L646.66,76.97 L646.68,78.09 L646.71,79.63 L646.75,81.49 L646.79,83.55 L646.84,85.71 L646.90,87.87 L646.96,89.98 L647.03,92.03 L647.11,93.98 L647.20,95.84 L647.30,97.60 L647.40,99.27 L647.51,100.85 L647.64,102.35 L647.77,103.76 L647.92,105.09 L648.07,106.34 L648.23,107.52 L648.41,108.61 L648.60,109.62 L648.79,110.55 L649.00,111.40 L649.23,112.16 L649.46,112.83 L649.71,113.39 L649.96,113.86 L650.24,114.20 L650.52,114.42 L650.82,114.50 L651.04,114.42 L651.26,114.20 L651.46,113.86 L651.66,113.39 L651.84,112.82 L652.02,112.15 L652.19,111.39 L652.34,110.55 L652.49,109.61 L652.63,108.60 L652.77,107.50 L652.89,106.32 L653.01,105.07 L653.12,103.73 L653.22,102.31 L653.31,100.80 L653.40,99.19 L653.48,97.50 L653.55,95.69 L653.61,93.78 L653.67,91.76 L653.73,89.61 L653.77,87.33 L653.82,84.93 L653.85,82.42 L653.89,79.85 L653.91,77.30 L653.94,74.93 L653.95,72.93 L653.97,71.49 L653.98,70.62 L653.99,70.20 L654.00,70.05 L654.00,70.01 L654.00,70.00 L654.00,70.00 L654.00,70.00 L654.00,70.02 L654.01,70.13 L654.02,70.57 L654.03,71.66 L654.04,73.61 L654.06,76.32 L654.09,79.40 L654.12,82.57 L654.16,85.63 L654.21,88.53 L654.26,91.24 L654.32,93.77 L654.39,96.13 L654.47,98.33 L654.55,100.39 L654.65,102.33 L654.75,104.15 L654.87,105.86 L654.99,107.47 L655.12,108.99 L655.27,110.41 L655.42,111.76 L655.59,113.02 L655.77,114.19 L655.96,115.29 L656.16,116.31 L656.37,117.24 L656.60,118.09 L656.84,118.85 L657.09,119.52 L657.36,120.09 L657.64,120.56 L657.93,120.90 L658.24,121.12 L658.56,121.20 L658.80,121.12 L659.04,120.90 L659.26,120.55 L659.47,120.09 L659.67,119.52 L659.86,118.85 L660.04,118.09 L660.21,117.24 L660.37,116.31 L660.52,115.29 L660.67,114.19 L660.80,113.01 L660.93,111.75 L661.04,110.41 L661.15,108.98 L661.25,107.46 L661.35,105.85 L661.43,104.13 L661.51,102.31 L661.58,100.36 L661.65,98.29 L661.70,96.06 L661.76,93.67 L661.80,91.10 L661.84,88.31 L661.88,85.28 L661.91,81.98 L661.93,78.39 L661.95,74.57 L661.97,70.67 L661.98,67.15 L661.99,64.67 L661.99,63.49 L662.00,63.15 L662.00,63.10 L662.00,63.10 L662.00,63.10 L662.00,63.25 L662.01,64.22 L662.02,67.02 L662.03,71.43 L662.05,76.26 L662.08,80.85 L662.11,85.01 L662.16,88.76 L662.20,92.15 L662.26,95.23 L662.33,98.05 L662.40,100.64 L662.49,103.04 L662.59,105.27 L662.69,107.35 L662.81,109.30 L662.94,111.13 L663.08,112.84 L663.24,114.46 L663.40,115.98 L663.58,117.41 L663.78,118.75 L663.99,120.01 L664.21,121.19 L664.45,122.29 L664.70,123.31 L664.97,124.24 L665.25,125.09 L665.55,125.85 L665.86,126.52 L666.20,127.09 L666.55,127.55 L666.91,127.90 L667.30,128.12 L667.70,128.20 L668.00,128.12 L668.29,127.90 L668.57,127.55 L668.83,127.09 L669.09,126.52 L669.32,125.85 L669.55,125.09 L669.76,124.24 L669.96,123.31 L670.15,122.29 L670.33,121.19 L670.50,120.01 L670.66,118.75 L670.80,117.41 L670.94,115.98 L671.07,114.46 L671.18,112.84 L671.29,111.12 L671.39,109.30 L671.48,107.35 L671.56,105.27 L671.63,103.03 L671.70,100.63 L671.75,98.03 L671.80,95.20 L671.85,92.11 L671.88,88.69 L671.91,84.87 L671.94,80.57 L671.96,75.66 L671.97,70.06 L671.99,63.85 L671.99,58.13 L672.00,55.15 L672.00,54.62 L672.00,54.60 L672.00,54.66 L672.00,56.54 L672.01,63.26 L672.02,71.28 L672.04,78.24 L672.06,84.10 L672.09,89.09 L672.13,93.43 L672.18,97.27 L672.23,100.70 L672.30,103.80 L672.38,106.63 L672.46,109.23 L672.56,111.63 L672.67,113.86 L672.80,115.95 L672.93,117.90 L673.08,119.72 L673.24,121.44 L673.42,123.05 L673.61,124.57 L673.82,126.01 L674.04,127.35 L674.28,128.61 L674.54,129.79 L674.81,130.89 L675.10,131.91 L675.41,132.84 L675.74,133.69 L676.08,134.45 L676.44,135.12 L676.83,135.69 L677.23,136.15 L677.65,136.50 L678.09,136.72 L678.55,136.80 L678.90,136.72 L679.24,136.50 L679.56,136.15 L679.86,135.69 L680.15,135.12 L680.42,134.45 L680.68,133.69 L680.93,132.84 L681.16,131.91 L681.38,130.89 L681.58,129.79 L681.78,128.61 L681.96,127.35 L682.13,126.01 L682.28,124.57 L682.43,123.05 L682.56,121.44 L682.68,119.72 L682.80,117.90 L682.90,115.95 L682.99,113.86 L683.08,111.63 L683.15,109.23 L683.22,106.63 L683.27,103.80 L683.32,100.69 L683.37,97.26 L683.40,93.42 L683.43,89.08 L683.45,84.06 L683.47,78.14 L683.48,70.96 L683.49,62.01 L683.50,51.85 L683.50,46.91 L683.50,46.70 L683.50,47.80 L683.50,59.76 L683.51,72.25 L683.53,81.55 L683.55,88.81 L683.57,94.75 L683.61,99.77 L683.65,104.12 L683.71,107.96 L683.78,111.39 L683.85,114.50 L683.94,117.33 L684.04,119.93 L684.16,122.33 L684.29,124.56 L684.43,126.65 L684.59,128.60 L684.77,130.42 L684.96,132.14 L685.17,133.75 L685.39,135.27 L685.64,136.71 L685.90,138.05 L686.18,139.31 L686.48,140.49 L686.80,141.59 L687.14,142.61 L687.50,143.54 L687.89,144.39 L688.29,145.15 L688.72,145.82 L689.17,146.39 L689.64,146.85 L690.13,147.20 L690.65,147.42 L691.20,147.50 L691.60,147.42 L692.00,147.20 L692.37,146.85 L692.73,146.39 L693.06,145.82 L693.39,145.15 L693.69,144.39 L693.98,143.54 L694.25,142.61 L694.51,141.59 L694.75,140.49 L694.98,139.31 L695.19,138.05 L695.39,136.71 L695.57,135.27 L695.74,133.75 L695.90,132.14 L696.04,130.42 L696.17,128.60 L696.30,126.65 L696.40,124.56 L696.50,122.33 L696.59,119.93 L696.67,117.33 L696.73,114.50 L696.79,111.39 L696.84,107.96 L696.88,104.12 L696.92,99.77 L696.94,94.74 L696.97,88.80 L696.98,81.53 L696.99,72.18 L697.00,59.23 L697.00,42.84 L697.00,40.10 L697.00,47.94 L697.01,68.49 L697.01,81.65 L697.03,91.03 L697.05,98.30 L697.09,104.24 L697.13,109.27 L697.18,113.62 L697.25,117.46 L697.33,120.89 L697.42,124.00 L697.53,126.83 L697.65,129.43 L697.79,131.83 L697.95,134.06 L698.12,136.15 L698.31,138.10 L698.52,139.92 L698.75,141.64 L699.00,143.25 L699.27,144.77 L699.57,146.21 L699.88,147.55 L700.22,148.81 L700.58,149.99 L700.96,151.09 L701.37,152.11 L701.80,153.04 L702.26,153.89 L702.75,154.65 L703.26,155.32 L703.80,155.89 L704.36,156.35 L704.96,156.70 L705.58,156.92 L706.23,157.00 L706.73,156.92 L707.20,156.70 L707.64,156.35 L708.07,155.89 L708.48,155.32 L708.86,154.65 L709.23,153.89 L709.58,153.04 L709.90,152.11 L710.21,151.09 L710.50,149.99 L710.77,148.81 L711.03,147.55 L711.26,146.21 L711.48,144.77 L711.69,143.25 L711.88,141.64 L712.05,139.92 L712.21,138.10 L712.35,136.15 L712.48,134.06 L712.60,131.83 L712.71,129.43 L712.80,126.83 L712.88,124.00 L712.95,120.89 L713.01,117.46 L713.06,113.62 L713.10,109.27 L713.13,104.24 L713.16,98.30 L713.18,91.02 L713.19,81.65 L713.20,68.45 L713.20,46.88 L713.20,35.20 L713.20,58.09 L713.21,80.53 L713.22,93.74 L713.24,103.12 L713.27,110.40 L713.30,116.34 L713.36,121.37 L713.42,125.72 L713.50,129.56 L713.60,132.99 L713.71,136.10 L713.84,138.93 L713.98,141.53 L714.15,143.93 L714.34,146.16 L714.54,148.25 L714.77,150.20 L715.02,152.02 L715.30,153.74 L715.60,155.35 L715.92,156.87 L716.27,158.31 L716.65,159.65 L717.05,160.91 L717.48,162.09 L717.94,163.19 L718.43,164.21 L718.95,165.14 L719.50,165.99 L720.08,166.75 L720.70,167.42 L721.34,167.99 L722.02,168.45 L722.73,168.80 L723.48,169.02 L724.26,169.10 L724.85,169.02 L725.41,168.80 L725.95,168.45 L726.46,167.99 L726.95,167.42 L727.41,166.75 L727.85,165.99 L728.26,165.14 L728.65,164.21 L729.02,163.19 L729.37,162.09 L729.69,160.91 L730.00,159.65 L730.28,158.31 L730.55,156.87 L730.79,155.35 L731.02,153.74 L731.22,152.02 L731.41,150.20 L731.59,148.25 L731.74,146.16 L731.88,143.93 L732.01,141.53 L732.12,138.93 L732.22,136.10 L732.30,132.99 L732.37,129.56 L732.43,125.72 L732.48,121.37 L732.52,116.34 L732.55,110.40 L732.57,103.12 L732.59,93.74 L732.60,80.53 L732.60,58.14 L732.60,37.00 L732.60,59.99 L732.60,82.43 L732.61,95.64 L732.62,105.02 L732.63,112.30 L732.65,118.24 L732.68,123.27 L732.71,127.62 L732.75,131.46 L732.79,134.89 L732.85,138.00 L732.91,140.83 L732.98,143.43 L733.06,145.83 L733.15,148.06 L733.26,150.15 L733.37,152.10 L733.49,153.92 L733.63,155.64 L733.77,157.25 L733.93,158.77 L734.10,160.21 L734.28,161.55 L734.48,162.81 L734.69,163.99 L734.92,165.09 L735.16,166.11 L735.41,167.04 L735.68,167.89 L735.96,168.65 L736.26,169.32 L736.58,169.89 L736.91,170.35 L737.25,170.70 L737.62,170.92 L738.00,171.00 L743.00,171.40 L753.80,171.60" stroke="#b01a20" stroke-width="1.5" fill="none" stroke-linejoin="round" stroke-linecap="round" clip-path="url(#cR)"/>
<path d="M53.03,217.10v-2.8M53.03,20.30v2.8M70.24,217.10v-2.8M70.24,20.30v2.8M84.30,217.10v-2.8M84.30,20.30v2.8M96.19,217.10v-2.8M96.19,20.30v2.8M106.49,217.10v-2.8M106.49,20.30v2.8M115.57,217.10v-2.8M115.57,20.30v2.8M123.70,217.10v-5.6M123.70,20.30v5.6M177.16,217.10v-2.8M177.16,20.30v2.8M208.44,217.10v-2.8M208.44,20.30v2.8M230.63,217.10v-2.8M230.63,20.30v2.8M247.84,217.10v-2.8M247.84,20.30v2.8M261.90,217.10v-2.8M261.90,20.30v2.8M273.79,217.10v-2.8M273.79,20.30v2.8M284.09,217.10v-2.8M284.09,20.30v2.8M293.17,217.10v-2.8M293.17,20.30v2.8M301.30,217.10v-5.6M301.30,20.30v5.6M354.76,217.10v-2.8M354.76,20.30v2.8M53.00,214.29h2.8M371.90,214.29h-2.8M53.00,210.22h2.8M371.90,210.22h-2.8M53.00,207.34h2.8M371.90,207.34h-2.8M53.00,205.10h5.6M371.90,205.10h-5.6M53.00,198.15h2.8M371.90,198.15h-2.8M53.00,191.19h2.8M371.90,191.19h-2.8M53.00,187.12h2.8M371.90,187.12h-2.8M53.00,184.24h2.8M371.90,184.24h-2.8M53.00,182.00h5.6M371.90,182.00h-5.6M53.00,175.05h2.8M371.90,175.05h-2.8M53.00,168.09h2.8M371.90,168.09h-2.8M53.00,164.02h2.8M371.90,164.02h-2.8M53.00,161.14h2.8M371.90,161.14h-2.8M53.00,158.90h5.6M371.90,158.90h-5.6M53.00,151.95h2.8M371.90,151.95h-2.8M53.00,144.99h2.8M371.90,144.99h-2.8M53.00,140.92h2.8M371.90,140.92h-2.8M53.00,138.04h2.8M371.90,138.04h-2.8M53.00,135.80h5.6M371.90,135.80h-5.6M53.00,128.85h2.8M371.90,128.85h-2.8M53.00,121.89h2.8M371.90,121.89h-2.8M53.00,117.82h2.8M371.90,117.82h-2.8M53.00,114.94h2.8M371.90,114.94h-2.8M53.00,112.70h5.6M371.90,112.70h-5.6M53.00,105.75h2.8M371.90,105.75h-2.8M53.00,98.79h2.8M371.90,98.79h-2.8M53.00,94.72h2.8M371.90,94.72h-2.8M53.00,91.84h2.8M371.90,91.84h-2.8M53.00,89.60h5.6M371.90,89.60h-5.6M53.00,82.65h2.8M371.90,82.65h-2.8M53.00,75.69h2.8M371.90,75.69h-2.8M53.00,71.62h2.8M371.90,71.62h-2.8M53.00,68.74h2.8M371.90,68.74h-2.8M53.00,66.50h5.6M371.90,66.50h-5.6M53.00,59.55h2.8M371.90,59.55h-2.8M53.00,52.59h2.8M371.90,52.59h-2.8M53.00,48.52h2.8M371.90,48.52h-2.8M53.00,45.64h2.8M371.90,45.64h-2.8M53.00,43.40h5.6M371.90,43.40h-5.6M53.00,36.45h2.8M371.90,36.45h-2.8M53.00,29.49h2.8M371.90,29.49h-2.8M53.00,25.42h2.8M371.90,25.42h-2.8M53.00,22.54h2.8M371.90,22.54h-2.8M53.00,20.30h5.6M371.90,20.30h-5.6" stroke="#000" stroke-width="0.8" fill="none"/>
<rect x="53.0" y="20.3" width="318.90" height="196.80" fill="none" stroke="#000" stroke-width="1.5"/>
<path d="M441.13,217.10v-2.8M441.13,20.30v2.8M458.34,217.10v-2.8M458.34,20.30v2.8M472.40,217.10v-2.8M472.40,20.30v2.8M484.29,217.10v-2.8M484.29,20.30v2.8M494.59,217.10v-2.8M494.59,20.30v2.8M503.67,217.10v-2.8M503.67,20.30v2.8M511.80,217.10v-5.6M511.80,20.30v5.6M565.26,217.10v-2.8M565.26,20.30v2.8M596.54,217.10v-2.8M596.54,20.30v2.8M618.73,217.10v-2.8M618.73,20.30v2.8M635.94,217.10v-2.8M635.94,20.30v2.8M650.00,217.10v-2.8M650.00,20.30v2.8M661.89,217.10v-2.8M661.89,20.30v2.8M672.19,217.10v-2.8M672.19,20.30v2.8M681.27,217.10v-2.8M681.27,20.30v2.8M689.40,217.10v-5.6M689.40,20.30v5.6M742.86,217.10v-2.8M742.86,20.30v2.8M441.10,214.29h2.8M759.30,214.29h-2.8M441.10,210.22h2.8M759.30,210.22h-2.8M441.10,207.34h2.8M759.30,207.34h-2.8M441.10,205.10h5.6M759.30,205.10h-5.6M441.10,198.15h2.8M759.30,198.15h-2.8M441.10,191.19h2.8M759.30,191.19h-2.8M441.10,187.12h2.8M759.30,187.12h-2.8M441.10,184.24h2.8M759.30,184.24h-2.8M441.10,182.00h5.6M759.30,182.00h-5.6M441.10,175.05h2.8M759.30,175.05h-2.8M441.10,168.09h2.8M759.30,168.09h-2.8M441.10,164.02h2.8M759.30,164.02h-2.8M441.10,161.14h2.8M759.30,161.14h-2.8M441.10,158.90h5.6M759.30,158.90h-5.6M441.10,151.95h2.8M759.30,151.95h-2.8M441.10,144.99h2.8M759.30,144.99h-2.8M441.10,140.92h2.8M759.30,140.92h-2.8M441.10,138.04h2.8M759.30,138.04h-2.8M441.10,135.80h5.6M759.30,135.80h-5.6M441.10,128.85h2.8M759.30,128.85h-2.8M441.10,121.89h2.8M759.30,121.89h-2.8M441.10,117.82h2.8M759.30,117.82h-2.8M441.10,114.94h2.8M759.30,114.94h-2.8M441.10,112.70h5.6M759.30,112.70h-5.6M441.10,105.75h2.8M759.30,105.75h-2.8M441.10,98.79h2.8M759.30,98.79h-2.8M441.10,94.72h2.8M759.30,94.72h-2.8M441.10,91.84h2.8M759.30,91.84h-2.8M441.10,89.60h5.6M759.30,89.60h-5.6M441.10,82.65h2.8M759.30,82.65h-2.8M441.10,75.69h2.8M759.30,75.69h-2.8M441.10,71.62h2.8M759.30,71.62h-2.8M441.10,68.74h2.8M759.30,68.74h-2.8M441.10,66.50h5.6M759.30,66.50h-5.6M441.10,59.55h2.8M759.30,59.55h-2.8M441.10,52.59h2.8M759.30,52.59h-2.8M441.10,48.52h2.8M759.30,48.52h-2.8M441.10,45.64h2.8M759.30,45.64h-2.8M441.10,43.40h5.6M759.30,43.40h-5.6M441.10,36.45h2.8M759.30,36.45h-2.8M441.10,29.49h2.8M759.30,29.49h-2.8M441.10,25.42h2.8M759.30,25.42h-2.8M441.10,22.54h2.8M759.30,22.54h-2.8M441.10,20.30h5.6M759.30,20.30h-5.6" stroke="#000" stroke-width="0.8" fill="none"/>
<rect x="441.1" y="20.3" width="318.20" height="196.80" fill="none" stroke="#000" stroke-width="1.5"/>
</svg>
</body></html>
